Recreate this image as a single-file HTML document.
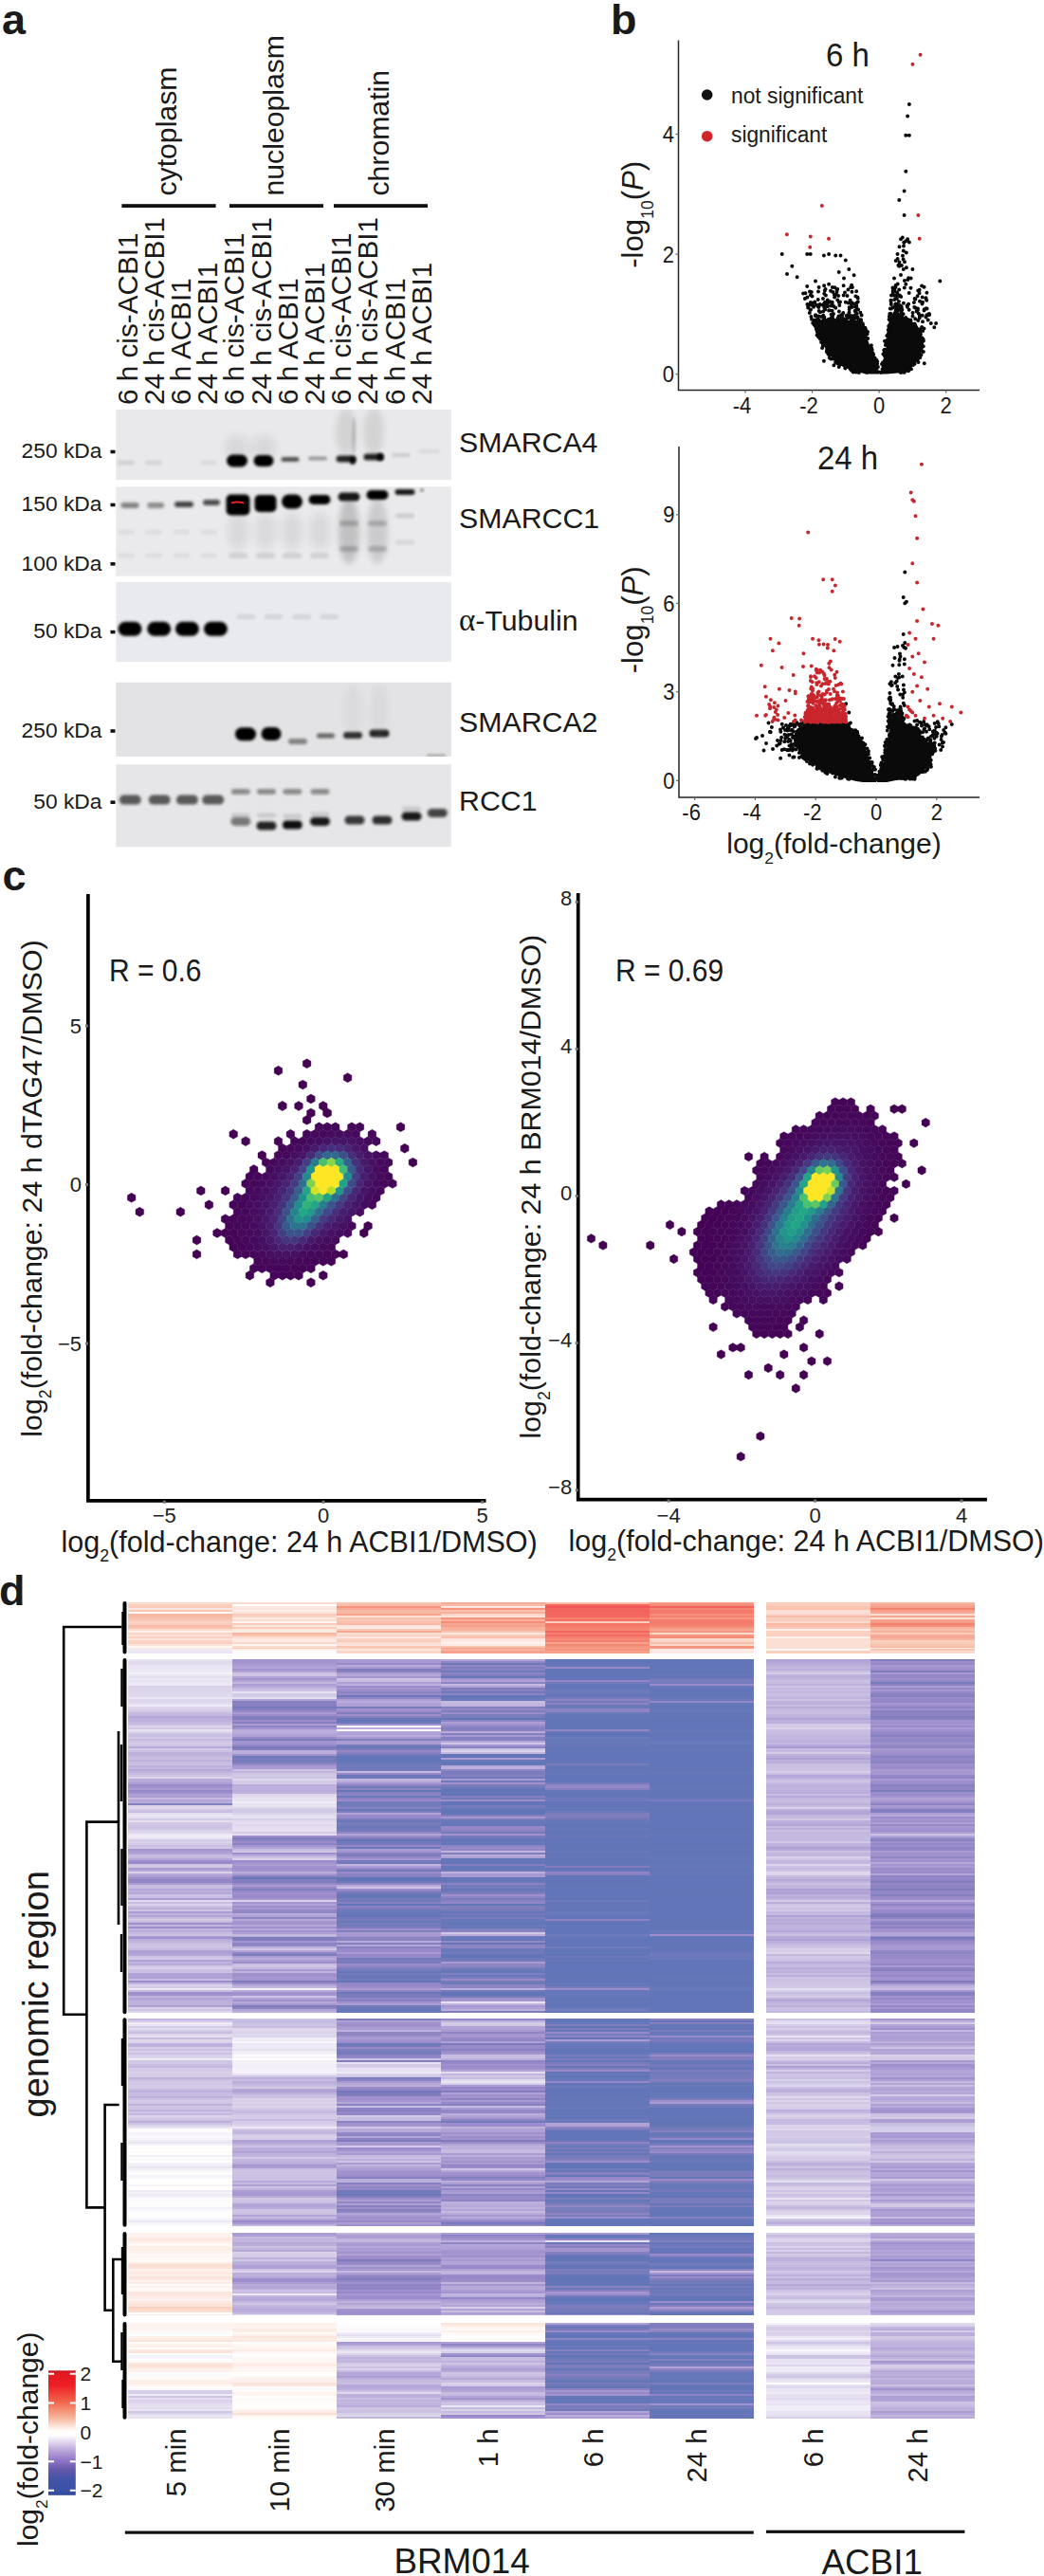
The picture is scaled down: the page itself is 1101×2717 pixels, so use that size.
<!DOCTYPE html><html><head><meta charset="utf-8"><style>html,body{margin:0;padding:0;background:#fff;}svg{display:block;}.hm div{position:absolute;}text{font-family:'Liberation Sans',sans-serif;}</style></head><body><svg width="1101" height="2717" viewBox="0 0 1101 2717"><rect width="1101" height="2717" fill="#fff"/>
<text x="2.0" y="36.0" font-size="45" text-anchor="start" font-weight="bold" fill="#1a1a1a">a</text>
<text x="644.0" y="36.0" font-size="45" text-anchor="start" font-weight="bold" fill="#1a1a1a">b</text>
<text x="2.5" y="939.0" font-size="45" text-anchor="start" font-weight="bold" fill="#1a1a1a">c</text>
<text x="-1.0" y="1692.6" font-size="45" text-anchor="start" font-weight="bold" fill="#1a1a1a">d</text>
<text x="186.0" y="206.5" font-size="30.2" text-anchor="start" fill="#1a1a1a" transform="rotate(-90 186.0 206.5)">cytoplasm</text>
<text x="299.0" y="206.5" font-size="30.2" text-anchor="start" fill="#1a1a1a" transform="rotate(-90 299.0 206.5)">nucleoplasm</text>
<text x="409.5" y="206.5" font-size="30.2" text-anchor="start" fill="#1a1a1a" transform="rotate(-90 409.5 206.5)">chromatin</text>
<rect x="128.4" y="215.2" width="99.2" height="3.8" fill="#111"/>
<rect x="242" y="215.2" width="99.0" height="3.8" fill="#111"/>
<rect x="352" y="215.2" width="99.0" height="3.8" fill="#111"/>
<text x="144.6" y="427.0" font-size="29.7" text-anchor="start" fill="#1a1a1a" transform="rotate(-90 144.6 427.0)">6 h cis-ACBI1</text>
<text x="172.8" y="427.0" font-size="29.7" text-anchor="start" fill="#1a1a1a" transform="rotate(-90 172.8 427.0)">24 h cis-ACBI1</text>
<text x="201.0" y="427.0" font-size="29.7" text-anchor="start" fill="#1a1a1a" transform="rotate(-90 201.0 427.0)">6 h ACBI1</text>
<text x="229.2" y="427.0" font-size="29.7" text-anchor="start" fill="#1a1a1a" transform="rotate(-90 229.2 427.0)">24 h ACBI1</text>
<text x="257.4" y="427.0" font-size="29.7" text-anchor="start" fill="#1a1a1a" transform="rotate(-90 257.4 427.0)">6 h cis-ACBI1</text>
<text x="285.6" y="427.0" font-size="29.7" text-anchor="start" fill="#1a1a1a" transform="rotate(-90 285.6 427.0)">24 h cis-ACBI1</text>
<text x="313.8" y="427.0" font-size="29.7" text-anchor="start" fill="#1a1a1a" transform="rotate(-90 313.8 427.0)">6 h ACBI1</text>
<text x="342.0" y="427.0" font-size="29.7" text-anchor="start" fill="#1a1a1a" transform="rotate(-90 342.0 427.0)">24 h ACBI1</text>
<text x="370.2" y="427.0" font-size="29.7" text-anchor="start" fill="#1a1a1a" transform="rotate(-90 370.2 427.0)">6 h cis-ACBI1</text>
<text x="398.4" y="427.0" font-size="29.7" text-anchor="start" fill="#1a1a1a" transform="rotate(-90 398.4 427.0)">24 h cis-ACBI1</text>
<text x="426.6" y="427.0" font-size="29.7" text-anchor="start" fill="#1a1a1a" transform="rotate(-90 426.6 427.0)">6 h ACBI1</text>
<text x="454.8" y="427.0" font-size="29.7" text-anchor="start" fill="#1a1a1a" transform="rotate(-90 454.8 427.0)">24 h ACBI1</text>
<defs><filter id="bl1" x="-50%" y="-50%" width="200%" height="200%"><feGaussianBlur stdDeviation="1.6"/></filter><filter id="bl2" x="-50%" y="-50%" width="200%" height="200%"><feGaussianBlur stdDeviation="3"/></filter><filter id="bl3" x="-50%" y="-50%" width="200%" height="200%"><feGaussianBlur stdDeviation="5"/></filter><clipPath id="cpb1"><rect x="122.3" y="431.9" width="353.5" height="74.1"/></clipPath><clipPath id="cpb2"><rect x="122.3" y="513.3" width="353.5" height="94.3"/></clipPath><clipPath id="cpb3"><rect x="122.3" y="614" width="353.5" height="84"/></clipPath><clipPath id="cpb4"><rect x="122.3" y="719.7" width="353.5" height="78.3"/></clipPath><clipPath id="cpb5"><rect x="122.3" y="806.3" width="353.5" height="87"/></clipPath></defs><rect x="122.3" y="431.9" width="353.5" height="74.1" fill="#e9e9eb"/><rect x="122.3" y="513.3" width="353.5" height="94.3" fill="#eaeaec"/><rect x="122.3" y="614" width="353.5" height="84.0" fill="#e9eaee"/><rect x="122.3" y="719.7" width="353.5" height="78.3" fill="#e3e3e5"/><rect x="122.3" y="806.3" width="353.5" height="87.0" fill="#e6e6e8"/><g clip-path="url(#cpb1)"><rect x="124.0" y="485.5" width="18.0" height="5.0" rx="2.5" fill="#000" opacity="0.1" filter="url(#bl1)"/><rect x="153.1" y="485.5" width="18.0" height="5.0" rx="2.5" fill="#000" opacity="0.08" filter="url(#bl1)"/><rect x="211.3" y="485.5" width="18.0" height="5.0" rx="2.5" fill="#000" opacity="0.06" filter="url(#bl1)"/><rect x="237.0" y="459.0" width="26.0" height="26.0" rx="13.0" fill="#000" opacity="0.07" filter="url(#bl3)"/><rect x="265.0" y="459.0" width="26.0" height="26.0" rx="13.0" fill="#000" opacity="0.07" filter="url(#bl3)"/><rect x="239.0" y="479.5" width="22.0" height="13.0" rx="6.5" fill="#000" opacity="1" filter="url(#bl1)"/><rect x="267.5" y="480.0" width="21.0" height="12.0" rx="6.0" fill="#000" opacity="1" filter="url(#bl1)"/><rect x="296.5" y="481.9" width="19.0" height="5.0" rx="2.5" fill="#222" opacity="0.75" filter="url(#bl1)"/><rect x="325.0" y="481.5" width="20.0" height="4.0" rx="2.0" fill="#555" opacity="0.55" filter="url(#bl1)"/><rect x="354.0" y="430.0" width="22.0" height="50.0" rx="25.0" fill="#888" opacity="0.22" filter="url(#bl2)"/><rect x="383.0" y="430.0" width="22.0" height="50.0" rx="25.0" fill="#888" opacity="0.22" filter="url(#bl2)"/><rect x="371.0" y="440.0" width="4.0" height="40.0" rx="20.0" fill="#555" opacity="0.25" filter="url(#bl1)"/><rect x="354.5" y="480.5" width="21.0" height="7.0" rx="3.5" fill="#111" opacity="0.9" filter="url(#bl1)"/><rect x="369.0" y="482.0" width="6.0" height="8.0" rx="4.0" fill="#000" opacity="0.9" filter="url(#bl1)"/><rect x="383.5" y="478.5" width="21.0" height="7.0" rx="3.5" fill="#111" opacity="0.9" filter="url(#bl1)"/><rect x="397.5" y="478.0" width="7.0" height="8.0" rx="4.0" fill="#000" opacity="0.9" filter="url(#bl1)"/><rect x="413.0" y="478.0" width="20.0" height="4.0" rx="2.0" fill="#888" opacity="0.3" filter="url(#bl1)"/><rect x="442.0" y="474.0" width="22.0" height="4.0" rx="2.0" fill="#999" opacity="0.2" filter="url(#bl1)"/></g><g clip-path="url(#cpb2)"><rect x="127.5" y="530.0" width="19.0" height="6.0" rx="3.0" fill="#333" opacity="0.55" filter="url(#bl1)"/><rect x="155.2" y="530.0" width="18.0" height="6.0" rx="3.0" fill="#333" opacity="0.5" filter="url(#bl1)"/><rect x="184.0" y="529.0" width="20.0" height="6.0" rx="3.0" fill="#111" opacity="0.75" filter="url(#bl1)"/><rect x="214.0" y="527.0" width="18.0" height="6.0" rx="3.0" fill="#111" opacity="0.7" filter="url(#bl1)"/><rect x="124.0" y="558.5" width="18.0" height="5.0" rx="2.5" fill="#000" opacity="0.05" filter="url(#bl1)"/><rect x="124.0" y="583.5" width="18.0" height="5.0" rx="2.5" fill="#000" opacity="0.05" filter="url(#bl1)"/><rect x="153.1" y="558.5" width="18.0" height="5.0" rx="2.5" fill="#000" opacity="0.05" filter="url(#bl1)"/><rect x="153.1" y="583.5" width="18.0" height="5.0" rx="2.5" fill="#000" opacity="0.05" filter="url(#bl1)"/><rect x="182.2" y="558.5" width="18.0" height="5.0" rx="2.5" fill="#000" opacity="0.05" filter="url(#bl1)"/><rect x="182.2" y="583.5" width="18.0" height="5.0" rx="2.5" fill="#000" opacity="0.05" filter="url(#bl1)"/><rect x="211.3" y="558.5" width="18.0" height="5.0" rx="2.5" fill="#000" opacity="0.05" filter="url(#bl1)"/><rect x="211.3" y="583.5" width="18.0" height="5.0" rx="2.5" fill="#000" opacity="0.05" filter="url(#bl1)"/><rect x="238.5" y="521.5" width="25.0" height="22.0" rx="5.0" fill="#000" opacity="1" filter="url(#bl1)"/><rect x="268.5" y="522.0" width="23.0" height="18.0" rx="5.0" fill="#000" opacity="1" filter="url(#bl1)"/><rect x="297.0" y="521.5" width="22.0" height="15.0" rx="7.5" fill="#000" opacity="1" filter="url(#bl1)"/><rect x="325.5" y="522.0" width="23.0" height="10.0" rx="5.0" fill="#000" opacity="1" filter="url(#bl1)"/><rect x="356.5" y="519.5" width="23.0" height="9.0" rx="4.5" fill="#000" opacity="0.9" filter="url(#bl1)"/><rect x="386.5" y="517.0" width="23.0" height="10.0" rx="5.0" fill="#000" opacity="1" filter="url(#bl1)"/><rect x="416.5" y="516.0" width="21.0" height="6.0" rx="3.0" fill="#000" opacity="0.9" filter="url(#bl1)"/><rect x="443.0" y="515.5" width="4.0" height="3.0" rx="1.5" fill="#000" opacity="0.5" filter="url(#bl1)"/><rect x="240.0" y="540.0" width="22.0" height="40.0" rx="20.0" fill="#000" opacity="0.07" filter="url(#bl3)"/><rect x="241.0" y="583.0" width="20.0" height="6.0" rx="3.0" fill="#000" opacity="0.1" filter="url(#bl1)"/><rect x="269.0" y="540.0" width="22.0" height="40.0" rx="20.0" fill="#000" opacity="0.07" filter="url(#bl3)"/><rect x="270.0" y="583.0" width="20.0" height="6.0" rx="3.0" fill="#000" opacity="0.1" filter="url(#bl1)"/><rect x="297.0" y="540.0" width="22.0" height="40.0" rx="20.0" fill="#000" opacity="0.07" filter="url(#bl3)"/><rect x="298.0" y="583.0" width="20.0" height="6.0" rx="3.0" fill="#000" opacity="0.1" filter="url(#bl1)"/><rect x="326.0" y="540.0" width="22.0" height="40.0" rx="20.0" fill="#000" opacity="0.07" filter="url(#bl3)"/><rect x="327.0" y="583.0" width="20.0" height="6.0" rx="3.0" fill="#000" opacity="0.1" filter="url(#bl1)"/><rect x="357.0" y="525.0" width="22.0" height="70.0" rx="35.0" fill="#333" opacity="0.22" filter="url(#bl2)"/><rect x="358.0" y="549.0" width="20.0" height="6.0" rx="3.0" fill="#000" opacity="0.18" filter="url(#bl1)"/><rect x="358.0" y="576.0" width="20.0" height="6.0" rx="3.0" fill="#000" opacity="0.18" filter="url(#bl1)"/><rect x="387.0" y="525.0" width="22.0" height="70.0" rx="35.0" fill="#333" opacity="0.16" filter="url(#bl2)"/><rect x="388.0" y="549.0" width="20.0" height="6.0" rx="3.0" fill="#000" opacity="0.18" filter="url(#bl1)"/><rect x="388.0" y="576.0" width="20.0" height="6.0" rx="3.0" fill="#000" opacity="0.18" filter="url(#bl1)"/><rect x="417.0" y="541.5" width="20.0" height="5.0" rx="2.5" fill="#000" opacity="0.12" filter="url(#bl1)"/><rect x="417.0" y="569.5" width="20.0" height="5.0" rx="2.5" fill="#000" opacity="0.08" filter="url(#bl1)"/><path d="M244 530.5q6 -2 13 0" stroke="#e8202a" stroke-width="2" fill="none"/></g><g clip-path="url(#cpb3)"><rect x="124.5" y="655.7" width="25.0" height="15.0" rx="7.5" fill="#000" opacity="1" filter="url(#bl1)"/><rect x="155.2" y="655.7" width="25.0" height="15.0" rx="7.5" fill="#000" opacity="1" filter="url(#bl1)"/><rect x="184.9" y="655.7" width="25.0" height="15.0" rx="7.5" fill="#000" opacity="1" filter="url(#bl1)"/><rect x="214.9" y="655.7" width="25.0" height="15.0" rx="7.5" fill="#000" opacity="1" filter="url(#bl1)"/><rect x="249.3" y="648.0" width="20.0" height="5.0" rx="2.5" fill="#000" opacity="0.09" filter="url(#bl1)"/><rect x="278.4" y="648.0" width="20.0" height="5.0" rx="2.5" fill="#000" opacity="0.09" filter="url(#bl1)"/><rect x="308.2" y="648.0" width="20.0" height="5.0" rx="2.5" fill="#000" opacity="0.09" filter="url(#bl1)"/><rect x="337.0" y="648.0" width="20.0" height="5.0" rx="2.5" fill="#000" opacity="0.09" filter="url(#bl1)"/></g><g clip-path="url(#cpb4)"><rect x="248.0" y="767.3" width="22.0" height="14.0" rx="7.0" fill="#000" opacity="1" filter="url(#bl1)"/><rect x="275.5" y="767.0" width="21.0" height="14.0" rx="7.0" fill="#000" opacity="1" filter="url(#bl1)"/><rect x="304.0" y="779.0" width="20.0" height="6.0" rx="3.0" fill="#444" opacity="0.6" filter="url(#bl1)"/><rect x="334.0" y="773.5" width="19.0" height="5.0" rx="2.5" fill="#333" opacity="0.7" filter="url(#bl1)"/><rect x="362.0" y="772.0" width="20.0" height="7.0" rx="3.5" fill="#000" opacity="0.8" filter="url(#bl1)"/><rect x="389.5" y="769.5" width="21.0" height="8.0" rx="4.0" fill="#000" opacity="0.85" filter="url(#bl1)"/><rect x="362.0" y="722.5" width="20.0" height="55.0" rx="27.5" fill="#999" opacity="0.1" filter="url(#bl2)"/><rect x="390.0" y="722.5" width="20.0" height="55.0" rx="27.5" fill="#999" opacity="0.1" filter="url(#bl2)"/><rect x="450.0" y="795.5" width="20.0" height="3.0" rx="1.5" fill="#666" opacity="0.5" filter="url(#bl1)"/></g><g clip-path="url(#cpb5)"><rect x="125.8" y="838.6" width="23.0" height="10.0" rx="5.0" fill="#333" opacity="0.78" filter="url(#bl1)"/><rect x="156.7" y="838.6" width="23.0" height="10.0" rx="5.0" fill="#333" opacity="0.78" filter="url(#bl1)"/><rect x="185.9" y="838.6" width="23.0" height="10.0" rx="5.0" fill="#333" opacity="0.78" filter="url(#bl1)"/><rect x="213.2" y="838.6" width="23.0" height="10.0" rx="5.0" fill="#333" opacity="0.78" filter="url(#bl1)"/><rect x="243.8" y="832.0" width="20.0" height="6.0" rx="3.0" fill="#444" opacity="0.55" filter="url(#bl1)"/><rect x="271.0" y="832.0" width="20.0" height="6.0" rx="3.0" fill="#444" opacity="0.55" filter="url(#bl1)"/><rect x="298.4" y="832.0" width="20.0" height="6.0" rx="3.0" fill="#444" opacity="0.55" filter="url(#bl1)"/><rect x="327.5" y="832.0" width="20.0" height="6.0" rx="3.0" fill="#444" opacity="0.55" filter="url(#bl1)"/><rect x="243.3" y="861.9" width="21.0" height="9.0" rx="4.5" fill="#111" opacity="0.5" filter="url(#bl1)"/><rect x="270.5" y="866.5" width="21.0" height="9.0" rx="4.5" fill="#111" opacity="0.9" filter="url(#bl1)"/><rect x="297.9" y="865.5" width="21.0" height="9.0" rx="4.5" fill="#111" opacity="1.0" filter="url(#bl1)"/><rect x="327.0" y="861.9" width="21.0" height="9.0" rx="4.5" fill="#111" opacity="0.95" filter="url(#bl1)"/><rect x="363.5" y="860.5" width="21.0" height="9.0" rx="4.5" fill="#111" opacity="0.8" filter="url(#bl1)"/><rect x="392.5" y="860.5" width="21.0" height="9.0" rx="4.5" fill="#111" opacity="0.85" filter="url(#bl1)"/><rect x="423.5" y="856.5" width="21.0" height="9.0" rx="4.5" fill="#111" opacity="0.95" filter="url(#bl1)"/><rect x="450.8" y="853.0" width="21.0" height="9.0" rx="4.5" fill="#111" opacity="0.75" filter="url(#bl1)"/><rect x="243.8" y="857.5" width="20.0" height="5.0" rx="2.5" fill="#000" opacity="0.12" filter="url(#bl1)"/><rect x="271.0" y="857.5" width="20.0" height="5.0" rx="2.5" fill="#000" opacity="0.12" filter="url(#bl1)"/><rect x="298.4" y="858.5" width="20.0" height="5.0" rx="2.5" fill="#000" opacity="0.12" filter="url(#bl1)"/><rect x="327.5" y="856.5" width="20.0" height="5.0" rx="2.5" fill="#000" opacity="0.12" filter="url(#bl1)"/><rect x="424.0" y="850.5" width="20.0" height="5.0" rx="2.5" fill="#000" opacity="0.12" filter="url(#bl1)"/></g>
<text x="107.5" y="483.2" font-size="22.8" text-anchor="end" fill="#1a1a1a">250 kDa</text>
<rect x="116.5" y="474.7" width="5" height="3.6" fill="#111"/>
<text x="107.5" y="539.2" font-size="22.8" text-anchor="end" fill="#1a1a1a">150 kDa</text>
<rect x="116.5" y="530.7" width="5" height="3.6" fill="#111"/>
<text x="107.5" y="601.5" font-size="22.8" text-anchor="end" fill="#1a1a1a">100 kDa</text>
<rect x="116.5" y="593.0" width="5" height="3.6" fill="#111"/>
<text x="107.5" y="673.3" font-size="22.8" text-anchor="end" fill="#1a1a1a">50 kDa</text>
<rect x="116.5" y="664.8" width="5" height="3.6" fill="#111"/>
<text x="107.5" y="777.7" font-size="22.8" text-anchor="end" fill="#1a1a1a">250 kDa</text>
<rect x="116.5" y="769.2" width="5" height="3.6" fill="#111"/>
<text x="107.5" y="852.9" font-size="22.8" text-anchor="end" fill="#1a1a1a">50 kDa</text>
<rect x="116.5" y="844.4" width="5" height="3.6" fill="#111"/>
<text x="484.0" y="477.3" font-size="30.3" text-anchor="start" fill="#1a1a1a">SMARCA4</text>
<text x="484.0" y="556.7" font-size="30.3" text-anchor="start" fill="#1a1a1a">SMARCC1</text>
<text x="484.0" y="772.0" font-size="30.3" text-anchor="start" fill="#1a1a1a">SMARCA2</text>
<text x="484.0" y="854.5" font-size="30.3" text-anchor="start" fill="#1a1a1a">RCC1</text>
<text x="484" y="665" font-size="30.3" fill="#1a1a1a"><tspan font-family="Liberation Serif" font-size="33">&#945;</tspan>-Tubulin</text>
<path d="M715.5 42.5V411.5H1033" fill="none" stroke="#262626" stroke-width="1.5"/>
<path d="M712.5 394.7H715.5" stroke="#666" stroke-width="1.20"/>
<text x="711.0" y="403.3" font-size="22" text-anchor="end" fill="#1a1a1a" transform="translate(0 -32.26) scale(1 1.08)">0</text>
<path d="M712.5 268.1H715.5" stroke="#666" stroke-width="1.20"/>
<text x="711.0" y="276.7" font-size="22" text-anchor="end" fill="#1a1a1a" transform="translate(0 -22.13) scale(1 1.08)">2</text>
<path d="M712.5 141.5H715.5" stroke="#666" stroke-width="1.20"/>
<text x="711.0" y="150.1" font-size="22" text-anchor="end" fill="#1a1a1a" transform="translate(0 -12.00) scale(1 1.08)">4</text>
<path d="M785.9 411.5V414.5" stroke="#666" stroke-width="1.20"/>
<text x="782.4" y="435.8" font-size="22" text-anchor="middle" fill="#1a1a1a" transform="translate(0 -34.86) scale(1 1.08)">-4</text>
<path d="M856.5 411.5V414.5" stroke="#666" stroke-width="1.20"/>
<text x="853.0" y="435.8" font-size="22" text-anchor="middle" fill="#1a1a1a" transform="translate(0 -34.86) scale(1 1.08)">-2</text>
<path d="M927.1 411.5V414.5" stroke="#666" stroke-width="1.20"/>
<text x="927.1" y="435.8" font-size="22" text-anchor="middle" fill="#1a1a1a" transform="translate(0 -34.86) scale(1 1.08)">0</text>
<path d="M997.7 411.5V414.5" stroke="#666" stroke-width="1.20"/>
<text x="997.7" y="435.8" font-size="22" text-anchor="middle" fill="#1a1a1a" transform="translate(0 -34.86) scale(1 1.08)">2</text>
<text x="894.0" y="70.0" font-size="33" text-anchor="middle" fill="#1a1a1a" transform="translate(0 -5.60) scale(1 1.08)">6 h</text>
<circle cx="745.7" cy="100" r="5.8" fill="#111"/>
<circle cx="745.7" cy="143.7" r="5.8" fill="#d1232a"/>
<text x="771.0" y="108.6" font-size="22.8" text-anchor="start" fill="#1a1a1a" transform="translate(0 -8.69) scale(1 1.08)">not significant</text>
<text x="771.0" y="150.0" font-size="22.8" text-anchor="start" fill="#1a1a1a" transform="translate(0 -12.00) scale(1 1.08)">significant</text>
<text x="678" y="226.3" font-size="31.2" text-anchor="middle" fill="#1a1a1a" transform="rotate(-90 678 226.3)">-log<tspan font-size="17.5" dy="10.6">10</tspan><tspan dy="-10.6">(</tspan><tspan font-style="italic">P</tspan>)</text>
<path d="M716 471V841H1033" fill="none" stroke="#262626" stroke-width="1.5"/>
<path d="M713 823.3H716" stroke="#666" stroke-width="1.20"/>
<text x="711.5" y="831.9" font-size="22" text-anchor="end" fill="#1a1a1a" transform="translate(0 -66.55) scale(1 1.08)">0</text>
<path d="M713 729.8H716" stroke="#666" stroke-width="1.20"/>
<text x="711.5" y="738.3" font-size="22" text-anchor="end" fill="#1a1a1a" transform="translate(0 -59.07) scale(1 1.08)">3</text>
<path d="M713 636.3H716" stroke="#666" stroke-width="1.20"/>
<text x="711.5" y="644.8" font-size="22" text-anchor="end" fill="#1a1a1a" transform="translate(0 -51.59) scale(1 1.08)">6</text>
<path d="M713 542.8H716" stroke="#666" stroke-width="1.20"/>
<text x="711.5" y="551.3" font-size="22" text-anchor="end" fill="#1a1a1a" transform="translate(0 -44.11) scale(1 1.08)">9</text>
<path d="M732.6 841V844" stroke="#666" stroke-width="1.20"/>
<text x="729.1" y="865.3" font-size="22" text-anchor="middle" fill="#1a1a1a" transform="translate(0 -69.22) scale(1 1.08)">-6</text>
<path d="M796.4 841V844" stroke="#666" stroke-width="1.20"/>
<text x="792.9" y="865.3" font-size="22" text-anchor="middle" fill="#1a1a1a" transform="translate(0 -69.22) scale(1 1.08)">-4</text>
<path d="M860.2 841V844" stroke="#666" stroke-width="1.20"/>
<text x="856.7" y="865.3" font-size="22" text-anchor="middle" fill="#1a1a1a" transform="translate(0 -69.22) scale(1 1.08)">-2</text>
<path d="M924.0 841V844" stroke="#666" stroke-width="1.20"/>
<text x="924.0" y="865.3" font-size="22" text-anchor="middle" fill="#1a1a1a" transform="translate(0 -69.22) scale(1 1.08)">0</text>
<path d="M987.8 841V844" stroke="#666" stroke-width="1.20"/>
<text x="987.8" y="865.3" font-size="22" text-anchor="middle" fill="#1a1a1a" transform="translate(0 -69.22) scale(1 1.08)">2</text>
<text x="894.0" y="495.2" font-size="33" text-anchor="middle" fill="#1a1a1a" transform="translate(0 -39.62) scale(1 1.08)">24 h</text>
<text x="678" y="653.8" font-size="31.2" text-anchor="middle" fill="#1a1a1a" transform="rotate(-90 678 653.8)">-log<tspan font-size="17.5" dy="10.6">10</tspan><tspan dy="-10.6">(</tspan><tspan font-style="italic">P</tspan>)</text>
<text x="879.5" y="900.4" font-size="30" text-anchor="middle" fill="#1a1a1a">log<tspan font-size="17.4" dy="10.2">2</tspan><tspan dy="-10.2">(fold-change)</tspan></text>
<path d="M913.0 394.5L900.6 391.0L890.5 388.0L880.5 381.0L872.4 371.0L866.4 361.0L859.5 341.0L858.5 338.0L908.1 338.0L909.0 341.0L916.0 361.0L919.5 371.0L923.0 381.0L925.0 388.0L926.0 391.0L927.0 394.5Z" fill="#0a0a0a"/><path d="M919.1 370.4h0M919.7 368.9h0M879.9 338.1h0M866.1 361.1h0M861.0 341.6h0M859.8 339.3h0M901.6 391.4h0M902.9 392.4h0M908.4 341.2h0M874.5 370.3h0M863.4 340.7h0M924.9 388.1h0M922.6 377.4h0M858.6 341.4h0M876.7 339.9h0M910.1 342.8h0M899.8 392.5h0M888.9 335.9h0M867.8 364.3h0M925.0 383.0h0M900.8 391.7h0M909.6 344.4h0M925.1 383.8h0M874.1 372.3h0M925.9 387.0h0M923.3 381.6h0M915.0 350.0h0M878.4 339.2h0M862.5 338.1h0M877.2 373.5h0M862.9 355.1h0M918.7 368.4h0M864.2 355.2h0M885.1 384.1h0M911.3 347.8h0M867.1 339.3h0M918.8 368.7h0M872.0 369.4h0M863.7 355.8h0M918.7 367.4h0M877.7 338.1h0M878.9 337.6h0M871.8 370.8h0M896.7 389.3h0M921.6 377.6h0M860.8 346.2h0M857.2 340.7h0M888.2 339.7h0M872.4 369.7h0M914.2 356.9h0M909.8 343.4h0M909.5 346.9h0M870.3 338.1h0M874.0 370.5h0M907.7 337.7h0M891.3 388.4h0M910.2 348.0h0M905.3 337.1h0M859.7 344.1h0M919.2 367.4h0M876.1 378.4h0M858.5 342.4h0M918.4 367.2h0M859.6 343.6h0M913.5 351.1h0M902.2 340.1h0M912.7 352.6h0M917.8 370.6h0M881.1 381.9h0M914.6 352.3h0M922.3 378.1h0M860.7 339.6h0M889.0 336.8h0M873.5 337.3h0M864.5 355.3h0M859.7 337.6h0M861.3 339.2h0M906.3 339.3h0M926.2 392.3h0M862.3 353.2h0M914.1 392.8h0M878.6 378.4h0M919.5 371.9h0M882.4 382.3h0M858.2 338.3h0M897.9 390.7h0M923.1 380.0h0M919.9 373.3h0M886.3 384.6h0M883.5 335.5h0M867.1 367.0h0M876.5 339.4h0M889.6 338.2h0M891.8 387.0h0M923.9 380.3h0M868.1 363.2h0M867.2 338.9h0M901.1 390.9h0M879.1 376.8h0M864.1 351.6h0M923.4 386.4h0M875.4 337.3h0M868.4 337.3h0M909.8 341.2h0M924.2 379.4h0M861.6 353.5h0M919.1 367.6h0M859.6 339.2h0M897.2 338.7h0M915.2 357.0h0M878.4 337.5h0M910.9 348.0h0M913.0 347.8h0M905.9 393.0h0M883.0 383.3h0M874.5 374.4h0M874.7 377.2h0M903.5 392.2h0M873.4 373.6h0M900.2 336.4h0M924.5 386.0h0M861.7 350.1h0M860.9 347.2h0M861.1 338.2h0M912.4 345.7h0M918.9 364.2h0M861.5 344.1h0M912.9 349.0h0M863.1 349.7h0M920.5 372.5h0M872.1 371.5h0M925.2 381.2h0M878.3 339.1h0M913.0 355.4h0M885.4 338.1h0M865.0 357.6h0M877.3 338.5h0M903.2 390.1h0M884.9 338.5h0M873.8 337.5h0M921.2 373.9h0" stroke="#0a0a0a" stroke-width="4.0" stroke-linecap="round" fill="none"/><path d="M935.0 394.5L952.0 393.0L962.0 387.0L967.0 381.0L972.0 371.0L973.0 361.0L971.0 351.0L961.0 341.0L957.0 336.0L938.3 336.0L937.8 341.0L936.4 351.0L935.2 361.0L933.8 371.0L931.8 381.0L930.5 387.0L928.7 393.0L927.5 394.5Z" fill="#0a0a0a"/><path d="M948.3 391.4h0M972.1 361.6h0M959.8 389.5h0M970.5 349.9h0M968.7 347.4h0M969.9 375.0h0M967.3 349.1h0M937.4 347.7h0M944.8 336.7h0M970.6 374.4h0M936.4 354.5h0M937.0 351.6h0M966.3 344.9h0M961.6 344.0h0M962.9 385.0h0M932.6 374.0h0M972.0 356.3h0M971.6 368.2h0M931.1 389.5h0M972.0 366.6h0M964.3 381.9h0M970.9 352.4h0M955.2 335.1h0M938.6 334.8h0M968.1 347.9h0M937.6 346.4h0M930.5 389.6h0M961.6 342.2h0M963.1 342.4h0M965.2 343.0h0M973.8 371.1h0M933.4 371.2h0M964.4 341.8h0M950.7 392.0h0M972.5 358.1h0M959.4 338.3h0M971.5 357.3h0M953.8 392.7h0M930.0 384.0h0M960.2 388.5h0M937.5 356.7h0M965.7 345.7h0M959.7 337.8h0M937.9 346.8h0M960.5 338.8h0M961.3 342.1h0M965.7 346.4h0M959.1 338.5h0M962.5 342.9h0M973.0 359.3h0M955.4 391.1h0M971.0 356.0h0M936.7 348.0h0M934.3 371.7h0M934.4 361.7h0M973.6 357.7h0M959.2 339.3h0M934.3 370.7h0M948.1 335.2h0M933.2 368.7h0M938.0 349.5h0M945.5 335.0h0M938.7 335.5h0M969.8 372.4h0M931.3 386.0h0M972.2 358.7h0M960.3 337.4h0M935.5 362.5h0M938.5 342.0h0M968.5 377.2h0M932.3 373.5h0M950.4 335.7h0M932.6 372.6h0M968.5 378.0h0M933.5 376.5h0M958.0 391.1h0M932.5 388.4h0M934.7 369.7h0M971.5 374.2h0M972.3 358.5h0M958.0 391.3h0M943.2 336.0h0M939.1 336.9h0M959.2 388.3h0M931.4 373.6h0M957.5 338.6h0M941.3 334.7h0M937.2 344.0h0M968.5 382.0h0M932.2 369.2h0M968.7 348.1h0M957.6 337.8h0M956.9 390.8h0M969.5 373.6h0M961.2 341.3h0M935.3 353.9h0M962.1 345.0h0M948.1 335.0h0M933.0 359.8h0M967.8 347.1h0M947.8 339.0h0M928.9 392.7h0M961.0 341.6h0M938.5 342.6h0M957.5 337.1h0M951.7 392.4h0M956.2 336.4h0M950.0 393.0h0M973.4 357.9h0M964.6 383.7h0M956.1 337.1h0M967.6 379.1h0M973.9 359.5h0M933.9 373.8h0M954.3 337.0h0M933.9 364.0h0M933.0 380.1h0M932.7 375.1h0M957.5 389.7h0M931.1 382.3h0M954.2 390.1h0M937.4 357.5h0M973.8 365.3h0M954.4 390.9h0M937.6 337.1h0M972.2 365.1h0M948.2 336.8h0M967.6 379.8h0M970.4 348.2h0M932.1 385.2h0M941.5 336.1h0M960.1 339.9h0M938.1 355.0h0M972.3 361.4h0M953.0 392.1h0M970.4 377.1h0M961.0 389.2h0M970.4 347.4h0M935.9 358.3h0" stroke="#0a0a0a" stroke-width="4.0" stroke-linecap="round" fill="none"/><path d="M905.1 326.5h0M892.5 332.9h0M859.2 318.6h0M861.0 321.7h0M876.3 335.4h0M903.3 324.7h0M879.6 323.2h0M870.8 338.0h0M866.2 333.9h0M869.2 336.9h0M884.4 335.2h0M864.9 329.3h0M856.7 322.1h0M899.5 333.3h0M889.3 330.1h0M887.3 334.0h0M868.3 332.8h0M878.1 335.4h0M898.4 319.2h0M865.1 321.6h0M879.4 337.4h0M859.8 333.1h0M877.0 337.1h0M854.7 319.2h0M895.5 329.5h0M904.8 318.3h0M854.8 321.5h0M869.9 319.0h0M903.2 322.2h0M858.0 323.7h0M894.7 319.6h0M860.2 332.3h0M879.0 330.9h0M897.3 333.1h0M899.5 339.5h0M895.7 324.2h0M869.1 323.4h0M881.3 324.7h0M862.4 335.9h0M908.6 332.4h0M895.0 334.5h0M872.8 323.2h0M877.7 320.9h0M884.9 328.4h0M875.6 337.9h0M869.5 323.7h0M904.6 334.8h0M863.3 333.5h0M904.3 326.1h0M884.5 333.4h0M881.3 338.3h0M876.9 322.6h0M852.2 323.7h0M870.2 326.6h0M876.3 322.3h0M855.0 326.8h0M855.4 334.1h0M856.0 336.8h0M888.1 332.6h0M853.8 329.9h0M908.1 338.3h0M885.3 322.1h0M893.8 333.3h0M854.5 326.4h0M883.9 338.6h0M862.3 322.3h0M901.9 323.6h0M869.9 320.5h0M863.7 328.0h0M878.0 333.1h0M869.3 324.4h0M863.8 337.7h0M897.8 335.6h0M863.4 324.0h0M903.6 331.3h0M894.5 332.4h0M897.9 321.0h0M894.0 332.3h0M902.4 331.8h0M908.0 337.2h0M852.2 324.5h0M864.7 321.0h0M903.0 330.0h0M885.4 336.9h0M901.1 320.6h0M876.4 322.6h0M869.1 320.3h0M902.0 339.7h0M869.4 334.7h0M872.7 320.0h0M900.7 336.7h0M874.1 327.6h0M886.0 318.5h0M858.4 319.3h0M862.8 323.5h0M903.9 318.9h0M861.4 321.7h0M859.2 319.4h0M851.4 321.1h0M854.5 320.2h0M874.5 327.3h0M889.1 336.2h0M903.3 335.2h0M907.4 329.7h0M869.6 319.4h0M883.4 338.9h0M872.3 319.5h0M875.3 318.3h0M901.6 334.5h0M876.6 331.8h0M895.6 334.7h0M898.5 324.0h0M878.2 337.6h0M874.4 337.2h0M855.0 319.0h0M893.1 339.0h0M898.7 334.9h0M890.2 336.8h0M868.1 328.5h0M893.6 335.5h0M868.3 338.1h0M899.8 337.7h0M903.2 324.1h0M868.6 321.8h0M887.2 332.3h0M877.6 327.8h0M873.8 336.9h0M901.6 327.9h0M868.0 321.5h0M895.7 326.3h0" stroke="#0a0a0a" stroke-width="4.0" stroke-linecap="round" fill="none"/><path d="M880.1 313.6h0M851.2 302.0h0M848.9 314.9h0M876.0 306.8h0M882.6 306.6h0M878.3 308.0h0M903.2 307.2h0M854.0 307.6h0M851.4 313.6h0M894.4 305.6h0M897.2 302.9h0M904.4 313.6h0M898.4 307.7h0M869.2 309.7h0M877.8 303.1h0M884.1 312.1h0M879.9 311.0h0M870.9 311.4h0M896.6 316.8h0M889.6 301.3h0M847.1 309.4h0M898.1 300.8h0M869.8 306.6h0M889.6 311.6h0M904.7 314.6h0M883.2 305.0h0M862.7 316.1h0M883.3 316.6h0M872.8 316.6h0M855.8 307.9h0M854.9 311.3h0M891.0 308.6h0M869.1 301.2h0M870.5 304.9h0M868.0 315.1h0M880.4 303.3h0M882.5 308.0h0M893.5 312.1h0M863.0 307.4h0M881.6 310.5h0" stroke="#0a0a0a" stroke-width="4.0" stroke-linecap="round" fill="none"/><path d="M944.9 333.7h0M950.8 324.2h0M946.1 341.8h0M953.2 336.0h0M938.5 333.1h0M944.5 333.9h0M947.0 334.0h0M952.2 331.4h0M951.0 333.8h0M955.0 341.0h0M939.2 330.7h0M948.5 339.5h0M944.5 322.3h0M946.0 329.3h0M952.2 339.1h0M944.4 337.1h0M945.3 324.2h0M944.9 330.2h0M942.7 332.2h0M945.6 340.7h0M948.8 324.5h0M939.9 325.5h0M950.4 328.9h0M945.0 331.3h0M938.9 338.2h0M938.3 331.1h0M951.9 338.5h0M944.6 327.3h0M943.5 330.3h0M955.4 339.8h0M947.7 332.0h0M945.0 333.7h0M950.9 331.8h0M941.8 324.2h0M937.8 333.7h0M950.3 323.1h0M938.8 325.6h0M948.9 338.9h0M941.8 339.1h0M951.0 344.3h0M949.6 339.2h0M952.6 331.2h0M948.3 326.7h0M951.4 326.8h0M944.9 327.9h0M945.8 343.0h0M947.8 331.9h0M939.5 334.1h0M938.5 333.9h0M948.1 324.7h0" stroke="#0a0a0a" stroke-width="4.0" stroke-linecap="round" fill="none"/><path d="M941.7 307.2h0M941.7 304.4h0M943.5 304.8h0M945.9 314.9h0M939.5 316.8h0M945.6 321.3h0M940.0 311.4h0M941.8 308.9h0M946.3 320.8h0M944.6 301.1h0M942.0 311.5h0M942.3 306.6h0M943.3 316.1h0M943.2 307.2h0M944.5 302.8h0M939.8 320.9h0M944.3 321.1h0M939.8 320.5h0M941.4 303.6h0M941.8 307.1h0M946.0 308.3h0M946.3 308.9h0M944.9 311.6h0M939.6 318.1h0M948.8 322.0h0" stroke="#0a0a0a" stroke-width="4.0" stroke-linecap="round" fill="none"/><path d="M956.8 365.5h0M961.0 356.3h0M962.6 330.1h0M972.7 332.7h0M958.7 326.7h0M972.5 356.8h0M973.0 339.3h0M979.7 332.3h0M965.2 336.2h0M968.8 330.8h0M974.7 326.5h0M978.7 337.4h0M966.2 368.0h0M979.7 330.9h0M956.3 353.8h0M971.0 365.2h0M970.7 363.2h0M957.7 352.8h0M972.1 345.1h0M964.6 341.5h0M973.2 349.0h0M977.6 325.5h0M967.1 362.6h0M977.4 332.3h0M969.7 335.2h0M965.5 346.3h0M968.3 337.9h0M976.9 325.3h0M969.8 332.4h0M974.5 346.6h0M972.0 363.4h0M974.5 327.4h0M967.9 326.9h0M956.3 366.9h0M968.0 325.4h0M962.5 333.4h0" stroke="#0a0a0a" stroke-width="4.0" stroke-linecap="round" fill="none"/><path d="M969.6 305.7h0M964.6 314.9h0M958.7 309.1h0M976.5 314.2h0M948.6 322.9h0M964.3 323.9h0M972.7 313.6h0M974.6 302.7h0M948.2 305.6h0M963.9 319.0h0M952.9 319.8h0M956.9 323.7h0M948.8 311.5h0M947.9 317.9h0M977.4 308.7h0M956.6 322.4h0M960.5 303.7h0M967.6 312.2h0M974.8 326.6h0M972.5 320.4h0M965.4 315.4h0M976.4 314.7h0M953.8 303.4h0M972.1 301.6h0M947.7 326.5h0M969.2 306.7h0M970.0 317.8h0M968.2 306.5h0M966.6 328.6h0M977.2 316.8h0" stroke="#0a0a0a" stroke-width="4.0" stroke-linecap="round" fill="none"/><path d="M952.0 269.8h0M957.4 295.0h0M944.7 274.9h0M952.8 264.5h0M953.0 259.4h0M946.6 272.9h0M944.8 320.5h0M952.8 283.9h0M950.9 279.9h0M955.9 282.2h0M953.3 255.7h0M950.2 313.1h0M953.9 296.1h0M954.0 276.2h0M948.7 279.6h0M947.9 312.1h0M958.1 293.3h0M952.6 273.6h0M948.5 260.3h0M958.1 320.8h0M950.0 290.1h0M946.7 299.5h0M947.4 279.7h0M948.5 276.4h0M955.8 266.6h0" stroke="#0a0a0a" stroke-width="4.0" stroke-linecap="round" fill="none"/><path d="M824.7 268.1h0M830.0 289.0h0M835.3 280.8h0M840.6 292.2h0M851.2 268.1h0M854.7 268.1h0M860.0 296.6h0M868.9 269.4h0M874.1 268.1h0M881.2 269.4h0M886.5 269.4h0M870.6 318.7h0M877.7 318.7h0M884.7 318.7h0M891.8 318.7h0M958.9 109.9h0M957.1 122.5h0M955.3 142.8h0M958.9 142.8h0M955.3 180.7h0M953.6 201.6h0M948.3 211.1h0M953.6 227.0h0M950.0 252.3h0M951.8 250.4h0M953.6 255.4h0M957.1 252.3h0M958.9 255.4h0M955.3 254.2h0M991.3 296.6h0M974.8 383.3h0M987.1 340.9h0M985.3 345.3h0M980.1 331.4h0M973.0 318.7h0M962.4 283.9h0M960.6 293.4h0M948.3 280.8h0M946.5 268.1h0M895.3 283.9h0M891.8 274.4h0M898.9 302.9h0M868.9 380.8h0M879.4 385.2h0M884.7 387.1h0M890.0 293.4h0M884.7 287.1h0M874.1 299.8h0M863.6 302.9h0M856.5 312.4h0M849.4 309.2h0M900.6 290.3h0M902.4 312.4h0M943.0 293.4h0M944.8 312.4h0M955.3 299.8h0M965.9 325.1h0M976.5 334.6h0M981.8 340.9h0M969.5 309.2h0" stroke="#0a0a0a" stroke-width="4.0" stroke-linecap="round" fill="none"/><path d="M829.9 247.2h0M854.7 249.5h0M854.2 260.8h0M866.8 217.0h0M874.0 251.7h0M962.5 67.7h0M970.6 57.7h0M968.4 226.9h0M969.7 251.7h0" stroke="#c8262c" stroke-width="4.0" stroke-linecap="round" fill="none"/><path d="M910.0 825.0L903.0 824.0L893.0 821.6L872.0 814.7L856.0 805.5L846.0 795.0L840.0 785.0L838.0 775.0L843.0 768.0L849.0 763.0L894.0 763.0L898.0 768.0L905.0 775.0L911.0 785.0L915.0 795.0L918.0 805.5L921.0 814.7L923.0 821.6L924.0 824.0L924.0 825.0Z" fill="#0a0a0a"/><path d="M853.0 799.9h0M880.9 819.4h0M842.3 769.8h0M902.3 771.4h0M914.5 799.8h0M840.2 783.1h0M844.1 791.0h0M870.4 814.8h0M885.7 818.7h0M893.1 766.2h0M897.6 819.3h0M910.9 785.2h0M879.6 763.1h0M847.7 767.0h0M846.5 795.0h0M881.5 764.1h0M914.5 789.6h0M849.9 797.7h0M871.0 763.2h0M839.6 784.2h0M871.8 815.0h0M919.2 815.7h0M837.9 776.9h0M849.7 798.4h0M904.4 773.6h0M894.1 821.6h0M878.1 815.5h0M887.2 763.1h0M901.5 821.0h0M865.3 762.5h0M913.6 794.2h0M872.3 816.0h0M840.8 779.3h0M844.5 767.6h0M838.9 776.7h0M903.4 773.9h0M882.2 764.0h0M886.8 820.3h0M849.0 800.8h0M840.1 777.8h0M858.6 762.9h0M860.0 762.2h0M850.4 762.4h0M904.0 771.7h0M847.4 762.3h0M840.8 771.5h0M885.3 820.7h0M924.2 820.7h0M879.4 762.8h0M887.7 817.7h0M852.1 799.6h0M884.1 762.3h0M884.9 766.4h0M924.9 817.8h0M846.5 795.6h0M921.1 811.5h0M917.8 804.1h0M926.0 820.6h0M867.4 812.7h0M880.0 763.4h0M864.0 808.9h0M900.7 770.4h0M915.8 795.4h0M844.2 768.5h0M851.0 803.1h0M894.8 767.2h0M919.7 804.1h0M841.0 786.7h0M868.6 812.6h0M840.8 784.2h0M898.0 770.0h0M922.6 817.0h0M846.4 790.7h0M851.7 763.1h0M851.3 765.8h0M869.7 812.5h0M887.8 820.4h0M902.2 770.2h0M843.9 792.9h0M839.4 785.4h0M869.4 812.2h0M854.9 803.0h0M865.4 810.6h0M891.2 763.1h0M840.3 785.5h0M842.9 788.8h0M904.3 776.2h0M844.6 769.3h0M892.5 764.9h0M909.6 783.3h0M915.9 792.3h0M907.9 781.8h0M923.0 811.7h0M859.1 762.1h0M862.0 808.5h0M850.5 794.7h0M863.7 808.4h0M854.0 805.5h0M857.3 804.2h0M907.8 778.9h0M842.9 794.1h0M870.9 812.2h0M857.1 806.8h0M846.2 797.1h0M839.5 786.0h0M881.9 816.3h0M918.1 807.4h0M912.1 793.7h0M868.1 764.2h0M910.8 787.0h0M865.4 764.1h0M861.5 810.4h0M868.1 764.5h0M881.0 814.7h0M838.8 780.9h0M910.2 783.6h0M915.9 811.0h0M894.8 766.3h0M921.9 808.9h0M895.4 763.8h0M920.5 820.4h0M853.8 763.0h0M847.2 799.5h0M850.1 763.0h0M847.4 762.8h0M862.9 809.9h0M920.2 808.1h0M919.8 812.6h0M867.3 812.4h0M838.5 778.7h0M858.5 762.5h0M895.4 821.7h0M879.6 763.9h0M847.3 795.8h0M911.3 788.0h0M905.5 776.5h0M844.5 785.5h0M865.4 762.5h0M847.8 762.4h0M912.4 785.2h0M843.5 788.2h0M917.2 799.4h0M900.2 771.1h0M852.2 763.0h0M844.3 790.4h0M919.4 804.9h0M886.1 820.7h0M924.5 818.2h0M910.8 784.4h0M857.2 806.5h0M869.7 764.0h0M849.3 765.2h0M839.1 778.5h0M898.9 770.3h0M870.9 764.0h0M909.0 778.6h0M901.2 772.0h0M847.1 766.4h0M856.3 765.6h0M872.5 764.0h0" stroke="#0a0a0a" stroke-width="4.0" stroke-linecap="round" fill="none"/><path d="M935.0 825.0L950.0 822.0L964.0 819.3L977.7 810.0L982.0 801.0L984.0 789.4L975.0 778.0L962.0 768.7L955.5 764.0L939.4 764.0L938.6 768.7L936.3 778.0L935.0 789.4L932.5 801.0L929.5 810.0L927.0 819.3L925.5 822.0L924.5 825.0Z" fill="#0a0a0a"/><path d="M934.7 799.8h0M971.5 814.1h0M935.8 770.6h0M949.1 765.3h0M936.4 782.3h0M983.2 795.3h0M957.7 820.0h0M978.6 806.5h0M933.5 796.3h0M924.1 822.0h0M929.3 810.8h0M936.5 784.3h0M975.9 813.7h0M986.1 789.2h0M948.7 762.0h0M941.6 765.1h0M957.0 765.3h0M936.2 786.0h0M974.8 808.9h0M981.9 794.4h0M935.7 783.4h0M965.1 770.7h0M967.9 815.7h0M957.0 765.8h0M927.6 816.2h0M932.9 786.7h0M934.0 800.3h0M982.1 793.2h0M955.0 821.8h0M975.2 779.9h0M985.3 786.6h0M938.2 774.2h0M930.2 798.3h0M980.4 804.5h0M983.6 784.4h0M967.1 817.0h0M967.9 768.9h0M959.7 821.6h0M929.4 814.4h0M980.6 804.5h0M978.1 807.7h0M931.4 806.2h0M973.6 812.0h0M977.7 812.3h0M933.4 790.9h0M964.1 768.9h0M981.2 802.3h0M929.5 804.4h0M930.1 805.6h0M935.3 779.9h0M933.7 783.0h0M974.9 808.9h0M963.7 767.4h0M939.7 762.5h0M949.4 820.7h0M942.4 763.2h0M953.5 821.2h0M962.9 768.5h0M927.8 821.4h0M946.9 764.6h0M972.2 811.2h0M940.3 766.1h0M975.8 780.5h0M955.8 765.5h0M932.1 798.8h0M934.3 782.8h0M966.2 773.9h0M934.6 791.1h0M980.8 802.3h0M927.2 817.5h0M946.2 821.1h0M935.1 783.6h0M968.9 773.7h0M936.2 781.0h0M963.2 770.3h0M981.9 808.7h0M953.6 763.8h0M967.5 770.9h0M963.0 771.3h0M964.6 821.8h0M936.0 783.2h0M938.0 765.0h0M940.4 765.0h0M978.4 810.5h0M932.6 801.3h0M925.5 819.7h0M929.4 805.6h0M945.6 764.1h0M931.1 810.2h0M966.6 772.0h0M936.2 766.6h0M926.1 818.4h0M983.6 788.2h0M935.9 784.9h0M960.7 767.1h0M964.7 820.6h0M953.5 821.0h0M936.8 798.0h0M930.6 807.6h0M937.9 775.5h0M980.4 802.7h0M933.3 793.7h0M933.9 796.0h0M931.1 800.8h0M966.8 816.1h0M940.0 773.2h0M932.7 797.7h0M927.5 813.7h0M930.1 807.1h0M958.6 766.3h0M956.6 820.6h0M965.1 818.4h0M981.7 785.0h0M959.5 819.4h0M944.9 764.5h0M927.8 819.8h0M969.0 815.7h0M953.2 767.0h0M976.3 781.5h0M969.0 775.8h0M933.6 786.8h0M966.2 815.8h0M968.3 772.8h0M929.4 813.6h0M960.5 765.6h0M945.0 765.8h0M941.3 769.2h0M937.0 785.1h0M973.0 814.3h0M934.9 786.0h0M959.3 764.6h0M983.7 793.6h0M937.2 767.3h0M984.7 791.9h0M981.8 801.7h0M948.4 762.6h0M980.8 804.3h0M951.7 762.8h0M972.8 777.4h0M982.2 786.7h0M984.1 791.3h0M932.6 797.7h0M974.4 813.8h0M973.1 772.3h0M940.4 763.5h0M970.5 772.9h0M963.3 771.2h0M977.1 780.8h0M940.1 767.7h0M942.4 763.7h0M963.5 769.7h0M928.8 807.0h0M981.2 783.1h0M933.5 787.3h0M984.3 792.9h0M957.2 820.6h0M968.1 774.9h0M961.8 819.1h0M926.9 821.2h0M962.3 821.5h0M931.7 801.5h0M949.8 820.7h0M979.1 784.5h0M981.6 806.2h0M950.9 821.0h0M957.3 820.2h0M953.8 820.8h0" stroke="#0a0a0a" stroke-width="4.0" stroke-linecap="round" fill="none"/><path d="M844.3 791.1h0M832.0 775.1h0M842.9 798.9h0M824.7 763.8h0M836.3 798.8h0M830.1 791.1h0M837.0 789.9h0M832.5 786.5h0M843.5 791.2h0M824.1 777.7h0M834.9 774.5h0M828.2 778.7h0M827.3 782.2h0M832.5 790.9h0M812.6 772.3h0M839.8 774.3h0M835.4 769.8h0M823.1 799.8h0M845.1 792.0h0M835.7 791.5h0M845.4 797.8h0M831.1 781.9h0M823.4 781.1h0M829.8 777.3h0M836.3 777.7h0M830.5 770.5h0M826.0 767.6h0M843.1 783.6h0M837.5 798.5h0M837.0 771.6h0M838.3 785.5h0M827.0 790.3h0M832.5 766.1h0M835.5 763.7h0M832.4 796.6h0M827.5 774.8h0M831.2 768.7h0M837.1 785.1h0M813.9 766.9h0M828.4 775.2h0M829.0 764.9h0M837.6 764.6h0M819.2 786.6h0M837.6 764.7h0" stroke="#0a0a0a" stroke-width="4.0" stroke-linecap="round" fill="none"/><path d="M797.0 779.0h0M804.0 776.0h0M812.0 772.0h0M820.0 781.0h0M828.0 770.0h0M815.0 790.0h0M808.0 784.0h0" stroke="#0a0a0a" stroke-width="4.0" stroke-linecap="round" fill="none"/><path d="M948.9 751.7h0M943.0 763.0h0M945.8 756.9h0M945.7 766.0h0M940.7 722.8h0M949.8 764.3h0M950.2 767.5h0M942.6 758.1h0M953.5 757.8h0M944.1 763.0h0M948.7 695.4h0M945.7 762.1h0M937.4 766.7h0M937.4 761.2h0M951.4 755.9h0M950.0 755.8h0M940.1 723.1h0M948.2 760.8h0M940.7 763.2h0M938.1 764.1h0M953.9 730.3h0M944.2 720.2h0M938.9 755.9h0M952.9 722.4h0M936.6 755.8h0M937.6 736.9h0M944.0 766.6h0M948.5 696.8h0M946.9 714.9h0M942.9 766.7h0M943.3 758.8h0M947.7 766.5h0M938.5 760.5h0M950.1 763.1h0M938.4 731.1h0M937.5 753.0h0M936.8 760.5h0M946.8 756.9h0M946.2 757.1h0M949.3 732.4h0M946.5 681.9h0M940.7 761.8h0M938.4 721.2h0M945.4 752.6h0M940.7 760.4h0M943.2 754.9h0M950.3 767.6h0M937.0 748.3h0M948.8 753.0h0M938.0 748.1h0M941.5 759.6h0M952.1 732.4h0M949.5 761.4h0M938.7 748.6h0M948.5 764.8h0M936.4 766.8h0M945.1 758.5h0M940.7 743.0h0M942.5 760.2h0M938.4 767.3h0M940.1 759.8h0M947.3 765.4h0M946.2 754.2h0M939.9 719.3h0M944.3 713.4h0M949.0 689.5h0M948.3 750.4h0M951.4 764.5h0M939.1 738.4h0M937.7 756.7h0M938.1 760.1h0M942.7 744.9h0M949.7 758.3h0M946.3 760.3h0M948.4 753.0h0M952.0 681.1h0M946.2 723.9h0M939.9 759.1h0M938.8 767.8h0M945.3 762.5h0M955.0 683.8h0M950.5 759.5h0M949.5 764.4h0M942.4 755.7h0M945.9 760.9h0M952.8 741.8h0M945.7 758.9h0M938.5 735.4h0M952.4 767.5h0M944.1 759.3h0M948.4 764.3h0M939.2 742.1h0M944.9 756.7h0M952.2 735.7h0M942.6 748.1h0M953.8 744.1h0M938.3 756.6h0M941.6 765.8h0M952.5 759.3h0M945.7 757.0h0M943.5 694.1h0M951.8 713.6h0M953.9 695.3h0M948.3 701.2h0M947.1 727.4h0M945.7 718.4h0M942.2 759.5h0M941.4 765.4h0M943.7 753.7h0M939.4 767.8h0M938.3 751.1h0M949.1 750.3h0M939.1 737.7h0M952.5 763.0h0M946.1 756.8h0M954.3 677.9h0M939.0 735.7h0M942.2 767.4h0M948.4 757.3h0M941.5 750.1h0M945.9 761.6h0M953.8 700.5h0M950.3 749.9h0M948.2 714.6h0M944.2 759.4h0M941.0 753.9h0M951.1 762.8h0M943.2 748.2h0M953.3 682.7h0M951.5 752.6h0M941.5 764.8h0M943.3 759.3h0M949.8 766.6h0M940.3 762.8h0M948.9 763.2h0M949.8 747.4h0M938.8 738.9h0M946.2 749.3h0M937.5 761.5h0M949.6 745.5h0M941.0 742.3h0M951.8 767.2h0M942.4 754.5h0M938.0 757.8h0M938.6 765.1h0M944.1 763.3h0M942.9 754.1h0M948.5 766.4h0M953.0 727.6h0M942.6 762.7h0M950.9 765.2h0M949.2 747.2h0M949.4 759.8h0M938.0 765.2h0M944.7 767.5h0M951.4 759.3h0M944.9 766.5h0M948.1 763.0h0M945.6 766.8h0" stroke="#0a0a0a" stroke-width="4.0" stroke-linecap="round" fill="none"/><path d="M985.7 783.4h0M995.1 770.0h0M977.0 771.8h0M959.1 789.5h0M959.7 788.4h0M963.5 792.8h0M965.7 767.5h0M978.3 780.1h0M989.7 763.3h0M992.6 780.1h0M987.5 772.8h0M961.7 787.1h0M983.9 771.5h0M969.7 771.0h0M985.8 770.5h0M988.8 761.2h0M970.4 779.5h0M975.8 764.6h0M980.3 769.2h0M970.1 761.8h0M979.9 789.5h0M971.7 763.3h0M996.5 772.6h0M961.9 773.3h0M967.1 764.6h0M972.0 763.1h0M962.2 789.2h0M964.4 770.3h0M979.7 766.3h0M994.0 787.4h0M974.5 769.3h0M986.6 774.8h0M986.4 791.7h0M979.3 790.4h0M972.0 765.4h0M974.2 761.1h0M985.7 762.9h0M987.7 776.8h0M993.9 783.5h0M981.9 776.7h0M979.8 786.1h0M985.4 778.7h0M975.1 768.4h0M963.6 792.2h0M992.9 776.4h0M965.9 768.3h0M978.9 778.6h0M967.1 760.1h0M968.1 776.6h0M988.6 773.7h0M983.6 775.2h0M990.3 766.3h0M959.5 784.6h0M966.2 784.2h0M978.0 765.6h0M967.6 768.7h0M984.7 790.8h0M967.9 773.9h0M990.6 785.4h0M960.5 783.4h0M964.0 792.8h0M965.9 783.4h0M992.2 790.9h0M964.5 760.4h0M997.4 773.7h0M977.0 764.6h0M981.3 786.6h0M961.0 772.9h0M995.0 782.9h0M993.6 774.9h0M977.8 764.6h0M987.1 767.1h0M964.2 792.2h0M981.4 780.7h0M984.7 772.5h0" stroke="#0a0a0a" stroke-width="4.0" stroke-linecap="round" fill="none"/><path d="M830.1 776.2h0M844.3 781.2h0M841.9 783.1h0M844.9 763.3h0M843.9 785.3h0M805.5 791.4h0M841.3 784.5h0M844.5 773.2h0M844.6 768.7h0M833.8 770.3h0M841.6 771.0h0M839.5 783.6h0M841.2 787.0h0M822.7 784.0h0M838.6 765.5h0M823.3 771.7h0M843.3 783.0h0M843.9 776.5h0M836.4 776.5h0M832.2 779.7h0M842.2 764.0h0M834.5 788.8h0M835.0 764.7h0M842.4 770.5h0M836.2 778.0h0M844.6 771.0h0M839.0 781.3h0M837.8 766.5h0M824.7 790.9h0M845.0 782.3h0M844.3 778.4h0M835.3 764.6h0M841.3 773.2h0M841.1 773.5h0M832.7 765.6h0M830.8 791.3h0M821.7 784.8h0M837.3 765.1h0M839.3 790.6h0M835.3 788.4h0M842.8 788.7h0M838.8 777.1h0M838.1 785.7h0M810.5 762.6h0M843.4 765.4h0M840.5 762.2h0M840.8 779.5h0M823.0 769.4h0M839.5 780.5h0M843.2 772.4h0M834.6 785.2h0M833.7 781.6h0M839.6 779.4h0M830.6 768.3h0M839.2 780.4h0M833.7 763.8h0M844.2 789.2h0M830.4 775.8h0M843.6 763.9h0M839.5 777.6h0" stroke="#0a0a0a" stroke-width="4.0" stroke-linecap="round" fill="none"/><path d="M954.3 603.6h0M952.7 630.0h0M955.9 634.7h0M954.3 636.3h0M952.7 669.0h0M943.1 683.0h0M941.5 701.7h0M949.5 692.4h0M947.9 711.1h0M798.0 778.1h0M812.4 771.9h0M861.8 810.8h0M869.8 810.8h0M892.1 742.3h0M895.3 751.6h0M896.9 762.5h0M1003.8 764.1h0M997.4 767.2h0" stroke="#0a0a0a" stroke-width="4.0" stroke-linecap="round" fill="none"/><path d="M859.0 751.7h0M885.8 739.2h0M887.0 759.7h0M856.2 753.3h0M850.9 756.9h0M854.7 752.2h0M881.5 756.8h0M876.1 757.7h0M858.2 753.0h0M886.2 756.1h0M856.3 755.7h0M860.7 715.1h0M885.6 759.8h0M864.7 740.7h0M885.8 743.9h0M880.2 745.2h0M872.8 683.5h0M882.2 745.5h0M867.5 739.4h0M871.7 742.9h0M872.2 745.6h0M888.3 743.6h0M852.4 759.3h0M862.9 754.6h0M850.7 756.2h0M886.0 755.7h0M884.9 747.9h0M858.1 733.6h0M853.7 747.1h0M869.5 741.0h0M875.4 759.8h0M888.7 747.5h0M851.5 749.6h0M877.9 751.8h0M864.1 709.5h0M888.1 755.8h0M869.5 712.2h0M882.7 761.3h0M870.5 721.0h0M854.9 760.8h0M878.2 759.6h0M870.2 757.1h0M864.5 741.4h0M866.5 760.6h0M856.5 739.7h0M876.7 751.3h0M864.0 753.2h0M865.9 740.7h0M862.4 730.7h0M866.1 760.9h0M877.5 756.9h0M860.4 744.1h0M862.6 732.6h0M851.1 751.7h0M868.3 754.0h0M873.8 721.5h0M881.0 737.1h0M877.1 737.8h0M888.6 750.9h0M867.2 752.9h0M861.8 735.4h0M874.4 761.7h0M862.1 747.0h0M889.0 758.9h0M879.8 747.9h0M892.0 759.6h0M859.0 755.5h0M858.2 756.4h0M875.7 732.1h0M868.4 743.3h0M859.2 761.0h0M861.8 709.5h0M863.4 729.5h0M864.8 756.6h0M871.8 742.6h0M874.2 742.7h0M890.3 747.9h0M870.6 716.2h0M860.3 752.5h0M849.4 753.3h0M868.6 748.6h0M881.0 744.0h0M876.5 754.4h0M852.0 760.5h0M874.5 704.2h0M861.3 746.4h0M880.7 673.9h0M879.0 726.7h0M881.1 750.4h0M878.3 759.9h0M854.8 718.0h0M883.6 750.2h0M856.7 719.3h0M849.6 751.7h0M852.4 734.6h0M860.5 757.2h0M889.7 749.4h0M866.3 749.6h0M864.4 744.5h0M863.0 752.6h0M852.3 748.1h0M870.1 755.8h0M892.0 759.5h0M882.3 741.3h0M891.1 754.6h0M854.1 753.9h0M861.4 752.1h0M871.8 760.4h0M849.7 753.5h0M851.8 755.7h0M868.2 753.1h0M865.6 758.6h0M851.9 758.7h0M875.3 749.6h0M882.2 744.9h0M858.3 760.4h0M882.4 749.3h0M889.0 744.8h0M882.7 733.5h0M853.0 759.8h0M860.7 707.1h0M881.5 744.8h0M880.0 729.2h0M853.3 749.5h0M861.5 753.4h0M861.8 761.0h0M887.7 759.6h0M890.1 756.3h0M858.6 754.9h0M864.1 742.5h0M855.0 748.5h0M849.7 759.3h0M891.0 759.5h0M876.2 760.1h0M856.6 755.5h0M871.9 747.9h0M864.2 739.4h0M889.4 743.0h0M878.5 751.4h0M869.6 744.9h0M870.5 716.8h0M853.0 734.2h0M852.9 759.5h0M866.0 723.4h0M852.8 757.2h0M875.8 697.6h0M877.9 759.1h0M856.4 760.7h0M866.6 740.9h0M882.0 759.5h0M849.8 755.3h0M856.0 758.3h0M855.0 714.1h0M868.5 761.5h0M886.0 744.1h0M860.7 756.3h0M882.7 759.1h0M870.0 746.5h0M871.9 728.8h0M884.1 755.9h0M881.6 723.0h0M863.9 679.8h0M873.2 758.5h0M877.3 761.2h0M857.3 741.8h0M868.7 710.2h0M848.8 760.1h0M868.0 748.2h0M882.9 749.5h0M856.1 747.5h0M880.4 745.3h0M854.1 758.2h0M867.2 757.9h0M881.6 760.5h0M864.4 749.7h0M872.5 758.0h0M871.9 716.0h0M883.4 737.8h0M874.1 758.4h0M856.5 752.5h0M857.8 761.3h0M861.2 740.0h0M884.5 760.4h0M876.7 706.4h0M887.6 760.2h0M877.8 737.2h0M870.7 750.5h0M870.3 755.3h0M889.8 746.9h0M870.9 738.2h0M872.3 754.2h0M883.2 757.0h0M854.9 750.5h0M861.9 751.9h0M883.4 758.2h0M856.1 760.7h0M858.4 737.3h0M857.7 759.5h0M889.8 757.2h0M892.4 761.6h0M856.9 728.6h0M865.9 747.3h0M862.8 758.4h0M863.8 719.2h0M861.7 735.0h0M875.8 756.8h0M879.8 759.3h0M854.1 751.7h0M848.7 756.2h0M857.1 746.5h0M873.9 754.9h0M880.2 761.2h0M882.5 708.8h0M869.5 747.2h0M849.9 759.7h0M873.0 761.7h0M884.5 739.4h0M869.2 754.0h0M892.0 755.7h0M886.4 753.1h0M859.8 757.1h0M886.2 736.4h0M856.1 738.6h0M880.5 752.0h0M857.3 752.6h0M852.8 750.3h0M861.4 706.5h0M875.0 754.2h0M890.5 755.8h0M858.6 753.0h0M882.0 754.2h0M865.2 757.0h0M855.8 734.4h0M884.6 756.6h0M863.1 760.3h0M852.1 752.7h0M870.1 749.3h0M875.8 754.2h0M882.4 760.1h0M884.8 760.4h0M864.9 758.7h0M888.1 746.9h0M880.9 745.2h0M862.8 756.1h0M855.8 724.6h0M877.1 759.8h0M859.6 749.1h0M873.1 719.3h0M880.2 711.8h0M856.8 760.3h0M867.8 732.0h0M865.5 733.6h0M872.5 744.7h0M867.3 737.9h0M863.3 739.4h0M876.8 747.3h0M869.9 742.3h0M883.2 754.5h0M856.7 733.8h0M886.5 720.8h0M855.6 732.0h0M856.0 754.4h0M880.8 715.0h0M880.6 747.4h0M883.8 733.4h0M878.7 748.6h0M864.3 750.2h0M875.2 758.9h0M860.9 755.2h0M875.3 718.7h0M877.2 751.3h0M867.5 738.7h0M871.7 744.7h0M869.0 758.7h0M887.5 742.5h0M874.9 756.1h0M866.7 735.0h0M859.6 757.6h0M885.6 761.5h0M855.7 702.6h0M865.0 758.6h0M860.6 756.6h0M864.5 744.9h0M877.0 754.1h0M883.4 760.9h0M881.6 757.3h0M857.1 726.4h0M860.8 705.8h0M862.2 760.2h0M881.9 755.3h0M891.9 757.7h0M852.0 744.5h0M883.8 753.4h0M882.5 752.6h0M874.0 727.1h0M887.3 721.6h0M876.0 757.2h0M878.0 749.8h0M874.5 755.4h0M853.5 736.5h0M869.3 754.5h0M861.2 746.2h0M857.2 758.1h0M858.8 758.4h0M849.6 756.7h0M871.5 759.3h0M884.8 750.2h0M879.4 761.5h0M864.5 750.3h0M869.3 761.6h0M890.8 748.4h0M865.2 758.0h0M883.8 735.9h0M867.1 708.5h0M854.1 745.5h0M873.9 756.0h0M865.0 706.7h0M858.5 760.4h0M876.4 759.8h0M884.6 758.6h0M878.7 755.7h0M890.4 756.6h0M853.4 760.0h0M855.2 726.4h0M890.9 755.6h0M876.5 758.6h0M868.9 757.1h0M881.2 759.4h0M874.9 738.3h0M871.5 754.2h0M869.5 732.6h0M852.0 754.4h0M861.4 722.1h0M869.6 716.0h0M890.0 760.9h0M872.5 759.4h0M876.5 757.2h0M849.8 757.7h0M853.7 740.5h0M854.2 756.3h0M888.4 747.4h0M867.5 721.3h0M885.2 760.2h0M890.7 745.1h0M890.9 759.1h0M889.9 737.0h0M887.2 737.1h0M856.8 732.3h0M868.6 679.5h0M877.6 753.2h0M862.3 762.0h0M859.0 713.2h0M861.2 756.2h0M852.3 760.8h0M852.1 755.3h0M869.3 738.4h0M848.9 761.5h0M860.9 759.7h0M890.1 759.7h0M874.0 757.1h0M871.9 730.4h0M886.6 761.5h0M858.0 736.9h0M866.1 760.4h0M888.9 729.4h0M852.3 743.9h0M870.5 756.7h0M875.9 745.9h0M865.5 757.2h0M877.7 748.9h0M853.0 736.6h0M884.0 751.5h0M865.6 754.1h0M871.7 761.3h0M862.2 747.6h0M868.6 758.2h0M852.9 737.4h0M852.8 748.5h0M866.5 752.3h0M883.0 730.5h0M888.9 737.0h0M851.5 739.9h0M870.3 758.2h0M874.3 699.7h0M865.3 738.2h0M861.2 720.2h0M884.1 753.4h0M868.8 743.9h0M873.0 748.5h0M860.1 760.0h0M884.5 722.0h0M854.8 761.8h0M855.5 734.1h0M865.4 740.1h0M891.8 752.9h0M872.5 754.2h0M852.5 756.9h0M859.5 761.4h0M889.9 759.2h0M853.6 755.3h0M860.9 750.7h0M865.0 739.9h0M872.1 747.6h0M862.7 751.8h0M869.2 738.6h0M866.9 750.3h0M858.5 739.6h0M855.0 713.2h0M858.4 749.1h0M861.5 746.1h0M875.6 759.7h0M888.2 754.2h0M859.1 736.6h0M852.4 734.2h0M882.0 750.6h0M853.6 756.3h0M865.0 747.2h0M873.2 752.4h0M856.9 748.5h0M862.3 745.8h0" stroke="#c8262c" stroke-width="4.0" stroke-linecap="round" fill="none"/><path d="M816.9 741.3h0M824.6 704.0h0M816.4 756.7h0M838.3 754.4h0M831.3 752.0h0M838.8 731.3h0M849.5 760.9h0M807.9 734.7h0M811.1 742.9h0M816.1 759.1h0M820.4 744.6h0M807.9 754.0h0M827.2 757.0h0M814.6 760.9h0M836.7 712.1h0M816.2 745.9h0M820.6 759.4h0M814.9 686.3h0M812.0 747.2h0M812.5 673.7h0M843.1 652.5h0M838.8 729.5h0M847.0 702.9h0M832.5 728.0h0M812.9 738.3h0M820.1 753.9h0M807.2 754.8h0M838.7 759.4h0M806.7 724.3h0M817.5 758.7h0M828.5 738.9h0M837.0 760.9h0M821.3 678.4h0M817.8 750.9h0M845.0 759.5h0" stroke="#c8262c" stroke-width="4.0" stroke-linecap="round" fill="none"/><path d="M802.8 701.7h0M798.0 754.7h0M834.7 651.9h0M842.7 659.7h0M852.2 561.5h0M868.2 611.3h0M877.7 611.3h0M877.7 623.8h0M880.9 617.6h0M971.9 489.8h0M960.7 519.4h0M962.3 527.2h0M963.9 528.7h0M965.5 544.3h0M967.1 567.7h0M962.3 594.2h0M967.1 614.5h0M973.4 642.5h0M967.1 655.0h0M983.0 658.1h0M989.4 659.7h0M1003.8 745.4h0M1013.3 751.6h0M1002.2 761.0h0M994.2 757.8h0M821.9 726.7h0M812.4 745.4h0M818.7 748.5h0M857.0 673.7h0M863.4 675.2h0M873.0 679.9h0M885.7 676.8h0M847.4 689.3h0M879.3 686.2h0M959.1 667.4h0M965.5 673.7h0M957.5 679.9h0M962.3 692.4h0M968.7 689.3h0M975.0 698.6h0M959.1 704.9h0M963.9 711.1h0M971.9 714.2h0M978.2 726.7h0M967.1 723.6h0M984.6 673.7h0M962.3 729.8h0M970.3 739.1h0M957.5 745.4h0M959.1 748.5h0M960.7 750.1h0M962.3 751.6h0M965.5 754.7h0M975.0 757.8h0M984.6 754.7h0M991.0 742.3h0M979.8 745.4h0M955.9 754.7h0M957.5 756.3h0" stroke="#c8262c" stroke-width="4.0" stroke-linecap="round" fill="none"/>
<path d="M92.9 943V1582.8H512.5" fill="none" stroke="#000" stroke-width="3.7"/>
<path d="M89.9 1417.0H92.9" stroke="#777" stroke-width="2.96"/>
<text x="86.0" y="1424.9" font-size="22" text-anchor="end" fill="#222">&#8722;5</text>
<path d="M89.9 1249.5H92.9" stroke="#777" stroke-width="2.96"/>
<text x="86.0" y="1257.4" font-size="22" text-anchor="end" fill="#222">0</text>
<path d="M89.9 1082.0H92.9" stroke="#777" stroke-width="2.96"/>
<text x="86.0" y="1089.9" font-size="22" text-anchor="end" fill="#222">5</text>
<path d="M173.3 1582.8V1585.8" stroke="#777" stroke-width="2.96"/>
<text x="173.3" y="1606.3" font-size="22" text-anchor="middle" fill="#222">&#8722;5</text>
<path d="M341.0 1582.8V1585.8" stroke="#777" stroke-width="2.96"/>
<text x="341.0" y="1606.3" font-size="22" text-anchor="middle" fill="#222">0</text>
<path d="M508.7 1582.8V1585.8" stroke="#777" stroke-width="2.96"/>
<text x="508.7" y="1606.3" font-size="22" text-anchor="middle" fill="#222">5</text>
<path d="M609.7 941.9V1581.6H1040.9" fill="none" stroke="#000" stroke-width="3.7"/>
<path d="M606.7 1571.7H609.7" stroke="#777" stroke-width="2.96"/>
<text x="603.2" y="1575.9" font-size="22" text-anchor="end" fill="#222">&#8722;8</text>
<path d="M606.7 1416.6H609.7" stroke="#777" stroke-width="2.96"/>
<text x="603.2" y="1420.7" font-size="22" text-anchor="end" fill="#222">&#8722;4</text>
<path d="M606.7 1261.5H609.7" stroke="#777" stroke-width="2.96"/>
<text x="603.2" y="1265.6" font-size="22" text-anchor="end" fill="#222">0</text>
<path d="M606.7 1106.4H609.7" stroke="#777" stroke-width="2.96"/>
<text x="603.2" y="1110.5" font-size="22" text-anchor="end" fill="#222">4</text>
<path d="M606.7 951.3H609.7" stroke="#777" stroke-width="2.96"/>
<text x="603.2" y="955.4" font-size="22" text-anchor="end" fill="#222">8</text>
<path d="M705.1 1581.6V1584.6" stroke="#777" stroke-width="2.96"/>
<text x="705.1" y="1606.3" font-size="22" text-anchor="middle" fill="#222">&#8722;4</text>
<path d="M859.6 1581.6V1584.6" stroke="#777" stroke-width="2.96"/>
<text x="859.6" y="1606.3" font-size="22" text-anchor="middle" fill="#222">0</text>
<path d="M1014.1 1581.6V1584.6" stroke="#777" stroke-width="2.96"/>
<text x="1014.1" y="1606.3" font-size="22" text-anchor="middle" fill="#222">4</text>
<text x="115.0" y="1034.9" font-size="30" text-anchor="start" fill="#1a1a1a" transform="translate(0 -93.14) scale(1 1.09)">R = 0.6</text>
<text x="649.0" y="1034.7" font-size="30" text-anchor="start" fill="#1a1a1a" transform="translate(0 -93.12) scale(1 1.09)">R = 0.69</text>
<text x="64.5" y="1636.8" font-size="30.55" text-anchor="start" fill="#1a1a1a">log<tspan font-size="17.7" dy="10.4">2</tspan><tspan dy="-10.4">(fold-change: 24 h ACBI1/DMSO)</tspan></text>
<text x="599.5" y="1635.9" font-size="30.5" text-anchor="start" fill="#1a1a1a">log<tspan font-size="17.7" dy="10.4">2</tspan><tspan dy="-10.4">(fold-change: 24 h ACBI1/DMSO)</tspan></text>
<text x="43.8" y="1515.7" font-size="30.4" fill="#1a1a1a" transform="rotate(-90 43.8 1515.7)">log<tspan font-size="17.6" dy="10.3">2</tspan><tspan dy="-10.3">(fold-change: 24 h dTAG47/DMSO)</tspan></text>
<text x="569.7" y="1517.6" font-size="30.4" fill="#1a1a1a" transform="rotate(-90 569.7 1517.6)">log<tspan font-size="17.6" dy="10.3">2</tspan><tspan dy="-10.3">(fold-change: 24 h BRM014/DMSO)</tspan></text>
<path d="M336.5 1188.8m0 -4.97l4.30 2.48v4.97l-4.30 2.48l-4.30 -2.48v-4.97zM297.8 1211.2m0 -4.97l4.30 2.48v4.97l-4.30 2.48l-4.30 -2.48v-4.97zM280.6 1226.1m0 -4.97l4.30 2.48v4.97l-4.30 2.48l-4.30 -2.48v-4.97zM409.6 1241.0m0 -4.97l4.30 2.48v4.97l-4.30 2.48l-4.30 -2.48v-4.97zM250.5 1278.2m0 -4.97l4.30 2.48v4.97l-4.30 2.48l-4.30 -2.48v-4.97zM246.2 1285.7m0 -4.97l4.30 2.48v4.97l-4.30 2.48l-4.30 -2.48v-4.97zM246.2 1300.5m0 -4.97l4.30 2.48v4.97l-4.30 2.48l-4.30 -2.48v-4.97zM250.5 1308.0m0 -4.97l4.30 2.48v4.97l-4.30 2.48l-4.30 -2.48v-4.97zM254.8 1315.4m0 -4.97l4.30 2.48v4.97l-4.30 2.48l-4.30 -2.48v-4.97zM259.1 1322.9m0 -4.97l4.30 2.48v4.97l-4.30 2.48l-4.30 -2.48v-4.97zM323.6 1330.3m0 -4.97l4.30 2.48v4.97l-4.30 2.48l-4.30 -2.48v-4.97zM284.9 1337.8m0 -4.97l4.30 2.48v4.97l-4.30 2.48l-4.30 -2.48v-4.97zM293.5 1337.8m0 -4.97l4.30 2.48v4.97l-4.30 2.48l-4.30 -2.48v-4.97zM302.1 1337.8m0 -4.97l4.30 2.48v4.97l-4.30 2.48l-4.30 -2.48v-4.97z" fill="#450659" stroke="#450659" stroke-width="0.4"/><path d="M345.1 1188.8m0 -4.97l4.30 2.48v4.97l-4.30 2.48l-4.30 -2.48v-4.97zM379.5 1188.8m0 -4.97l4.30 2.48v4.97l-4.30 2.48l-4.30 -2.48v-4.97zM293.5 1218.6m0 -4.97l4.30 2.48v4.97l-4.30 2.48l-4.30 -2.48v-4.97zM272.0 1241.0m0 -4.97l4.30 2.48v4.97l-4.30 2.48l-4.30 -2.48v-4.97zM401.0 1255.9m0 -4.97l4.30 2.48v4.97l-4.30 2.48l-4.30 -2.48v-4.97zM259.1 1263.3m0 -4.97l4.30 2.48v4.97l-4.30 2.48l-4.30 -2.48v-4.97zM254.8 1270.8m0 -4.97l4.30 2.48v4.97l-4.30 2.48l-4.30 -2.48v-4.97zM250.5 1293.1m0 -4.97l4.30 2.48v4.97l-4.30 2.48l-4.30 -2.48v-4.97zM349.4 1315.4m0 -4.97l4.30 2.48v4.97l-4.30 2.48l-4.30 -2.48v-4.97zM336.5 1322.9m0 -4.97l4.30 2.48v4.97l-4.30 2.48l-4.30 -2.48v-4.97z" fill="#45075a" stroke="#45075a" stroke-width="0.4"/><path d="M353.7 1188.8m0 -4.97l4.30 2.48v4.97l-4.30 2.48l-4.30 -2.48v-4.97zM392.4 1196.3m0 -4.97l4.30 2.48v4.97l-4.30 2.48l-4.30 -2.48v-4.97zM267.7 1248.4m0 -4.97l4.30 2.48v4.97l-4.30 2.48l-4.30 -2.48v-4.97zM263.4 1255.9m0 -4.97l4.30 2.48v4.97l-4.30 2.48l-4.30 -2.48v-4.97zM396.7 1263.3m0 -4.97l4.30 2.48v4.97l-4.30 2.48l-4.30 -2.48v-4.97zM392.4 1270.8m0 -4.97l4.30 2.48v4.97l-4.30 2.48l-4.30 -2.48v-4.97zM254.8 1285.7m0 -4.97l4.30 2.48v4.97l-4.30 2.48l-4.30 -2.48v-4.97zM254.8 1300.5m0 -4.97l4.30 2.48v4.97l-4.30 2.48l-4.30 -2.48v-4.97zM267.7 1322.9m0 -4.97l4.30 2.48v4.97l-4.30 2.48l-4.30 -2.48v-4.97zM315.0 1330.3m0 -4.97l4.30 2.48v4.97l-4.30 2.48l-4.30 -2.48v-4.97z" fill="#45085a" stroke="#45085a" stroke-width="0.4"/><path d="M370.9 1188.8m0 -4.97l4.30 2.48v4.97l-4.30 2.48l-4.30 -2.48v-4.97zM332.2 1196.3m0 -4.97l4.30 2.48v4.97l-4.30 2.48l-4.30 -2.48v-4.97zM306.4 1211.2m0 -4.97l4.30 2.48v4.97l-4.30 2.48l-4.30 -2.48v-4.97zM405.3 1218.6m0 -4.97l4.30 2.48v4.97l-4.30 2.48l-4.30 -2.48v-4.97zM289.2 1226.1m0 -4.97l4.30 2.48v4.97l-4.30 2.48l-4.30 -2.48v-4.97zM405.3 1233.5m0 -4.97l4.30 2.48v4.97l-4.30 2.48l-4.30 -2.48v-4.97zM366.6 1300.5m0 -4.97l4.30 2.48v4.97l-4.30 2.48l-4.30 -2.48v-4.97zM259.1 1308.0m0 -4.97l4.30 2.48v4.97l-4.30 2.48l-4.30 -2.48v-4.97zM263.4 1315.4m0 -4.97l4.30 2.48v4.97l-4.30 2.48l-4.30 -2.48v-4.97zM280.6 1330.3m0 -4.97l4.30 2.48v4.97l-4.30 2.48l-4.30 -2.48v-4.97z" fill="#45085b" stroke="#45085b" stroke-width="0.4"/><path d="M306.4 1196.3m0 -4.97l4.30 2.48v4.97l-4.30 2.48l-4.30 -2.48v-4.97zM293.5 1203.7m0 -4.97l4.30 2.48v4.97l-4.30 2.48l-4.30 -2.48v-4.97zM413.9 1248.4m0 -4.97l4.30 2.48v4.97l-4.30 2.48l-4.30 -2.48v-4.97zM237.6 1285.7m0 -4.97l4.30 2.48v4.97l-4.30 2.48l-4.30 -2.48v-4.97zM237.6 1300.5m0 -4.97l4.30 2.48v4.97l-4.30 2.48l-4.30 -2.48v-4.97zM353.7 1322.9m0 -4.97l4.30 2.48v4.97l-4.30 2.48l-4.30 -2.48v-4.97zM340.8 1330.3m0 -4.97l4.30 2.48v4.97l-4.30 2.48l-4.30 -2.48v-4.97zM327.9 1337.8m0 -4.97l4.30 2.48v4.97l-4.30 2.48l-4.30 -2.48v-4.97zM289.2 1345.2m0 -4.97l4.30 2.48v4.97l-4.30 2.48l-4.30 -2.48v-4.97zM297.8 1345.2m0 -4.97l4.30 2.48v4.97l-4.30 2.48l-4.30 -2.48v-4.97zM306.4 1345.2m0 -4.97l4.30 2.48v4.97l-4.30 2.48l-4.30 -2.48v-4.97z" fill="#440457" stroke="#440457" stroke-width="0.4"/><path d="M323.6 1196.3m0 -4.97l4.30 2.48v4.97l-4.30 2.48l-4.30 -2.48v-4.97zM310.7 1203.7m0 -4.97l4.30 2.48v4.97l-4.30 2.48l-4.30 -2.48v-4.97zM409.6 1226.1m0 -4.97l4.30 2.48v4.97l-4.30 2.48l-4.30 -2.48v-4.97zM405.3 1248.4m0 -4.97l4.30 2.48v4.97l-4.30 2.48l-4.30 -2.48v-4.97zM272.0 1330.3m0 -4.97l4.30 2.48v4.97l-4.30 2.48l-4.30 -2.48v-4.97z" fill="#450759" stroke="#450759" stroke-width="0.4"/><path d="M340.8 1196.3m0 -4.97l4.30 2.48v4.97l-4.30 2.48l-4.30 -2.48v-4.97zM302.1 1218.6m0 -4.97l4.30 2.48v4.97l-4.30 2.48l-4.30 -2.48v-4.97zM401.0 1226.1m0 -4.97l4.30 2.48v4.97l-4.30 2.48l-4.30 -2.48v-4.97zM280.6 1241.0m0 -4.97l4.30 2.48v4.97l-4.30 2.48l-4.30 -2.48v-4.97zM267.7 1263.3m0 -4.97l4.30 2.48v4.97l-4.30 2.48l-4.30 -2.48v-4.97zM263.4 1300.5m0 -4.97l4.30 2.48v4.97l-4.30 2.48l-4.30 -2.48v-4.97zM297.8 1330.3m0 -4.97l4.30 2.48v4.97l-4.30 2.48l-4.30 -2.48v-4.97z" fill="#450a5d" stroke="#450a5d" stroke-width="0.4"/><path d="M349.4 1196.3m0 -4.97l4.30 2.48v4.97l-4.30 2.48l-4.30 -2.48v-4.97zM327.9 1203.7m0 -4.97l4.30 2.48v4.97l-4.30 2.48l-4.30 -2.48v-4.97zM388.1 1203.7m0 -4.97l4.30 2.48v4.97l-4.30 2.48l-4.30 -2.48v-4.97zM396.7 1218.6m0 -4.97l4.30 2.48v4.97l-4.30 2.48l-4.30 -2.48v-4.97zM297.8 1226.1m0 -4.97l4.30 2.48v4.97l-4.30 2.48l-4.30 -2.48v-4.97zM319.3 1322.9m0 -4.97l4.30 2.48v4.97l-4.30 2.48l-4.30 -2.48v-4.97z" fill="#450c5e" stroke="#450c5e" stroke-width="0.4"/><path d="M358.0 1196.3m0 -4.97l4.30 2.48v4.97l-4.30 2.48l-4.30 -2.48v-4.97zM392.4 1255.9m0 -4.97l4.30 2.48v4.97l-4.30 2.48l-4.30 -2.48v-4.97zM388.1 1263.3m0 -4.97l4.30 2.48v4.97l-4.30 2.48l-4.30 -2.48v-4.97zM383.8 1270.8m0 -4.97l4.30 2.48v4.97l-4.30 2.48l-4.30 -2.48v-4.97zM267.7 1293.1m0 -4.97l4.30 2.48v4.97l-4.30 2.48l-4.30 -2.48v-4.97zM332.2 1315.4m0 -4.97l4.30 2.48v4.97l-4.30 2.48l-4.30 -2.48v-4.97z" fill="#450d5f" stroke="#450d5f" stroke-width="0.4"/><path d="M366.6 1196.3m0 -4.97l4.30 2.48v4.97l-4.30 2.48l-4.30 -2.48v-4.97zM267.7 1278.2m0 -4.97l4.30 2.48v4.97l-4.30 2.48l-4.30 -2.48v-4.97zM379.5 1278.2m0 -4.97l4.30 2.48v4.97l-4.30 2.48l-4.30 -2.48v-4.97zM358.0 1300.5m0 -4.97l4.30 2.48v4.97l-4.30 2.48l-4.30 -2.48v-4.97z" fill="#450c5f" stroke="#450c5f" stroke-width="0.4"/><path d="M375.2 1196.3m0 -4.97l4.30 2.48v4.97l-4.30 2.48l-4.30 -2.48v-4.97zM315.0 1211.2m0 -4.97l4.30 2.48v4.97l-4.30 2.48l-4.30 -2.48v-4.97zM396.7 1248.4m0 -4.97l4.30 2.48v4.97l-4.30 2.48l-4.30 -2.48v-4.97z" fill="#450b5e" stroke="#450b5e" stroke-width="0.4"/><path d="M319.3 1203.7m0 -4.97l4.30 2.48v4.97l-4.30 2.48l-4.30 -2.48v-4.97zM396.7 1203.7m0 -4.97l4.30 2.48v4.97l-4.30 2.48l-4.30 -2.48v-4.97zM259.1 1278.2m0 -4.97l4.30 2.48v4.97l-4.30 2.48l-4.30 -2.48v-4.97z" fill="#45095b" stroke="#45095b" stroke-width="0.4"/><path d="M336.5 1203.7m0 -4.97l4.30 2.48v4.97l-4.30 2.48l-4.30 -2.48v-4.97zM392.4 1241.0m0 -4.97l4.30 2.48v4.97l-4.30 2.48l-4.30 -2.48v-4.97zM280.6 1255.9m0 -4.97l4.30 2.48v4.97l-4.30 2.48l-4.30 -2.48v-4.97z" fill="#461062" stroke="#461062" stroke-width="0.4"/><path d="M345.1 1203.7m0 -4.97l4.30 2.48v4.97l-4.30 2.48l-4.30 -2.48v-4.97zM302.1 1233.5m0 -4.97l4.30 2.48v4.97l-4.30 2.48l-4.30 -2.48v-4.97zM280.6 1270.8m0 -4.97l4.30 2.48v4.97l-4.30 2.48l-4.30 -2.48v-4.97zM370.9 1278.2m0 -4.97l4.30 2.48v4.97l-4.30 2.48l-4.30 -2.48v-4.97z" fill="#461466" stroke="#461466" stroke-width="0.4"/><path d="M353.7 1203.7m0 -4.97l4.30 2.48v4.97l-4.30 2.48l-4.30 -2.48v-4.97zM388.1 1233.5m0 -4.97l4.30 2.48v4.97l-4.30 2.48l-4.30 -2.48v-4.97zM297.8 1241.0m0 -4.97l4.30 2.48v4.97l-4.30 2.48l-4.30 -2.48v-4.97zM284.9 1263.3m0 -4.97l4.30 2.48v4.97l-4.30 2.48l-4.30 -2.48v-4.97zM379.5 1263.3m0 -4.97l4.30 2.48v4.97l-4.30 2.48l-4.30 -2.48v-4.97zM375.2 1270.8m0 -4.97l4.30 2.48v4.97l-4.30 2.48l-4.30 -2.48v-4.97zM280.6 1285.7m0 -4.97l4.30 2.48v4.97l-4.30 2.48l-4.30 -2.48v-4.97zM353.7 1293.1m0 -4.97l4.30 2.48v4.97l-4.30 2.48l-4.30 -2.48v-4.97z" fill="#461668" stroke="#461668" stroke-width="0.4"/><path d="M362.3 1203.7m0 -4.97l4.30 2.48v4.97l-4.30 2.48l-4.30 -2.48v-4.97zM383.8 1255.9m0 -4.97l4.30 2.48v4.97l-4.30 2.48l-4.30 -2.48v-4.97z" fill="#461567" stroke="#461567" stroke-width="0.4"/><path d="M370.9 1203.7m0 -4.97l4.30 2.48v4.97l-4.30 2.48l-4.30 -2.48v-4.97zM388.1 1218.6m0 -4.97l4.30 2.48v4.97l-4.30 2.48l-4.30 -2.48v-4.97zM306.4 1226.1m0 -4.97l4.30 2.48v4.97l-4.30 2.48l-4.30 -2.48v-4.97zM276.3 1278.2m0 -4.97l4.30 2.48v4.97l-4.30 2.48l-4.30 -2.48v-4.97zM366.6 1285.7m0 -4.97l4.30 2.48v4.97l-4.30 2.48l-4.30 -2.48v-4.97zM276.3 1293.1m0 -4.97l4.30 2.48v4.97l-4.30 2.48l-4.30 -2.48v-4.97zM349.4 1300.5m0 -4.97l4.30 2.48v4.97l-4.30 2.48l-4.30 -2.48v-4.97zM336.5 1308.0m0 -4.97l4.30 2.48v4.97l-4.30 2.48l-4.30 -2.48v-4.97zM323.6 1315.4m0 -4.97l4.30 2.48v4.97l-4.30 2.48l-4.30 -2.48v-4.97zM302.1 1322.9m0 -4.97l4.30 2.48v4.97l-4.30 2.48l-4.30 -2.48v-4.97z" fill="#461264" stroke="#461264" stroke-width="0.4"/><path d="M379.5 1203.7m0 -4.97l4.30 2.48v4.97l-4.30 2.48l-4.30 -2.48v-4.97zM310.7 1218.6m0 -4.97l4.30 2.48v4.97l-4.30 2.48l-4.30 -2.48v-4.97zM289.2 1241.0m0 -4.97l4.30 2.48v4.97l-4.30 2.48l-4.30 -2.48v-4.97zM276.3 1263.3m0 -4.97l4.30 2.48v4.97l-4.30 2.48l-4.30 -2.48v-4.97zM272.0 1285.7m0 -4.97l4.30 2.48v4.97l-4.30 2.48l-4.30 -2.48v-4.97zM362.3 1293.1m0 -4.97l4.30 2.48v4.97l-4.30 2.48l-4.30 -2.48v-4.97zM276.3 1308.0m0 -4.97l4.30 2.48v4.97l-4.30 2.48l-4.30 -2.48v-4.97zM280.6 1315.4m0 -4.97l4.30 2.48v4.97l-4.30 2.48l-4.30 -2.48v-4.97zM310.7 1322.9m0 -4.97l4.30 2.48v4.97l-4.30 2.48l-4.30 -2.48v-4.97z" fill="#460f61" stroke="#460f61" stroke-width="0.4"/><path d="M323.6 1211.2m0 -4.97l4.30 2.48v4.97l-4.30 2.48l-4.30 -2.48v-4.97zM293.5 1322.9m0 -4.97l4.30 2.48v4.97l-4.30 2.48l-4.30 -2.48v-4.97z" fill="#461163" stroke="#461163" stroke-width="0.4"/><path d="M332.2 1211.2m0 -4.97l4.30 2.48v4.97l-4.30 2.48l-4.30 -2.48v-4.97z" fill="#471a6c" stroke="#471a6c" stroke-width="0.4"/><path d="M340.8 1211.2m0 -4.97l4.30 2.48v4.97l-4.30 2.48l-4.30 -2.48v-4.97zM375.2 1255.9m0 -4.97l4.30 2.48v4.97l-4.30 2.48l-4.30 -2.48v-4.97z" fill="#472777" stroke="#472777" stroke-width="0.4"/><path d="M349.4 1211.2m0 -4.97l4.30 2.48v4.97l-4.30 2.48l-4.30 -2.48v-4.97zM370.9 1218.6m0 -4.97l4.30 2.48v4.97l-4.30 2.48l-4.30 -2.48v-4.97zM353.7 1278.2m0 -4.97l4.30 2.48v4.97l-4.30 2.48l-4.30 -2.48v-4.97z" fill="#462f7b" stroke="#462f7b" stroke-width="0.4"/><path d="M358.0 1211.2m0 -4.97l4.30 2.48v4.97l-4.30 2.48l-4.30 -2.48v-4.97z" fill="#462c7a" stroke="#462c7a" stroke-width="0.4"/><path d="M366.6 1211.2m0 -4.97l4.30 2.48v4.97l-4.30 2.48l-4.30 -2.48v-4.97z" fill="#482273" stroke="#482273" stroke-width="0.4"/><path d="M375.2 1211.2m0 -4.97l4.30 2.48v4.97l-4.30 2.48l-4.30 -2.48v-4.97z" fill="#47186a" stroke="#47186a" stroke-width="0.4"/><path d="M383.8 1211.2m0 -4.97l4.30 2.48v4.97l-4.30 2.48l-4.30 -2.48v-4.97z" fill="#461164" stroke="#461164" stroke-width="0.4"/><path d="M319.3 1218.6m0 -4.97l4.30 2.48v4.97l-4.30 2.48l-4.30 -2.48v-4.97zM293.5 1248.4m0 -4.97l4.30 2.48v4.97l-4.30 2.48l-4.30 -2.48v-4.97zM289.2 1255.9m0 -4.97l4.30 2.48v4.97l-4.30 2.48l-4.30 -2.48v-4.97zM289.2 1315.4m0 -4.97l4.30 2.48v4.97l-4.30 2.48l-4.30 -2.48v-4.97z" fill="#471769" stroke="#471769" stroke-width="0.4"/><path d="M327.9 1218.6m0 -4.97l4.30 2.48v4.97l-4.30 2.48l-4.30 -2.48v-4.97z" fill="#462b79" stroke="#462b79" stroke-width="0.4"/><path d="M336.5 1218.6m0 -4.97l4.30 2.48v4.97l-4.30 2.48l-4.30 -2.48v-4.97z" fill="#3d4d89" stroke="#3d4d89" stroke-width="0.4"/><path d="M345.1 1218.6m0 -4.97l4.30 2.48v4.97l-4.30 2.48l-4.30 -2.48v-4.97z" fill="#31698d" stroke="#31698d" stroke-width="0.4"/><path d="M353.7 1218.6m0 -4.97l4.30 2.48v4.97l-4.30 2.48l-4.30 -2.48v-4.97z" fill="#306a8d" stroke="#306a8d" stroke-width="0.4"/><path d="M362.3 1218.6m0 -4.97l4.30 2.48v4.97l-4.30 2.48l-4.30 -2.48v-4.97z" fill="#3c4f89" stroke="#3c4f89" stroke-width="0.4"/><path d="M379.5 1218.6m0 -4.97l4.30 2.48v4.97l-4.30 2.48l-4.30 -2.48v-4.97zM284.9 1293.1m0 -4.97l4.30 2.48v4.97l-4.30 2.48l-4.30 -2.48v-4.97z" fill="#471c6d" stroke="#471c6d" stroke-width="0.4"/><path d="M315.0 1226.1m0 -4.97l4.30 2.48v4.97l-4.30 2.48l-4.30 -2.48v-4.97z" fill="#471d6f" stroke="#471d6f" stroke-width="0.4"/><path d="M323.6 1226.1m0 -4.97l4.30 2.48v4.97l-4.30 2.48l-4.30 -2.48v-4.97zM375.2 1241.0m0 -4.97l4.30 2.48v4.97l-4.30 2.48l-4.30 -2.48v-4.97zM323.6 1300.5m0 -4.97l4.30 2.48v4.97l-4.30 2.48l-4.30 -2.48v-4.97z" fill="#433d83" stroke="#433d83" stroke-width="0.4"/><path d="M332.2 1226.1m0 -4.97l4.30 2.48v4.97l-4.30 2.48l-4.30 -2.48v-4.97z" fill="#2a798e" stroke="#2a798e" stroke-width="0.4"/><path d="M340.8 1226.1m0 -4.97l4.30 2.48v4.97l-4.30 2.48l-4.30 -2.48v-4.97z" fill="#48c06d" stroke="#48c06d" stroke-width="0.4"/><path d="M349.4 1226.1m0 -4.97l4.30 2.48v4.97l-4.30 2.48l-4.30 -2.48v-4.97z" fill="#8ad447" stroke="#8ad447" stroke-width="0.4"/><path d="M358.0 1226.1m0 -4.97l4.30 2.48v4.97l-4.30 2.48l-4.30 -2.48v-4.97z" fill="#29ad80" stroke="#29ad80" stroke-width="0.4"/><path d="M366.6 1226.1m0 -4.97l4.30 2.48v4.97l-4.30 2.48l-4.30 -2.48v-4.97z" fill="#32658d" stroke="#32658d" stroke-width="0.4"/><path d="M375.2 1226.1m0 -4.97l4.30 2.48v4.97l-4.30 2.48l-4.30 -2.48v-4.97zM297.8 1270.8m0 -4.97l4.30 2.48v4.97l-4.30 2.48l-4.30 -2.48v-4.97zM336.5 1293.1m0 -4.97l4.30 2.48v4.97l-4.30 2.48l-4.30 -2.48v-4.97z" fill="#45327d" stroke="#45327d" stroke-width="0.4"/><path d="M383.8 1226.1m0 -4.97l4.30 2.48v4.97l-4.30 2.48l-4.30 -2.48v-4.97zM284.9 1278.2m0 -4.97l4.30 2.48v4.97l-4.30 2.48l-4.30 -2.48v-4.97zM358.0 1285.7m0 -4.97l4.30 2.48v4.97l-4.30 2.48l-4.30 -2.48v-4.97zM327.9 1308.0m0 -4.97l4.30 2.48v4.97l-4.30 2.48l-4.30 -2.48v-4.97z" fill="#471b6c" stroke="#471b6c" stroke-width="0.4"/><path d="M392.4 1226.1m0 -4.97l4.30 2.48v4.97l-4.30 2.48l-4.30 -2.48v-4.97z" fill="#461063" stroke="#461063" stroke-width="0.4"/><path d="M267.7 1233.5m0 -4.97l4.30 2.48v4.97l-4.30 2.48l-4.30 -2.48v-4.97zM263.4 1241.0m0 -4.97l4.30 2.48v4.97l-4.30 2.48l-4.30 -2.48v-4.97zM246.2 1270.8m0 -4.97l4.30 2.48v4.97l-4.30 2.48l-4.30 -2.48v-4.97zM241.9 1293.1m0 -4.97l4.30 2.48v4.97l-4.30 2.48l-4.30 -2.48v-4.97zM241.9 1308.0m0 -4.97l4.30 2.48v4.97l-4.30 2.48l-4.30 -2.48v-4.97zM246.2 1315.4m0 -4.97l4.30 2.48v4.97l-4.30 2.48l-4.30 -2.48v-4.97zM250.5 1322.9m0 -4.97l4.30 2.48v4.97l-4.30 2.48l-4.30 -2.48v-4.97zM332.2 1330.3m0 -4.97l4.30 2.48v4.97l-4.30 2.48l-4.30 -2.48v-4.97zM267.7 1337.8m0 -4.97l4.30 2.48v4.97l-4.30 2.48l-4.30 -2.48v-4.97zM310.7 1337.8m0 -4.97l4.30 2.48v4.97l-4.30 2.48l-4.30 -2.48v-4.97z" fill="#440558" stroke="#440558" stroke-width="0.4"/><path d="M284.9 1233.5m0 -4.97l4.30 2.48v4.97l-4.30 2.48l-4.30 -2.48v-4.97zM259.1 1293.1m0 -4.97l4.30 2.48v4.97l-4.30 2.48l-4.30 -2.48v-4.97zM327.9 1322.9m0 -4.97l4.30 2.48v4.97l-4.30 2.48l-4.30 -2.48v-4.97zM306.4 1330.3m0 -4.97l4.30 2.48v4.97l-4.30 2.48l-4.30 -2.48v-4.97z" fill="#45095c" stroke="#45095c" stroke-width="0.4"/><path d="M293.5 1233.5m0 -4.97l4.30 2.48v4.97l-4.30 2.48l-4.30 -2.48v-4.97zM272.0 1270.8m0 -4.97l4.30 2.48v4.97l-4.30 2.48l-4.30 -2.48v-4.97zM272.0 1300.5m0 -4.97l4.30 2.48v4.97l-4.30 2.48l-4.30 -2.48v-4.97zM284.9 1322.9m0 -4.97l4.30 2.48v4.97l-4.30 2.48l-4.30 -2.48v-4.97z" fill="#450e60" stroke="#450e60" stroke-width="0.4"/><path d="M310.7 1233.5m0 -4.97l4.30 2.48v4.97l-4.30 2.48l-4.30 -2.48v-4.97z" fill="#482172" stroke="#482172" stroke-width="0.4"/><path d="M319.3 1233.5m0 -4.97l4.30 2.48v4.97l-4.30 2.48l-4.30 -2.48v-4.97zM362.3 1263.3m0 -4.97l4.30 2.48v4.97l-4.30 2.48l-4.30 -2.48v-4.97zM297.8 1285.7m0 -4.97l4.30 2.48v4.97l-4.30 2.48l-4.30 -2.48v-4.97z" fill="#414487" stroke="#414487" stroke-width="0.4"/><path d="M327.9 1233.5m0 -4.97l4.30 2.48v4.97l-4.30 2.48l-4.30 -2.48v-4.97zM358.0 1255.9m0 -4.97l4.30 2.48v4.97l-4.30 2.48l-4.30 -2.48v-4.97z" fill="#21948b" stroke="#21948b" stroke-width="0.4"/><path d="M336.5 1233.5m0 -4.97l4.30 2.48v4.97l-4.30 2.48l-4.30 -2.48v-4.97zM345.1 1233.5m0 -4.97l4.30 2.48v4.97l-4.30 2.48l-4.30 -2.48v-4.97zM353.7 1233.5m0 -4.97l4.30 2.48v4.97l-4.30 2.48l-4.30 -2.48v-4.97zM332.2 1241.0m0 -4.97l4.30 2.48v4.97l-4.30 2.48l-4.30 -2.48v-4.97zM340.8 1241.0m0 -4.97l4.30 2.48v4.97l-4.30 2.48l-4.30 -2.48v-4.97zM349.4 1241.0m0 -4.97l4.30 2.48v4.97l-4.30 2.48l-4.30 -2.48v-4.97zM358.0 1241.0m0 -4.97l4.30 2.48v4.97l-4.30 2.48l-4.30 -2.48v-4.97zM336.5 1248.4m0 -4.97l4.30 2.48v4.97l-4.30 2.48l-4.30 -2.48v-4.97zM345.1 1248.4m0 -4.97l4.30 2.48v4.97l-4.30 2.48l-4.30 -2.48v-4.97zM353.7 1248.4m0 -4.97l4.30 2.48v4.97l-4.30 2.48l-4.30 -2.48v-4.97zM340.8 1255.9m0 -4.97l4.30 2.48v4.97l-4.30 2.48l-4.30 -2.48v-4.97z" fill="#fde725" stroke="#fde725" stroke-width="0.4"/><path d="M362.3 1233.5m0 -4.97l4.30 2.48v4.97l-4.30 2.48l-4.30 -2.48v-4.97z" fill="#41bd72" stroke="#41bd72" stroke-width="0.4"/><path d="M370.9 1233.5m0 -4.97l4.30 2.48v4.97l-4.30 2.48l-4.30 -2.48v-4.97zM310.7 1263.3m0 -4.97l4.30 2.48v4.97l-4.30 2.48l-4.30 -2.48v-4.97z" fill="#375b8c" stroke="#375b8c" stroke-width="0.4"/><path d="M379.5 1233.5m0 -4.97l4.30 2.48v4.97l-4.30 2.48l-4.30 -2.48v-4.97zM319.3 1308.0m0 -4.97l4.30 2.48v4.97l-4.30 2.48l-4.30 -2.48v-4.97z" fill="#472978" stroke="#472978" stroke-width="0.4"/><path d="M396.7 1233.5m0 -4.97l4.30 2.48v4.97l-4.30 2.48l-4.30 -2.48v-4.97zM345.1 1308.0m0 -4.97l4.30 2.48v4.97l-4.30 2.48l-4.30 -2.48v-4.97z" fill="#450d60" stroke="#450d60" stroke-width="0.4"/><path d="M306.4 1241.0m0 -4.97l4.30 2.48v4.97l-4.30 2.48l-4.30 -2.48v-4.97z" fill="#482274" stroke="#482274" stroke-width="0.4"/><path d="M315.0 1241.0m0 -4.97l4.30 2.48v4.97l-4.30 2.48l-4.30 -2.48v-4.97z" fill="#424185" stroke="#424185" stroke-width="0.4"/><path d="M323.6 1241.0m0 -4.97l4.30 2.48v4.97l-4.30 2.48l-4.30 -2.48v-4.97zM366.6 1241.0m0 -4.97l4.30 2.48v4.97l-4.30 2.48l-4.30 -2.48v-4.97z" fill="#238a8d" stroke="#238a8d" stroke-width="0.4"/><path d="M383.8 1241.0m0 -4.97l4.30 2.48v4.97l-4.30 2.48l-4.30 -2.48v-4.97z" fill="#471d6e" stroke="#471d6e" stroke-width="0.4"/><path d="M401.0 1241.0m0 -4.97l4.30 2.48v4.97l-4.30 2.48l-4.30 -2.48v-4.97zM263.4 1270.8m0 -4.97l4.30 2.48v4.97l-4.30 2.48l-4.30 -2.48v-4.97zM370.9 1293.1m0 -4.97l4.30 2.48v4.97l-4.30 2.48l-4.30 -2.48v-4.97zM353.7 1308.0m0 -4.97l4.30 2.48v4.97l-4.30 2.48l-4.30 -2.48v-4.97zM340.8 1315.4m0 -4.97l4.30 2.48v4.97l-4.30 2.48l-4.30 -2.48v-4.97zM276.3 1322.9m0 -4.97l4.30 2.48v4.97l-4.30 2.48l-4.30 -2.48v-4.97zM289.2 1330.3m0 -4.97l4.30 2.48v4.97l-4.30 2.48l-4.30 -2.48v-4.97z" fill="#450a5c" stroke="#450a5c" stroke-width="0.4"/><path d="M259.1 1248.4m0 -4.97l4.30 2.48v4.97l-4.30 2.48l-4.30 -2.48v-4.97zM250.5 1263.3m0 -4.97l4.30 2.48v4.97l-4.30 2.48l-4.30 -2.48v-4.97zM345.1 1322.9m0 -4.97l4.30 2.48v4.97l-4.30 2.48l-4.30 -2.48v-4.97zM276.3 1337.8m0 -4.97l4.30 2.48v4.97l-4.30 2.48l-4.30 -2.48v-4.97z" fill="#450558" stroke="#450558" stroke-width="0.4"/><path d="M276.3 1248.4m0 -4.97l4.30 2.48v4.97l-4.30 2.48l-4.30 -2.48v-4.97zM272.0 1255.9m0 -4.97l4.30 2.48v4.97l-4.30 2.48l-4.30 -2.48v-4.97zM263.4 1285.7m0 -4.97l4.30 2.48v4.97l-4.30 2.48l-4.30 -2.48v-4.97zM267.7 1308.0m0 -4.97l4.30 2.48v4.97l-4.30 2.48l-4.30 -2.48v-4.97zM272.0 1315.4m0 -4.97l4.30 2.48v4.97l-4.30 2.48l-4.30 -2.48v-4.97z" fill="#450b5d" stroke="#450b5d" stroke-width="0.4"/><path d="M284.9 1248.4m0 -4.97l4.30 2.48v4.97l-4.30 2.48l-4.30 -2.48v-4.97z" fill="#460f62" stroke="#460f62" stroke-width="0.4"/><path d="M302.1 1248.4m0 -4.97l4.30 2.48v4.97l-4.30 2.48l-4.30 -2.48v-4.97zM297.8 1255.9m0 -4.97l4.30 2.48v4.97l-4.30 2.48l-4.30 -2.48v-4.97zM366.6 1270.8m0 -4.97l4.30 2.48v4.97l-4.30 2.48l-4.30 -2.48v-4.97z" fill="#482374" stroke="#482374" stroke-width="0.4"/><path d="M310.7 1248.4m0 -4.97l4.30 2.48v4.97l-4.30 2.48l-4.30 -2.48v-4.97z" fill="#433a81" stroke="#433a81" stroke-width="0.4"/><path d="M319.3 1248.4m0 -4.97l4.30 2.48v4.97l-4.30 2.48l-4.30 -2.48v-4.97z" fill="#2e708e" stroke="#2e708e" stroke-width="0.4"/><path d="M327.9 1248.4m0 -4.97l4.30 2.48v4.97l-4.30 2.48l-4.30 -2.48v-4.97z" fill="#82d34c" stroke="#82d34c" stroke-width="0.4"/><path d="M362.3 1248.4m0 -4.97l4.30 2.48v4.97l-4.30 2.48l-4.30 -2.48v-4.97z" fill="#22a386" stroke="#22a386" stroke-width="0.4"/><path d="M370.9 1248.4m0 -4.97l4.30 2.48v4.97l-4.30 2.48l-4.30 -2.48v-4.97z" fill="#3d4c89" stroke="#3d4c89" stroke-width="0.4"/><path d="M379.5 1248.4m0 -4.97l4.30 2.48v4.97l-4.30 2.48l-4.30 -2.48v-4.97zM289.2 1285.7m0 -4.97l4.30 2.48v4.97l-4.30 2.48l-4.30 -2.48v-4.97zM289.2 1300.5m0 -4.97l4.30 2.48v4.97l-4.30 2.48l-4.30 -2.48v-4.97z" fill="#482475" stroke="#482475" stroke-width="0.4"/><path d="M388.1 1248.4m0 -4.97l4.30 2.48v4.97l-4.30 2.48l-4.30 -2.48v-4.97z" fill="#461365" stroke="#461365" stroke-width="0.4"/><path d="M306.4 1255.9m0 -4.97l4.30 2.48v4.97l-4.30 2.48l-4.30 -2.48v-4.97z" fill="#443780" stroke="#443780" stroke-width="0.4"/><path d="M315.0 1255.9m0 -4.97l4.30 2.48v4.97l-4.30 2.48l-4.30 -2.48v-4.97z" fill="#355f8d" stroke="#355f8d" stroke-width="0.4"/><path d="M323.6 1255.9m0 -4.97l4.30 2.48v4.97l-4.30 2.48l-4.30 -2.48v-4.97z" fill="#22a485" stroke="#22a485" stroke-width="0.4"/><path d="M332.2 1255.9m0 -4.97l4.30 2.48v4.97l-4.30 2.48l-4.30 -2.48v-4.97z" fill="#d3e226" stroke="#d3e226" stroke-width="0.4"/><path d="M349.4 1255.9m0 -4.97l4.30 2.48v4.97l-4.30 2.48l-4.30 -2.48v-4.97z" fill="#b8de29" stroke="#b8de29" stroke-width="0.4"/><path d="M366.6 1255.9m0 -4.97l4.30 2.48v4.97l-4.30 2.48l-4.30 -2.48v-4.97z" fill="#3d4e89" stroke="#3d4e89" stroke-width="0.4"/><path d="M293.5 1263.3m0 -4.97l4.30 2.48v4.97l-4.30 2.48l-4.30 -2.48v-4.97z" fill="#482173" stroke="#482173" stroke-width="0.4"/><path d="M302.1 1263.3m0 -4.97l4.30 2.48v4.97l-4.30 2.48l-4.30 -2.48v-4.97z" fill="#44357f" stroke="#44357f" stroke-width="0.4"/><path d="M319.3 1263.3m0 -4.97l4.30 2.48v4.97l-4.30 2.48l-4.30 -2.48v-4.97z" fill="#21918c" stroke="#21918c" stroke-width="0.4"/><path d="M327.9 1263.3m0 -4.97l4.30 2.48v4.97l-4.30 2.48l-4.30 -2.48v-4.97z" fill="#45bf70" stroke="#45bf70" stroke-width="0.4"/><path d="M336.5 1263.3m0 -4.97l4.30 2.48v4.97l-4.30 2.48l-4.30 -2.48v-4.97z" fill="#57c565" stroke="#57c565" stroke-width="0.4"/><path d="M345.1 1263.3m0 -4.97l4.30 2.48v4.97l-4.30 2.48l-4.30 -2.48v-4.97z" fill="#22a585" stroke="#22a585" stroke-width="0.4"/><path d="M353.7 1263.3m0 -4.97l4.30 2.48v4.97l-4.30 2.48l-4.30 -2.48v-4.97zM319.3 1293.1m0 -4.97l4.30 2.48v4.97l-4.30 2.48l-4.30 -2.48v-4.97z" fill="#2d718e" stroke="#2d718e" stroke-width="0.4"/><path d="M370.9 1263.3m0 -4.97l4.30 2.48v4.97l-4.30 2.48l-4.30 -2.48v-4.97z" fill="#472676" stroke="#472676" stroke-width="0.4"/><path d="M289.2 1270.8m0 -4.97l4.30 2.48v4.97l-4.30 2.48l-4.30 -2.48v-4.97z" fill="#471f70" stroke="#471f70" stroke-width="0.4"/><path d="M306.4 1270.8m0 -4.97l4.30 2.48v4.97l-4.30 2.48l-4.30 -2.48v-4.97z" fill="#38588b" stroke="#38588b" stroke-width="0.4"/><path d="M315.0 1270.8m0 -4.97l4.30 2.48v4.97l-4.30 2.48l-4.30 -2.48v-4.97z" fill="#228d8c" stroke="#228d8c" stroke-width="0.4"/><path d="M323.6 1270.8m0 -4.97l4.30 2.48v4.97l-4.30 2.48l-4.30 -2.48v-4.97z" fill="#31b27b" stroke="#31b27b" stroke-width="0.4"/><path d="M332.2 1270.8m0 -4.97l4.30 2.48v4.97l-4.30 2.48l-4.30 -2.48v-4.97z" fill="#22a884" stroke="#22a884" stroke-width="0.4"/><path d="M340.8 1270.8m0 -4.97l4.30 2.48v4.97l-4.30 2.48l-4.30 -2.48v-4.97z" fill="#287e8d" stroke="#287e8d" stroke-width="0.4"/><path d="M349.4 1270.8m0 -4.97l4.30 2.48v4.97l-4.30 2.48l-4.30 -2.48v-4.97z" fill="#39558b" stroke="#39558b" stroke-width="0.4"/><path d="M358.0 1270.8m0 -4.97l4.30 2.48v4.97l-4.30 2.48l-4.30 -2.48v-4.97z" fill="#443880" stroke="#443880" stroke-width="0.4"/><path d="M293.5 1278.2m0 -4.97l4.30 2.48v4.97l-4.30 2.48l-4.30 -2.48v-4.97z" fill="#462c79" stroke="#462c79" stroke-width="0.4"/><path d="M302.1 1278.2m0 -4.97l4.30 2.48v4.97l-4.30 2.48l-4.30 -2.48v-4.97z" fill="#3c508a" stroke="#3c508a" stroke-width="0.4"/><path d="M310.7 1278.2m0 -4.97l4.30 2.48v4.97l-4.30 2.48l-4.30 -2.48v-4.97z" fill="#26848d" stroke="#26848d" stroke-width="0.4"/><path d="M319.3 1278.2m0 -4.97l4.30 2.48v4.97l-4.30 2.48l-4.30 -2.48v-4.97z" fill="#23a983" stroke="#23a983" stroke-width="0.4"/><path d="M327.9 1278.2m0 -4.97l4.30 2.48v4.97l-4.30 2.48l-4.30 -2.48v-4.97z" fill="#219c88" stroke="#219c88" stroke-width="0.4"/><path d="M336.5 1278.2m0 -4.97l4.30 2.48v4.97l-4.30 2.48l-4.30 -2.48v-4.97z" fill="#2e6f8e" stroke="#2e6f8e" stroke-width="0.4"/><path d="M345.1 1278.2m0 -4.97l4.30 2.48v4.97l-4.30 2.48l-4.30 -2.48v-4.97z" fill="#3f4888" stroke="#3f4888" stroke-width="0.4"/><path d="M362.3 1278.2m0 -4.97l4.30 2.48v4.97l-4.30 2.48l-4.30 -2.48v-4.97z" fill="#471f71" stroke="#471f71" stroke-width="0.4"/><path d="M306.4 1285.7m0 -4.97l4.30 2.48v4.97l-4.30 2.48l-4.30 -2.48v-4.97z" fill="#2d728e" stroke="#2d728e" stroke-width="0.4"/><path d="M315.0 1285.7m0 -4.97l4.30 2.48v4.97l-4.30 2.48l-4.30 -2.48v-4.97z" fill="#21958b" stroke="#21958b" stroke-width="0.4"/><path d="M323.6 1285.7m0 -4.97l4.30 2.48v4.97l-4.30 2.48l-4.30 -2.48v-4.97z" fill="#238b8c" stroke="#238b8c" stroke-width="0.4"/><path d="M332.2 1285.7m0 -4.97l4.30 2.48v4.97l-4.30 2.48l-4.30 -2.48v-4.97z" fill="#34628d" stroke="#34628d" stroke-width="0.4"/><path d="M340.8 1285.7m0 -4.97l4.30 2.48v4.97l-4.30 2.48l-4.30 -2.48v-4.97z" fill="#423d83" stroke="#423d83" stroke-width="0.4"/><path d="M349.4 1285.7m0 -4.97l4.30 2.48v4.97l-4.30 2.48l-4.30 -2.48v-4.97zM293.5 1308.0m0 -4.97l4.30 2.48v4.97l-4.30 2.48l-4.30 -2.48v-4.97z" fill="#472877" stroke="#472877" stroke-width="0.4"/><path d="M293.5 1293.1m0 -4.97l4.30 2.48v4.97l-4.30 2.48l-4.30 -2.48v-4.97z" fill="#45347e" stroke="#45347e" stroke-width="0.4"/><path d="M302.1 1293.1m0 -4.97l4.30 2.48v4.97l-4.30 2.48l-4.30 -2.48v-4.97z" fill="#38598c" stroke="#38598c" stroke-width="0.4"/><path d="M310.7 1293.1m0 -4.97l4.30 2.48v4.97l-4.30 2.48l-4.30 -2.48v-4.97z" fill="#2b768e" stroke="#2b768e" stroke-width="0.4"/><path d="M327.9 1293.1m0 -4.97l4.30 2.48v4.97l-4.30 2.48l-4.30 -2.48v-4.97z" fill="#3b518a" stroke="#3b518a" stroke-width="0.4"/><path d="M345.1 1293.1m0 -4.97l4.30 2.48v4.97l-4.30 2.48l-4.30 -2.48v-4.97zM306.4 1315.4m0 -4.97l4.30 2.48v4.97l-4.30 2.48l-4.30 -2.48v-4.97z" fill="#482072" stroke="#482072" stroke-width="0.4"/><path d="M229.0 1300.5m0 -4.97l4.30 2.48v4.97l-4.30 2.48l-4.30 -2.48v-4.97zM349.4 1330.3m0 -4.97l4.30 2.48v4.97l-4.30 2.48l-4.30 -2.48v-4.97zM315.0 1345.2m0 -4.97l4.30 2.48v4.97l-4.30 2.48l-4.30 -2.48v-4.97z" fill="#440356" stroke="#440356" stroke-width="0.4"/><path d="M280.6 1300.5m0 -4.97l4.30 2.48v4.97l-4.30 2.48l-4.30 -2.48v-4.97z" fill="#461566" stroke="#461566" stroke-width="0.4"/><path d="M297.8 1300.5m0 -4.97l4.30 2.48v4.97l-4.30 2.48l-4.30 -2.48v-4.97z" fill="#423f84" stroke="#423f84" stroke-width="0.4"/><path d="M306.4 1300.5m0 -4.97l4.30 2.48v4.97l-4.30 2.48l-4.30 -2.48v-4.97z" fill="#3a558b" stroke="#3a558b" stroke-width="0.4"/><path d="M315.0 1300.5m0 -4.97l4.30 2.48v4.97l-4.30 2.48l-4.30 -2.48v-4.97z" fill="#3a538a" stroke="#3a538a" stroke-width="0.4"/><path d="M332.2 1300.5m0 -4.97l4.30 2.48v4.97l-4.30 2.48l-4.30 -2.48v-4.97z" fill="#482676" stroke="#482676" stroke-width="0.4"/><path d="M340.8 1300.5m0 -4.97l4.30 2.48v4.97l-4.30 2.48l-4.30 -2.48v-4.97zM315.0 1315.4m0 -4.97l4.30 2.48v4.97l-4.30 2.48l-4.30 -2.48v-4.97z" fill="#47196b" stroke="#47196b" stroke-width="0.4"/><path d="M284.9 1308.0m0 -4.97l4.30 2.48v4.97l-4.30 2.48l-4.30 -2.48v-4.97z" fill="#471869" stroke="#471869" stroke-width="0.4"/><path d="M302.1 1308.0m0 -4.97l4.30 2.48v4.97l-4.30 2.48l-4.30 -2.48v-4.97z" fill="#44367f" stroke="#44367f" stroke-width="0.4"/><path d="M310.7 1308.0m0 -4.97l4.30 2.48v4.97l-4.30 2.48l-4.30 -2.48v-4.97z" fill="#44377f" stroke="#44377f" stroke-width="0.4"/><path d="M297.8 1315.4m0 -4.97l4.30 2.48v4.97l-4.30 2.48l-4.30 -2.48v-4.97z" fill="#472071" stroke="#472071" stroke-width="0.4"/><path d="M319.3 1337.8m0 -4.97l4.30 2.48v4.97l-4.30 2.48l-4.30 -2.48v-4.97z" fill="#440557" stroke="#440557" stroke-width="0.4"/><path d="M340.8 1345.2m0 -4.97l4.30 2.48v4.97l-4.30 2.48l-4.30 -2.48v-4.97z" fill="#440255" stroke="#440255" stroke-width="0.4"/><path d="M297.8 1166.5m0 -4.97l4.30 2.48v4.97l-4.30 2.48l-4.30 -2.48v-4.97zM315.0 1166.5m0 -4.97l4.30 2.48v4.97l-4.30 2.48l-4.30 -2.48v-4.97zM327.9 1159.0m0 -4.97l4.30 2.48v4.97l-4.30 2.48l-4.30 -2.48v-4.97zM327.9 1173.9m0 -4.97l4.30 2.48v4.97l-4.30 2.48l-4.30 -2.48v-4.97zM345.1 1173.9m0 -4.97l4.30 2.48v4.97l-4.30 2.48l-4.30 -2.48v-4.97zM323.6 1181.4m0 -4.97l4.30 2.48v4.97l-4.30 2.48l-4.30 -2.48v-4.97zM246.2 1196.3m0 -4.97l4.30 2.48v4.97l-4.30 2.48l-4.30 -2.48v-4.97zM259.1 1203.7m0 -4.97l4.30 2.48v4.97l-4.30 2.48l-4.30 -2.48v-4.97zM276.3 1218.6m0 -4.97l4.30 2.48v4.97l-4.30 2.48l-4.30 -2.48v-4.97zM422.5 1188.8m0 -4.97l4.30 2.48v4.97l-4.30 2.48l-4.30 -2.48v-4.97zM426.8 1211.2m0 -4.97l4.30 2.48v4.97l-4.30 2.48l-4.30 -2.48v-4.97zM435.4 1226.1m0 -4.97l4.30 2.48v4.97l-4.30 2.48l-4.30 -2.48v-4.97zM211.8 1255.9m0 -4.97l4.30 2.48v4.97l-4.30 2.48l-4.30 -2.48v-4.97zM237.6 1255.9m0 -4.97l4.30 2.48v4.97l-4.30 2.48l-4.30 -2.48v-4.97zM220.4 1270.8m0 -4.97l4.30 2.48v4.97l-4.30 2.48l-4.30 -2.48v-4.97zM207.5 1308.0m0 -4.97l4.30 2.48v4.97l-4.30 2.48l-4.30 -2.48v-4.97zM207.5 1322.9m0 -4.97l4.30 2.48v4.97l-4.30 2.48l-4.30 -2.48v-4.97zM388.1 1293.1m0 -4.97l4.30 2.48v4.97l-4.30 2.48l-4.30 -2.48v-4.97zM383.8 1300.5m0 -4.97l4.30 2.48v4.97l-4.30 2.48l-4.30 -2.48v-4.97zM362.3 1322.9m0 -4.97l4.30 2.48v4.97l-4.30 2.48l-4.30 -2.48v-4.97zM327.9 1352.7m0 -4.97l4.30 2.48v4.97l-4.30 2.48l-4.30 -2.48v-4.97zM263.4 1345.2m0 -4.97l4.30 2.48v4.97l-4.30 2.48l-4.30 -2.48v-4.97zM284.9 1352.7m0 -4.97l4.30 2.48v4.97l-4.30 2.48l-4.30 -2.48v-4.97zM323.6 1121.8m0 -4.97l4.30 2.48v4.97l-4.30 2.48l-4.30 -2.48v-4.97zM293.5 1129.2m0 -4.97l4.30 2.48v4.97l-4.30 2.48l-4.30 -2.48v-4.97zM366.6 1136.7m0 -4.97l4.30 2.48v4.97l-4.30 2.48l-4.30 -2.48v-4.97zM319.3 1144.1m0 -4.97l4.30 2.48v4.97l-4.30 2.48l-4.30 -2.48v-4.97zM297.8 1166.5m0 -4.97l4.30 2.48v4.97l-4.30 2.48l-4.30 -2.48v-4.97zM138.7 1263.3m0 -4.97l4.30 2.48v4.97l-4.30 2.48l-4.30 -2.48v-4.97zM147.3 1278.2m0 -4.97l4.30 2.48v4.97l-4.30 2.48l-4.30 -2.48v-4.97zM190.3 1278.2m0 -4.97l4.30 2.48v4.97l-4.30 2.48l-4.30 -2.48v-4.97zM340.8 1166.5m0 -4.97l4.30 2.48v4.97l-4.30 2.48l-4.30 -2.48v-4.97zM345.1 1173.9m0 -4.97l4.30 2.48v4.97l-4.30 2.48l-4.30 -2.48v-4.97z" fill="#440154" stroke="#440154" stroke-width="0.4"/><path d="M880.8 1162.5m0 -4.79l4.15 2.40v4.79l-4.15 2.40l-4.15 -2.40v-4.79zM889.1 1162.5m0 -4.79l4.15 2.40v4.79l-4.15 2.40l-4.15 -2.40v-4.79zM947.2 1205.7m0 -4.79l4.15 2.40v4.79l-4.15 2.40l-4.15 -2.40v-4.79zM947.2 1220.0m0 -4.79l4.15 2.40v4.79l-4.15 2.40l-4.15 -2.40v-4.79zM943.0 1256.0m0 -4.79l4.15 2.40v4.79l-4.15 2.40l-4.15 -2.40v-4.79zM768.8 1270.4m0 -4.79l4.15 2.40v4.79l-4.15 2.40l-4.15 -2.40v-4.79zM764.6 1277.5m0 -4.79l4.15 2.40v4.79l-4.15 2.40l-4.15 -2.40v-4.79zM760.4 1284.7m0 -4.79l4.15 2.40v4.79l-4.15 2.40l-4.15 -2.40v-4.79zM756.3 1291.9m0 -4.79l4.15 2.40v4.79l-4.15 2.40l-4.15 -2.40v-4.79zM752.1 1313.5m0 -4.79l4.15 2.40v4.79l-4.15 2.40l-4.15 -2.40v-4.79zM748.0 1320.7m0 -4.79l4.15 2.40v4.79l-4.15 2.40l-4.15 -2.40v-4.79zM748.0 1335.1m0 -4.79l4.15 2.40v4.79l-4.15 2.40l-4.15 -2.40v-4.79zM743.8 1342.2m0 -4.79l4.15 2.40v4.79l-4.15 2.40l-4.15 -2.40v-4.79zM743.8 1356.6m0 -4.79l4.15 2.40v4.79l-4.15 2.40l-4.15 -2.40v-4.79zM748.0 1363.8m0 -4.79l4.15 2.40v4.79l-4.15 2.40l-4.15 -2.40v-4.79zM847.6 1392.6m0 -4.79l4.15 2.40v4.79l-4.15 2.40l-4.15 -2.40v-4.79zM814.4 1406.9m0 -4.79l4.15 2.40v4.79l-4.15 2.40l-4.15 -2.40v-4.79zM822.7 1406.9m0 -4.79l4.15 2.40v4.79l-4.15 2.40l-4.15 -2.40v-4.79z" fill="#440457" stroke="#440457" stroke-width="0.4"/><path d="M897.4 1162.5m0 -4.79l4.15 2.40v4.79l-4.15 2.40l-4.15 -2.40v-4.79zM826.8 1198.5m0 -4.79l4.15 2.40v4.79l-4.15 2.40l-4.15 -2.40v-4.79zM943.0 1198.5m0 -4.79l4.15 2.40v4.79l-4.15 2.40l-4.15 -2.40v-4.79zM943.0 1241.6m0 -4.79l4.15 2.40v4.79l-4.15 2.40l-4.15 -2.40v-4.79zM938.9 1263.2m0 -4.79l4.15 2.40v4.79l-4.15 2.40l-4.15 -2.40v-4.79zM756.3 1306.3m0 -4.79l4.15 2.40v4.79l-4.15 2.40l-4.15 -2.40v-4.79zM748.0 1349.4m0 -4.79l4.15 2.40v4.79l-4.15 2.40l-4.15 -2.40v-4.79zM884.9 1356.6m0 -4.79l4.15 2.40v4.79l-4.15 2.40l-4.15 -2.40v-4.79zM806.1 1406.9m0 -4.79l4.15 2.40v4.79l-4.15 2.40l-4.15 -2.40v-4.79z" fill="#440557" stroke="#440557" stroke-width="0.4"/><path d="M876.6 1169.7m0 -4.79l4.15 2.40v4.79l-4.15 2.40l-4.15 -2.40v-4.79zM918.1 1169.7m0 -4.79l4.15 2.40v4.79l-4.15 2.40l-4.15 -2.40v-4.79zM839.3 1191.3m0 -4.79l4.15 2.40v4.79l-4.15 2.40l-4.15 -2.40v-4.79zM822.7 1205.7m0 -4.79l4.15 2.40v4.79l-4.15 2.40l-4.15 -2.40v-4.79zM943.0 1212.9m0 -4.79l4.15 2.40v4.79l-4.15 2.40l-4.15 -2.40v-4.79zM806.1 1220.0m0 -4.79l4.15 2.40v4.79l-4.15 2.40l-4.15 -2.40v-4.79zM801.9 1227.2m0 -4.79l4.15 2.40v4.79l-4.15 2.40l-4.15 -2.40v-4.79zM943.0 1227.2m0 -4.79l4.15 2.40v4.79l-4.15 2.40l-4.15 -2.40v-4.79zM934.8 1270.4m0 -4.79l4.15 2.40v4.79l-4.15 2.40l-4.15 -2.40v-4.79zM930.6 1277.5m0 -4.79l4.15 2.40v4.79l-4.15 2.40l-4.15 -2.40v-4.79zM764.6 1291.9m0 -4.79l4.15 2.40v4.79l-4.15 2.40l-4.15 -2.40v-4.79zM760.4 1299.1m0 -4.79l4.15 2.40v4.79l-4.15 2.40l-4.15 -2.40v-4.79zM756.3 1320.7m0 -4.79l4.15 2.40v4.79l-4.15 2.40l-4.15 -2.40v-4.79zM752.1 1327.9m0 -4.79l4.15 2.40v4.79l-4.15 2.40l-4.15 -2.40v-4.79zM752.1 1342.2m0 -4.79l4.15 2.40v4.79l-4.15 2.40l-4.15 -2.40v-4.79zM752.1 1356.6m0 -4.79l4.15 2.40v4.79l-4.15 2.40l-4.15 -2.40v-4.79zM752.1 1371.0m0 -4.79l4.15 2.40v4.79l-4.15 2.40l-4.15 -2.40v-4.79zM868.3 1371.0m0 -4.79l4.15 2.40v4.79l-4.15 2.40l-4.15 -2.40v-4.79zM818.5 1399.7m0 -4.79l4.15 2.40v4.79l-4.15 2.40l-4.15 -2.40v-4.79zM826.8 1399.7m0 -4.79l4.15 2.40v4.79l-4.15 2.40l-4.15 -2.40v-4.79zM797.8 1406.9m0 -4.79l4.15 2.40v4.79l-4.15 2.40l-4.15 -2.40v-4.79z" fill="#440558" stroke="#440558" stroke-width="0.4"/><path d="M884.9 1169.7m0 -4.79l4.15 2.40v4.79l-4.15 2.40l-4.15 -2.40v-4.79zM901.5 1169.7m0 -4.79l4.15 2.40v4.79l-4.15 2.40l-4.15 -2.40v-4.79zM864.2 1176.9m0 -4.79l4.15 2.40v4.79l-4.15 2.40l-4.15 -2.40v-4.79zM922.3 1176.9m0 -4.79l4.15 2.40v4.79l-4.15 2.40l-4.15 -2.40v-4.79zM938.9 1234.4m0 -4.79l4.15 2.40v4.79l-4.15 2.40l-4.15 -2.40v-4.79zM772.9 1277.5m0 -4.79l4.15 2.40v4.79l-4.15 2.40l-4.15 -2.40v-4.79zM926.4 1284.7m0 -4.79l4.15 2.40v4.79l-4.15 2.40l-4.15 -2.40v-4.79zM922.3 1291.9m0 -4.79l4.15 2.40v4.79l-4.15 2.40l-4.15 -2.40v-4.79zM756.3 1363.8m0 -4.79l4.15 2.40v4.79l-4.15 2.40l-4.15 -2.40v-4.79zM831.0 1392.6m0 -4.79l4.15 2.40v4.79l-4.15 2.40l-4.15 -2.40v-4.79zM810.2 1399.7m0 -4.79l4.15 2.40v4.79l-4.15 2.40l-4.15 -2.40v-4.79z" fill="#450658" stroke="#450658" stroke-width="0.4"/><path d="M893.2 1169.7m0 -4.79l4.15 2.40v4.79l-4.15 2.40l-4.15 -2.40v-4.79zM872.5 1176.9m0 -4.79l4.15 2.40v4.79l-4.15 2.40l-4.15 -2.40v-4.79zM914.0 1176.9m0 -4.79l4.15 2.40v4.79l-4.15 2.40l-4.15 -2.40v-4.79zM930.6 1191.3m0 -4.79l4.15 2.40v4.79l-4.15 2.40l-4.15 -2.40v-4.79zM835.1 1198.5m0 -4.79l4.15 2.40v4.79l-4.15 2.40l-4.15 -2.40v-4.79zM934.8 1198.5m0 -4.79l4.15 2.40v4.79l-4.15 2.40l-4.15 -2.40v-4.79zM938.9 1220.0m0 -4.79l4.15 2.40v4.79l-4.15 2.40l-4.15 -2.40v-4.79zM785.3 1256.0m0 -4.79l4.15 2.40v4.79l-4.15 2.40l-4.15 -2.40v-4.79zM934.8 1256.0m0 -4.79l4.15 2.40v4.79l-4.15 2.40l-4.15 -2.40v-4.79zM930.6 1263.2m0 -4.79l4.15 2.40v4.79l-4.15 2.40l-4.15 -2.40v-4.79zM777.0 1270.4m0 -4.79l4.15 2.40v4.79l-4.15 2.40l-4.15 -2.40v-4.79zM918.1 1299.1m0 -4.79l4.15 2.40v4.79l-4.15 2.40l-4.15 -2.40v-4.79zM764.6 1306.3m0 -4.79l4.15 2.40v4.79l-4.15 2.40l-4.15 -2.40v-4.79zM914.0 1306.3m0 -4.79l4.15 2.40v4.79l-4.15 2.40l-4.15 -2.40v-4.79zM760.4 1313.5m0 -4.79l4.15 2.40v4.79l-4.15 2.40l-4.15 -2.40v-4.79zM909.8 1313.5m0 -4.79l4.15 2.40v4.79l-4.15 2.40l-4.15 -2.40v-4.79zM756.3 1335.1m0 -4.79l4.15 2.40v4.79l-4.15 2.40l-4.15 -2.40v-4.79zM756.3 1349.4m0 -4.79l4.15 2.40v4.79l-4.15 2.40l-4.15 -2.40v-4.79zM764.6 1378.2m0 -4.79l4.15 2.40v4.79l-4.15 2.40l-4.15 -2.40v-4.79zM822.7 1392.6m0 -4.79l4.15 2.40v4.79l-4.15 2.40l-4.15 -2.40v-4.79zM793.6 1399.7m0 -4.79l4.15 2.40v4.79l-4.15 2.40l-4.15 -2.40v-4.79zM801.9 1399.7m0 -4.79l4.15 2.40v4.79l-4.15 2.40l-4.15 -2.40v-4.79z" fill="#450659" stroke="#450659" stroke-width="0.4"/><path d="M880.8 1176.9m0 -4.79l4.15 2.40v4.79l-4.15 2.40l-4.15 -2.40v-4.79zM897.4 1176.9m0 -4.79l4.15 2.40v4.79l-4.15 2.40l-4.15 -2.40v-4.79zM905.7 1176.9m0 -4.79l4.15 2.40v4.79l-4.15 2.40l-4.15 -2.40v-4.79zM860.0 1184.1m0 -4.79l4.15 2.40v4.79l-4.15 2.40l-4.15 -2.40v-4.79zM918.1 1184.1m0 -4.79l4.15 2.40v4.79l-4.15 2.40l-4.15 -2.40v-4.79zM831.0 1205.7m0 -4.79l4.15 2.40v4.79l-4.15 2.40l-4.15 -2.40v-4.79zM930.6 1205.7m0 -4.79l4.15 2.40v4.79l-4.15 2.40l-4.15 -2.40v-4.79zM810.2 1227.2m0 -4.79l4.15 2.40v4.79l-4.15 2.40l-4.15 -2.40v-4.79zM934.8 1227.2m0 -4.79l4.15 2.40v4.79l-4.15 2.40l-4.15 -2.40v-4.79zM926.4 1270.4m0 -4.79l4.15 2.40v4.79l-4.15 2.40l-4.15 -2.40v-4.79zM768.8 1299.1m0 -4.79l4.15 2.40v4.79l-4.15 2.40l-4.15 -2.40v-4.79zM760.4 1342.2m0 -4.79l4.15 2.40v4.79l-4.15 2.40l-4.15 -2.40v-4.79zM884.9 1342.2m0 -4.79l4.15 2.40v4.79l-4.15 2.40l-4.15 -2.40v-4.79zM764.6 1363.8m0 -4.79l4.15 2.40v4.79l-4.15 2.40l-4.15 -2.40v-4.79zM864.2 1363.8m0 -4.79l4.15 2.40v4.79l-4.15 2.40l-4.15 -2.40v-4.79zM777.0 1385.4m0 -4.79l4.15 2.40v4.79l-4.15 2.40l-4.15 -2.40v-4.79zM789.5 1392.6m0 -4.79l4.15 2.40v4.79l-4.15 2.40l-4.15 -2.40v-4.79zM797.8 1392.6m0 -4.79l4.15 2.40v4.79l-4.15 2.40l-4.15 -2.40v-4.79zM806.1 1392.6m0 -4.79l4.15 2.40v4.79l-4.15 2.40l-4.15 -2.40v-4.79zM814.4 1392.6m0 -4.79l4.15 2.40v4.79l-4.15 2.40l-4.15 -2.40v-4.79z" fill="#45075a" stroke="#45075a" stroke-width="0.4"/><path d="M889.1 1176.9m0 -4.79l4.15 2.40v4.79l-4.15 2.40l-4.15 -2.40v-4.79zM922.3 1191.3m0 -4.79l4.15 2.40v4.79l-4.15 2.40l-4.15 -2.40v-4.79zM926.4 1198.5m0 -4.79l4.15 2.40v4.79l-4.15 2.40l-4.15 -2.40v-4.79zM806.1 1234.4m0 -4.79l4.15 2.40v4.79l-4.15 2.40l-4.15 -2.40v-4.79zM930.6 1248.8m0 -4.79l4.15 2.40v4.79l-4.15 2.40l-4.15 -2.40v-4.79zM922.3 1277.5m0 -4.79l4.15 2.40v4.79l-4.15 2.40l-4.15 -2.40v-4.79zM772.9 1291.9m0 -4.79l4.15 2.40v4.79l-4.15 2.40l-4.15 -2.40v-4.79zM764.6 1320.7m0 -4.79l4.15 2.40v4.79l-4.15 2.40l-4.15 -2.40v-4.79zM768.8 1371.0m0 -4.79l4.15 2.40v4.79l-4.15 2.40l-4.15 -2.40v-4.79zM851.8 1371.0m0 -4.79l4.15 2.40v4.79l-4.15 2.40l-4.15 -2.40v-4.79zM772.9 1378.2m0 -4.79l4.15 2.40v4.79l-4.15 2.40l-4.15 -2.40v-4.79zM826.8 1385.4m0 -4.79l4.15 2.40v4.79l-4.15 2.40l-4.15 -2.40v-4.79z" fill="#45085a" stroke="#45085a" stroke-width="0.4"/><path d="M868.3 1184.1m0 -4.79l4.15 2.40v4.79l-4.15 2.40l-4.15 -2.40v-4.79zM909.8 1184.1m0 -4.79l4.15 2.40v4.79l-4.15 2.40l-4.15 -2.40v-4.79zM843.4 1198.5m0 -4.79l4.15 2.40v4.79l-4.15 2.40l-4.15 -2.40v-4.79zM826.8 1212.9m0 -4.79l4.15 2.40v4.79l-4.15 2.40l-4.15 -2.40v-4.79zM930.6 1220.0m0 -4.79l4.15 2.40v4.79l-4.15 2.40l-4.15 -2.40v-4.79zM930.6 1234.4m0 -4.79l4.15 2.40v4.79l-4.15 2.40l-4.15 -2.40v-4.79zM801.9 1241.6m0 -4.79l4.15 2.40v4.79l-4.15 2.40l-4.15 -2.40v-4.79zM781.2 1277.5m0 -4.79l4.15 2.40v4.79l-4.15 2.40l-4.15 -2.40v-4.79zM777.0 1284.7m0 -4.79l4.15 2.40v4.79l-4.15 2.40l-4.15 -2.40v-4.79zM918.1 1284.7m0 -4.79l4.15 2.40v4.79l-4.15 2.40l-4.15 -2.40v-4.79zM914.0 1291.9m0 -4.79l4.15 2.40v4.79l-4.15 2.40l-4.15 -2.40v-4.79zM768.8 1313.5m0 -4.79l4.15 2.40v4.79l-4.15 2.40l-4.15 -2.40v-4.79zM893.2 1327.9m0 -4.79l4.15 2.40v4.79l-4.15 2.40l-4.15 -2.40v-4.79zM764.6 1335.1m0 -4.79l4.15 2.40v4.79l-4.15 2.40l-4.15 -2.40v-4.79zM764.6 1349.4m0 -4.79l4.15 2.40v4.79l-4.15 2.40l-4.15 -2.40v-4.79zM868.3 1356.6m0 -4.79l4.15 2.40v4.79l-4.15 2.40l-4.15 -2.40v-4.79zM839.3 1378.2m0 -4.79l4.15 2.40v4.79l-4.15 2.40l-4.15 -2.40v-4.79zM785.3 1385.4m0 -4.79l4.15 2.40v4.79l-4.15 2.40l-4.15 -2.40v-4.79z" fill="#45085b" stroke="#45085b" stroke-width="0.4"/><path d="M876.6 1184.1m0 -4.79l4.15 2.40v4.79l-4.15 2.40l-4.15 -2.40v-4.79zM901.5 1184.1m0 -4.79l4.15 2.40v4.79l-4.15 2.40l-4.15 -2.40v-4.79zM914.0 1191.3m0 -4.79l4.15 2.40v4.79l-4.15 2.40l-4.15 -2.40v-4.79zM926.4 1212.9m0 -4.79l4.15 2.40v4.79l-4.15 2.40l-4.15 -2.40v-4.79zM822.7 1220.0m0 -4.79l4.15 2.40v4.79l-4.15 2.40l-4.15 -2.40v-4.79zM772.9 1306.3m0 -4.79l4.15 2.40v4.79l-4.15 2.40l-4.15 -2.40v-4.79zM768.8 1327.9m0 -4.79l4.15 2.40v4.79l-4.15 2.40l-4.15 -2.40v-4.79zM872.5 1349.4m0 -4.79l4.15 2.40v4.79l-4.15 2.40l-4.15 -2.40v-4.79zM772.9 1363.8m0 -4.79l4.15 2.40v4.79l-4.15 2.40l-4.15 -2.40v-4.79zM855.9 1363.8m0 -4.79l4.15 2.40v4.79l-4.15 2.40l-4.15 -2.40v-4.79zM781.2 1378.2m0 -4.79l4.15 2.40v4.79l-4.15 2.40l-4.15 -2.40v-4.79zM793.6 1385.4m0 -4.79l4.15 2.40v4.79l-4.15 2.40l-4.15 -2.40v-4.79zM801.9 1385.4m0 -4.79l4.15 2.40v4.79l-4.15 2.40l-4.15 -2.40v-4.79zM810.2 1385.4m0 -4.79l4.15 2.40v4.79l-4.15 2.40l-4.15 -2.40v-4.79z" fill="#45095c" stroke="#45095c" stroke-width="0.4"/><path d="M884.9 1184.1m0 -4.79l4.15 2.40v4.79l-4.15 2.40l-4.15 -2.40v-4.79zM893.2 1184.1m0 -4.79l4.15 2.40v4.79l-4.15 2.40l-4.15 -2.40v-4.79zM918.1 1198.5m0 -4.79l4.15 2.40v4.79l-4.15 2.40l-4.15 -2.40v-4.79zM839.3 1205.7m0 -4.79l4.15 2.40v4.79l-4.15 2.40l-4.15 -2.40v-4.79zM922.3 1205.7m0 -4.79l4.15 2.40v4.79l-4.15 2.40l-4.15 -2.40v-4.79zM926.4 1227.2m0 -4.79l4.15 2.40v4.79l-4.15 2.40l-4.15 -2.40v-4.79zM926.4 1241.6m0 -4.79l4.15 2.40v4.79l-4.15 2.40l-4.15 -2.40v-4.79zM922.3 1263.2m0 -4.79l4.15 2.40v4.79l-4.15 2.40l-4.15 -2.40v-4.79zM768.8 1342.2m0 -4.79l4.15 2.40v4.79l-4.15 2.40l-4.15 -2.40v-4.79zM876.6 1342.2m0 -4.79l4.15 2.40v4.79l-4.15 2.40l-4.15 -2.40v-4.79zM777.0 1371.0m0 -4.79l4.15 2.40v4.79l-4.15 2.40l-4.15 -2.40v-4.79zM843.4 1371.0m0 -4.79l4.15 2.40v4.79l-4.15 2.40l-4.15 -2.40v-4.79zM831.0 1378.2m0 -4.79l4.15 2.40v4.79l-4.15 2.40l-4.15 -2.40v-4.79z" fill="#450a5c" stroke="#450a5c" stroke-width="0.4"/><path d="M847.6 1191.3m0 -4.79l4.15 2.40v4.79l-4.15 2.40l-4.15 -2.40v-4.79zM934.8 1212.9m0 -4.79l4.15 2.40v4.79l-4.15 2.40l-4.15 -2.40v-4.79zM934.8 1241.6m0 -4.79l4.15 2.40v4.79l-4.15 2.40l-4.15 -2.40v-4.79zM760.4 1327.9m0 -4.79l4.15 2.40v4.79l-4.15 2.40l-4.15 -2.40v-4.79zM760.4 1356.6m0 -4.79l4.15 2.40v4.79l-4.15 2.40l-4.15 -2.40v-4.79zM835.1 1385.4m0 -4.79l4.15 2.40v4.79l-4.15 2.40l-4.15 -2.40v-4.79z" fill="#450759" stroke="#450759" stroke-width="0.4"/><path d="M855.9 1191.3m0 -4.79l4.15 2.40v4.79l-4.15 2.40l-4.15 -2.40v-4.79zM797.8 1248.8m0 -4.79l4.15 2.40v4.79l-4.15 2.40l-4.15 -2.40v-4.79zM793.6 1256.0m0 -4.79l4.15 2.40v4.79l-4.15 2.40l-4.15 -2.40v-4.79zM926.4 1256.0m0 -4.79l4.15 2.40v4.79l-4.15 2.40l-4.15 -2.40v-4.79zM789.5 1263.2m0 -4.79l4.15 2.40v4.79l-4.15 2.40l-4.15 -2.40v-4.79zM785.3 1270.4m0 -4.79l4.15 2.40v4.79l-4.15 2.40l-4.15 -2.40v-4.79zM909.8 1299.1m0 -4.79l4.15 2.40v4.79l-4.15 2.40l-4.15 -2.40v-4.79zM905.7 1306.3m0 -4.79l4.15 2.40v4.79l-4.15 2.40l-4.15 -2.40v-4.79zM901.5 1313.5m0 -4.79l4.15 2.40v4.79l-4.15 2.40l-4.15 -2.40v-4.79zM897.4 1320.7m0 -4.79l4.15 2.40v4.79l-4.15 2.40l-4.15 -2.40v-4.79zM768.8 1356.6m0 -4.79l4.15 2.40v4.79l-4.15 2.40l-4.15 -2.40v-4.79zM818.5 1385.4m0 -4.79l4.15 2.40v4.79l-4.15 2.40l-4.15 -2.40v-4.79z" fill="#45095b" stroke="#45095b" stroke-width="0.4"/><path d="M864.2 1191.3m0 -4.79l4.15 2.40v4.79l-4.15 2.40l-4.15 -2.40v-4.79zM851.8 1198.5m0 -4.79l4.15 2.40v4.79l-4.15 2.40l-4.15 -2.40v-4.79zM818.5 1227.2m0 -4.79l4.15 2.40v4.79l-4.15 2.40l-4.15 -2.40v-4.79zM777.0 1299.1m0 -4.79l4.15 2.40v4.79l-4.15 2.40l-4.15 -2.40v-4.79z" fill="#450a5d" stroke="#450a5d" stroke-width="0.4"/><path d="M872.5 1191.3m0 -4.79l4.15 2.40v4.79l-4.15 2.40l-4.15 -2.40v-4.79zM922.3 1234.4m0 -4.79l4.15 2.40v4.79l-4.15 2.40l-4.15 -2.40v-4.79zM785.3 1284.7m0 -4.79l4.15 2.40v4.79l-4.15 2.40l-4.15 -2.40v-4.79zM884.9 1327.9m0 -4.79l4.15 2.40v4.79l-4.15 2.40l-4.15 -2.40v-4.79zM777.0 1356.6m0 -4.79l4.15 2.40v4.79l-4.15 2.40l-4.15 -2.40v-4.79zM847.6 1363.8m0 -4.79l4.15 2.40v4.79l-4.15 2.40l-4.15 -2.40v-4.79zM785.3 1371.0m0 -4.79l4.15 2.40v4.79l-4.15 2.40l-4.15 -2.40v-4.79zM835.1 1371.0m0 -4.79l4.15 2.40v4.79l-4.15 2.40l-4.15 -2.40v-4.79zM797.8 1378.2m0 -4.79l4.15 2.40v4.79l-4.15 2.40l-4.15 -2.40v-4.79zM806.1 1378.2m0 -4.79l4.15 2.40v4.79l-4.15 2.40l-4.15 -2.40v-4.79zM814.4 1378.2m0 -4.79l4.15 2.40v4.79l-4.15 2.40l-4.15 -2.40v-4.79z" fill="#450c5e" stroke="#450c5e" stroke-width="0.4"/><path d="M880.8 1191.3m0 -4.79l4.15 2.40v4.79l-4.15 2.40l-4.15 -2.40v-4.79zM889.1 1191.3m0 -4.79l4.15 2.40v4.79l-4.15 2.40l-4.15 -2.40v-4.79zM860.0 1198.5m0 -4.79l4.15 2.40v4.79l-4.15 2.40l-4.15 -2.40v-4.79zM847.6 1205.7m0 -4.79l4.15 2.40v4.79l-4.15 2.40l-4.15 -2.40v-4.79zM914.0 1205.7m0 -4.79l4.15 2.40v4.79l-4.15 2.40l-4.15 -2.40v-4.79zM806.1 1248.8m0 -4.79l4.15 2.40v4.79l-4.15 2.40l-4.15 -2.40v-4.79zM801.9 1256.0m0 -4.79l4.15 2.40v4.79l-4.15 2.40l-4.15 -2.40v-4.79zM918.1 1256.0m0 -4.79l4.15 2.40v4.79l-4.15 2.40l-4.15 -2.40v-4.79zM793.6 1270.4m0 -4.79l4.15 2.40v4.79l-4.15 2.40l-4.15 -2.40v-4.79zM789.5 1277.5m0 -4.79l4.15 2.40v4.79l-4.15 2.40l-4.15 -2.40v-4.79zM905.7 1291.9m0 -4.79l4.15 2.40v4.79l-4.15 2.40l-4.15 -2.40v-4.79zM901.5 1299.1m0 -4.79l4.15 2.40v4.79l-4.15 2.40l-4.15 -2.40v-4.79zM897.4 1306.3m0 -4.79l4.15 2.40v4.79l-4.15 2.40l-4.15 -2.40v-4.79zM893.2 1313.5m0 -4.79l4.15 2.40v4.79l-4.15 2.40l-4.15 -2.40v-4.79z" fill="#450d5f" stroke="#450d5f" stroke-width="0.4"/><path d="M897.4 1191.3m0 -4.79l4.15 2.40v4.79l-4.15 2.40l-4.15 -2.40v-4.79zM909.8 1198.5m0 -4.79l4.15 2.40v4.79l-4.15 2.40l-4.15 -2.40v-4.79zM918.1 1212.9m0 -4.79l4.15 2.40v4.79l-4.15 2.40l-4.15 -2.40v-4.79zM810.2 1241.6m0 -4.79l4.15 2.40v4.79l-4.15 2.40l-4.15 -2.40v-4.79zM909.8 1284.7m0 -4.79l4.15 2.40v4.79l-4.15 2.40l-4.15 -2.40v-4.79zM777.0 1313.5m0 -4.79l4.15 2.40v4.79l-4.15 2.40l-4.15 -2.40v-4.79zM889.1 1320.7m0 -4.79l4.15 2.40v4.79l-4.15 2.40l-4.15 -2.40v-4.79zM864.2 1349.4m0 -4.79l4.15 2.40v4.79l-4.15 2.40l-4.15 -2.40v-4.79zM781.2 1363.8m0 -4.79l4.15 2.40v4.79l-4.15 2.40l-4.15 -2.40v-4.79z" fill="#450c5f" stroke="#450c5f" stroke-width="0.4"/><path d="M905.7 1191.3m0 -4.79l4.15 2.40v4.79l-4.15 2.40l-4.15 -2.40v-4.79zM918.1 1270.4m0 -4.79l4.15 2.40v4.79l-4.15 2.40l-4.15 -2.40v-4.79zM772.9 1320.7m0 -4.79l4.15 2.40v4.79l-4.15 2.40l-4.15 -2.40v-4.79zM880.8 1335.1m0 -4.79l4.15 2.40v4.79l-4.15 2.40l-4.15 -2.40v-4.79zM772.9 1349.4m0 -4.79l4.15 2.40v4.79l-4.15 2.40l-4.15 -2.40v-4.79zM860.0 1356.6m0 -4.79l4.15 2.40v4.79l-4.15 2.40l-4.15 -2.40v-4.79zM789.5 1378.2m0 -4.79l4.15 2.40v4.79l-4.15 2.40l-4.15 -2.40v-4.79zM822.7 1378.2m0 -4.79l4.15 2.40v4.79l-4.15 2.40l-4.15 -2.40v-4.79z" fill="#450b5d" stroke="#450b5d" stroke-width="0.4"/><path d="M868.3 1198.5m0 -4.79l4.15 2.40v4.79l-4.15 2.40l-4.15 -2.40v-4.79zM826.8 1227.2m0 -4.79l4.15 2.40v4.79l-4.15 2.40l-4.15 -2.40v-4.79zM872.5 1335.1m0 -4.79l4.15 2.40v4.79l-4.15 2.40l-4.15 -2.40v-4.79zM781.2 1349.4m0 -4.79l4.15 2.40v4.79l-4.15 2.40l-4.15 -2.40v-4.79zM818.5 1371.0m0 -4.79l4.15 2.40v4.79l-4.15 2.40l-4.15 -2.40v-4.79z" fill="#460f61" stroke="#460f61" stroke-width="0.4"/><path d="M876.6 1198.5m0 -4.79l4.15 2.40v4.79l-4.15 2.40l-4.15 -2.40v-4.79zM884.9 1198.5m0 -4.79l4.15 2.40v4.79l-4.15 2.40l-4.15 -2.40v-4.79zM822.7 1234.4m0 -4.79l4.15 2.40v4.79l-4.15 2.40l-4.15 -2.40v-4.79zM914.0 1234.4m0 -4.79l4.15 2.40v4.79l-4.15 2.40l-4.15 -2.40v-4.79zM914.0 1248.8m0 -4.79l4.15 2.40v4.79l-4.15 2.40l-4.15 -2.40v-4.79zM905.7 1277.5m0 -4.79l4.15 2.40v4.79l-4.15 2.40l-4.15 -2.40v-4.79zM789.5 1291.9m0 -4.79l4.15 2.40v4.79l-4.15 2.40l-4.15 -2.40v-4.79zM876.6 1327.9m0 -4.79l4.15 2.40v4.79l-4.15 2.40l-4.15 -2.40v-4.79zM781.2 1335.1m0 -4.79l4.15 2.40v4.79l-4.15 2.40l-4.15 -2.40v-4.79zM843.4 1356.6m0 -4.79l4.15 2.40v4.79l-4.15 2.40l-4.15 -2.40v-4.79zM831.0 1363.8m0 -4.79l4.15 2.40v4.79l-4.15 2.40l-4.15 -2.40v-4.79z" fill="#461163" stroke="#461163" stroke-width="0.4"/><path d="M893.2 1198.5m0 -4.79l4.15 2.40v4.79l-4.15 2.40l-4.15 -2.40v-4.79zM855.9 1205.7m0 -4.79l4.15 2.40v4.79l-4.15 2.40l-4.15 -2.40v-4.79zM905.7 1205.7m0 -4.79l4.15 2.40v4.79l-4.15 2.40l-4.15 -2.40v-4.79zM843.4 1212.9m0 -4.79l4.15 2.40v4.79l-4.15 2.40l-4.15 -2.40v-4.79zM909.8 1212.9m0 -4.79l4.15 2.40v4.79l-4.15 2.40l-4.15 -2.40v-4.79zM914.0 1220.0m0 -4.79l4.15 2.40v4.79l-4.15 2.40l-4.15 -2.40v-4.79zM909.8 1270.4m0 -4.79l4.15 2.40v4.79l-4.15 2.40l-4.15 -2.40v-4.79zM785.3 1299.1m0 -4.79l4.15 2.40v4.79l-4.15 2.40l-4.15 -2.40v-4.79zM781.2 1320.7m0 -4.79l4.15 2.40v4.79l-4.15 2.40l-4.15 -2.40v-4.79zM855.9 1349.4m0 -4.79l4.15 2.40v4.79l-4.15 2.40l-4.15 -2.40v-4.79zM785.3 1356.6m0 -4.79l4.15 2.40v4.79l-4.15 2.40l-4.15 -2.40v-4.79zM789.5 1363.8m0 -4.79l4.15 2.40v4.79l-4.15 2.40l-4.15 -2.40v-4.79zM801.9 1371.0m0 -4.79l4.15 2.40v4.79l-4.15 2.40l-4.15 -2.40v-4.79zM810.2 1371.0m0 -4.79l4.15 2.40v4.79l-4.15 2.40l-4.15 -2.40v-4.79z" fill="#461062" stroke="#461062" stroke-width="0.4"/><path d="M901.5 1198.5m0 -4.79l4.15 2.40v4.79l-4.15 2.40l-4.15 -2.40v-4.79zM914.0 1263.2m0 -4.79l4.15 2.40v4.79l-4.15 2.40l-4.15 -2.40v-4.79z" fill="#460e61" stroke="#460e61" stroke-width="0.4"/><path d="M864.2 1205.7m0 -4.79l4.15 2.40v4.79l-4.15 2.40l-4.15 -2.40v-4.79zM810.2 1256.0m0 -4.79l4.15 2.40v4.79l-4.15 2.40l-4.15 -2.40v-4.79zM797.8 1277.5m0 -4.79l4.15 2.40v4.79l-4.15 2.40l-4.15 -2.40v-4.79zM785.3 1342.2m0 -4.79l4.15 2.40v4.79l-4.15 2.40l-4.15 -2.40v-4.79zM822.7 1363.8m0 -4.79l4.15 2.40v4.79l-4.15 2.40l-4.15 -2.40v-4.79z" fill="#461466" stroke="#461466" stroke-width="0.4"/><path d="M872.5 1205.7m0 -4.79l4.15 2.40v4.79l-4.15 2.40l-4.15 -2.40v-4.79zM835.1 1227.2m0 -4.79l4.15 2.40v4.79l-4.15 2.40l-4.15 -2.40v-4.79zM905.7 1263.2m0 -4.79l4.15 2.40v4.79l-4.15 2.40l-4.15 -2.40v-4.79zM789.5 1306.3m0 -4.79l4.15 2.40v4.79l-4.15 2.40l-4.15 -2.40v-4.79z" fill="#461668" stroke="#461668" stroke-width="0.4"/><path d="M880.8 1205.7m0 -4.79l4.15 2.40v4.79l-4.15 2.40l-4.15 -2.40v-4.79z" fill="#461768" stroke="#461768" stroke-width="0.4"/><path d="M889.1 1205.7m0 -4.79l4.15 2.40v4.79l-4.15 2.40l-4.15 -2.40v-4.79zM851.8 1212.9m0 -4.79l4.15 2.40v4.79l-4.15 2.40l-4.15 -2.40v-4.79zM901.5 1212.9m0 -4.79l4.15 2.40v4.79l-4.15 2.40l-4.15 -2.40v-4.79zM905.7 1220.0m0 -4.79l4.15 2.40v4.79l-4.15 2.40l-4.15 -2.40v-4.79zM909.8 1241.6m0 -4.79l4.15 2.40v4.79l-4.15 2.40l-4.15 -2.40v-4.79zM806.1 1263.2m0 -4.79l4.15 2.40v4.79l-4.15 2.40l-4.15 -2.40v-4.79zM785.3 1327.9m0 -4.79l4.15 2.40v4.79l-4.15 2.40l-4.15 -2.40v-4.79zM864.2 1335.1m0 -4.79l4.15 2.40v4.79l-4.15 2.40l-4.15 -2.40v-4.79zM847.6 1349.4m0 -4.79l4.15 2.40v4.79l-4.15 2.40l-4.15 -2.40v-4.79zM793.6 1356.6m0 -4.79l4.15 2.40v4.79l-4.15 2.40l-4.15 -2.40v-4.79zM835.1 1356.6m0 -4.79l4.15 2.40v4.79l-4.15 2.40l-4.15 -2.40v-4.79zM806.1 1363.8m0 -4.79l4.15 2.40v4.79l-4.15 2.40l-4.15 -2.40v-4.79zM814.4 1363.8m0 -4.79l4.15 2.40v4.79l-4.15 2.40l-4.15 -2.40v-4.79z" fill="#461567" stroke="#461567" stroke-width="0.4"/><path d="M897.4 1205.7m0 -4.79l4.15 2.40v4.79l-4.15 2.40l-4.15 -2.40v-4.79zM839.3 1220.0m0 -4.79l4.15 2.40v4.79l-4.15 2.40l-4.15 -2.40v-4.79zM909.8 1256.0m0 -4.79l4.15 2.40v4.79l-4.15 2.40l-4.15 -2.40v-4.79zM793.6 1284.7m0 -4.79l4.15 2.40v4.79l-4.15 2.40l-4.15 -2.40v-4.79zM897.4 1291.9m0 -4.79l4.15 2.40v4.79l-4.15 2.40l-4.15 -2.40v-4.79zM893.2 1299.1m0 -4.79l4.15 2.40v4.79l-4.15 2.40l-4.15 -2.40v-4.79zM889.1 1306.3m0 -4.79l4.15 2.40v4.79l-4.15 2.40l-4.15 -2.40v-4.79zM785.3 1313.5m0 -4.79l4.15 2.40v4.79l-4.15 2.40l-4.15 -2.40v-4.79zM884.9 1313.5m0 -4.79l4.15 2.40v4.79l-4.15 2.40l-4.15 -2.40v-4.79zM860.0 1342.2m0 -4.79l4.15 2.40v4.79l-4.15 2.40l-4.15 -2.40v-4.79zM797.8 1363.8m0 -4.79l4.15 2.40v4.79l-4.15 2.40l-4.15 -2.40v-4.79z" fill="#461365" stroke="#461365" stroke-width="0.4"/><path d="M938.9 1205.7m0 -4.79l4.15 2.40v4.79l-4.15 2.40l-4.15 -2.40v-4.79zM797.8 1234.4m0 -4.79l4.15 2.40v4.79l-4.15 2.40l-4.15 -2.40v-4.79zM768.8 1284.7m0 -4.79l4.15 2.40v4.79l-4.15 2.40l-4.15 -2.40v-4.79zM872.5 1363.8m0 -4.79l4.15 2.40v4.79l-4.15 2.40l-4.15 -2.40v-4.79z" fill="#450558" stroke="#450558" stroke-width="0.4"/><path d="M835.1 1212.9m0 -4.79l4.15 2.40v4.79l-4.15 2.40l-4.15 -2.40v-4.79zM922.3 1220.0m0 -4.79l4.15 2.40v4.79l-4.15 2.40l-4.15 -2.40v-4.79zM814.4 1234.4m0 -4.79l4.15 2.40v4.79l-4.15 2.40l-4.15 -2.40v-4.79zM922.3 1248.8m0 -4.79l4.15 2.40v4.79l-4.15 2.40l-4.15 -2.40v-4.79zM914.0 1277.5m0 -4.79l4.15 2.40v4.79l-4.15 2.40l-4.15 -2.40v-4.79zM781.2 1291.9m0 -4.79l4.15 2.40v4.79l-4.15 2.40l-4.15 -2.40v-4.79zM772.9 1335.1m0 -4.79l4.15 2.40v4.79l-4.15 2.40l-4.15 -2.40v-4.79z" fill="#450b5e" stroke="#450b5e" stroke-width="0.4"/><path d="M860.0 1212.9m0 -4.79l4.15 2.40v4.79l-4.15 2.40l-4.15 -2.40v-4.79zM801.9 1356.6m0 -4.79l4.15 2.40v4.79l-4.15 2.40l-4.15 -2.40v-4.79z" fill="#471b6c" stroke="#471b6c" stroke-width="0.4"/><path d="M868.3 1212.9m0 -4.79l4.15 2.40v4.79l-4.15 2.40l-4.15 -2.40v-4.79zM901.5 1241.6m0 -4.79l4.15 2.40v4.79l-4.15 2.40l-4.15 -2.40v-4.79zM860.0 1327.9m0 -4.79l4.15 2.40v4.79l-4.15 2.40l-4.15 -2.40v-4.79zM843.4 1342.2m0 -4.79l4.15 2.40v4.79l-4.15 2.40l-4.15 -2.40v-4.79z" fill="#482071" stroke="#482071" stroke-width="0.4"/><path d="M876.6 1212.9m0 -4.79l4.15 2.40v4.79l-4.15 2.40l-4.15 -2.40v-4.79zM843.4 1227.2m0 -4.79l4.15 2.40v4.79l-4.15 2.40l-4.15 -2.40v-4.79zM818.5 1256.0m0 -4.79l4.15 2.40v4.79l-4.15 2.40l-4.15 -2.40v-4.79zM806.1 1277.5m0 -4.79l4.15 2.40v4.79l-4.15 2.40l-4.15 -2.40v-4.79zM793.6 1327.9m0 -4.79l4.15 2.40v4.79l-4.15 2.40l-4.15 -2.40v-4.79zM831.0 1349.4m0 -4.79l4.15 2.40v4.79l-4.15 2.40l-4.15 -2.40v-4.79z" fill="#482172" stroke="#482172" stroke-width="0.4"/><path d="M884.9 1212.9m0 -4.79l4.15 2.40v4.79l-4.15 2.40l-4.15 -2.40v-4.79z" fill="#471e70" stroke="#471e70" stroke-width="0.4"/><path d="M893.2 1212.9m0 -4.79l4.15 2.40v4.79l-4.15 2.40l-4.15 -2.40v-4.79zM831.0 1234.4m0 -4.79l4.15 2.40v4.79l-4.15 2.40l-4.15 -2.40v-4.79zM793.6 1299.1m0 -4.79l4.15 2.40v4.79l-4.15 2.40l-4.15 -2.40v-4.79zM826.8 1356.6m0 -4.79l4.15 2.40v4.79l-4.15 2.40l-4.15 -2.40v-4.79z" fill="#47196b" stroke="#47196b" stroke-width="0.4"/><path d="M831.0 1220.0m0 -4.79l4.15 2.40v4.79l-4.15 2.40l-4.15 -2.40v-4.79zM797.8 1263.2m0 -4.79l4.15 2.40v4.79l-4.15 2.40l-4.15 -2.40v-4.79zM777.0 1342.2m0 -4.79l4.15 2.40v4.79l-4.15 2.40l-4.15 -2.40v-4.79z" fill="#450d60" stroke="#450d60" stroke-width="0.4"/><path d="M847.6 1220.0m0 -4.79l4.15 2.40v4.79l-4.15 2.40l-4.15 -2.40v-4.79zM897.4 1277.5m0 -4.79l4.15 2.40v4.79l-4.15 2.40l-4.15 -2.40v-4.79zM839.3 1349.4m0 -4.79l4.15 2.40v4.79l-4.15 2.40l-4.15 -2.40v-4.79z" fill="#471a6c" stroke="#471a6c" stroke-width="0.4"/><path d="M855.9 1220.0m0 -4.79l4.15 2.40v4.79l-4.15 2.40l-4.15 -2.40v-4.79zM868.3 1313.5m0 -4.79l4.15 2.40v4.79l-4.15 2.40l-4.15 -2.40v-4.79zM847.6 1335.1m0 -4.79l4.15 2.40v4.79l-4.15 2.40l-4.15 -2.40v-4.79z" fill="#482676" stroke="#482676" stroke-width="0.4"/><path d="M864.2 1220.0m0 -4.79l4.15 2.40v4.79l-4.15 2.40l-4.15 -2.40v-4.79zM880.8 1220.0m0 -4.79l4.15 2.40v4.79l-4.15 2.40l-4.15 -2.40v-4.79zM801.9 1327.9m0 -4.79l4.15 2.40v4.79l-4.15 2.40l-4.15 -2.40v-4.79z" fill="#44347e" stroke="#44347e" stroke-width="0.4"/><path d="M872.5 1220.0m0 -4.79l4.15 2.40v4.79l-4.15 2.40l-4.15 -2.40v-4.79zM884.9 1270.4m0 -4.79l4.15 2.40v4.79l-4.15 2.40l-4.15 -2.40v-4.79zM843.4 1327.9m0 -4.79l4.15 2.40v4.79l-4.15 2.40l-4.15 -2.40v-4.79z" fill="#433b82" stroke="#433b82" stroke-width="0.4"/><path d="M889.1 1220.0m0 -4.79l4.15 2.40v4.79l-4.15 2.40l-4.15 -2.40v-4.79zM897.4 1234.4m0 -4.79l4.15 2.40v4.79l-4.15 2.40l-4.15 -2.40v-4.79zM889.1 1277.5m0 -4.79l4.15 2.40v4.79l-4.15 2.40l-4.15 -2.40v-4.79z" fill="#472777" stroke="#472777" stroke-width="0.4"/><path d="M897.4 1220.0m0 -4.79l4.15 2.40v4.79l-4.15 2.40l-4.15 -2.40v-4.79zM826.8 1241.6m0 -4.79l4.15 2.40v4.79l-4.15 2.40l-4.15 -2.40v-4.79zM893.2 1284.7m0 -4.79l4.15 2.40v4.79l-4.15 2.40l-4.15 -2.40v-4.79z" fill="#471c6d" stroke="#471c6d" stroke-width="0.4"/><path d="M851.8 1227.2m0 -4.79l4.15 2.40v4.79l-4.15 2.40l-4.15 -2.40v-4.79z" fill="#443780" stroke="#443780" stroke-width="0.4"/><path d="M860.0 1227.2m0 -4.79l4.15 2.40v4.79l-4.15 2.40l-4.15 -2.40v-4.79zM822.7 1277.5m0 -4.79l4.15 2.40v4.79l-4.15 2.40l-4.15 -2.40v-4.79zM839.3 1320.7m0 -4.79l4.15 2.40v4.79l-4.15 2.40l-4.15 -2.40v-4.79zM818.5 1327.9m0 -4.79l4.15 2.40v4.79l-4.15 2.40l-4.15 -2.40v-4.79zM826.8 1327.9m0 -4.79l4.15 2.40v4.79l-4.15 2.40l-4.15 -2.40v-4.79z" fill="#38598c" stroke="#38598c" stroke-width="0.4"/><path d="M868.3 1227.2m0 -4.79l4.15 2.40v4.79l-4.15 2.40l-4.15 -2.40v-4.79z" fill="#2c738e" stroke="#2c738e" stroke-width="0.4"/><path d="M876.6 1227.2m0 -4.79l4.15 2.40v4.79l-4.15 2.40l-4.15 -2.40v-4.79z" fill="#2f6c8e" stroke="#2f6c8e" stroke-width="0.4"/><path d="M884.9 1227.2m0 -4.79l4.15 2.40v4.79l-4.15 2.40l-4.15 -2.40v-4.79zM810.2 1299.1m0 -4.79l4.15 2.40v4.79l-4.15 2.40l-4.15 -2.40v-4.79zM851.8 1313.5m0 -4.79l4.15 2.40v4.79l-4.15 2.40l-4.15 -2.40v-4.79zM810.2 1327.9m0 -4.79l4.15 2.40v4.79l-4.15 2.40l-4.15 -2.40v-4.79z" fill="#3e4a88" stroke="#3e4a88" stroke-width="0.4"/><path d="M893.2 1227.2m0 -4.79l4.15 2.40v4.79l-4.15 2.40l-4.15 -2.40v-4.79zM801.9 1299.1m0 -4.79l4.15 2.40v4.79l-4.15 2.40l-4.15 -2.40v-4.79zM851.8 1327.9m0 -4.79l4.15 2.40v4.79l-4.15 2.40l-4.15 -2.40v-4.79z" fill="#462b79" stroke="#462b79" stroke-width="0.4"/><path d="M901.5 1227.2m0 -4.79l4.15 2.40v4.79l-4.15 2.40l-4.15 -2.40v-4.79zM876.6 1313.5m0 -4.79l4.15 2.40v4.79l-4.15 2.40l-4.15 -2.40v-4.79z" fill="#471b6d" stroke="#471b6d" stroke-width="0.4"/><path d="M909.8 1227.2m0 -4.79l4.15 2.40v4.79l-4.15 2.40l-4.15 -2.40v-4.79zM814.4 1248.8m0 -4.79l4.15 2.40v4.79l-4.15 2.40l-4.15 -2.40v-4.79z" fill="#461465" stroke="#461465" stroke-width="0.4"/><path d="M918.1 1227.2m0 -4.79l4.15 2.40v4.79l-4.15 2.40l-4.15 -2.40v-4.79zM918.1 1241.6m0 -4.79l4.15 2.40v4.79l-4.15 2.40l-4.15 -2.40v-4.79zM781.2 1306.3m0 -4.79l4.15 2.40v4.79l-4.15 2.40l-4.15 -2.40v-4.79zM777.0 1327.9m0 -4.79l4.15 2.40v4.79l-4.15 2.40l-4.15 -2.40v-4.79zM868.3 1342.2m0 -4.79l4.15 2.40v4.79l-4.15 2.40l-4.15 -2.40v-4.79zM851.8 1356.6m0 -4.79l4.15 2.40v4.79l-4.15 2.40l-4.15 -2.40v-4.79zM793.6 1371.0m0 -4.79l4.15 2.40v4.79l-4.15 2.40l-4.15 -2.40v-4.79zM826.8 1371.0m0 -4.79l4.15 2.40v4.79l-4.15 2.40l-4.15 -2.40v-4.79z" fill="#450e60" stroke="#450e60" stroke-width="0.4"/><path d="M951.3 1227.2m0 -4.79l4.15 2.40v4.79l-4.15 2.40l-4.15 -2.40v-4.79zM752.1 1299.1m0 -4.79l4.15 2.40v4.79l-4.15 2.40l-4.15 -2.40v-4.79zM743.8 1327.9m0 -4.79l4.15 2.40v4.79l-4.15 2.40l-4.15 -2.40v-4.79zM739.7 1349.4m0 -4.79l4.15 2.40v4.79l-4.15 2.40l-4.15 -2.40v-4.79zM843.4 1399.7m0 -4.79l4.15 2.40v4.79l-4.15 2.40l-4.15 -2.40v-4.79zM831.0 1406.9m0 -4.79l4.15 2.40v4.79l-4.15 2.40l-4.15 -2.40v-4.79z" fill="#440456" stroke="#440456" stroke-width="0.4"/><path d="M839.3 1234.4m0 -4.79l4.15 2.40v4.79l-4.15 2.40l-4.15 -2.40v-4.79zM884.9 1284.7m0 -4.79l4.15 2.40v4.79l-4.15 2.40l-4.15 -2.40v-4.79zM872.5 1306.3m0 -4.79l4.15 2.40v4.79l-4.15 2.40l-4.15 -2.40v-4.79zM797.8 1335.1m0 -4.79l4.15 2.40v4.79l-4.15 2.40l-4.15 -2.40v-4.79z" fill="#472877" stroke="#472877" stroke-width="0.4"/><path d="M847.6 1234.4m0 -4.79l4.15 2.40v4.79l-4.15 2.40l-4.15 -2.40v-4.79z" fill="#3f4988" stroke="#3f4988" stroke-width="0.4"/><path d="M855.9 1234.4m0 -4.79l4.15 2.40v4.79l-4.15 2.40l-4.15 -2.40v-4.79z" fill="#25878d" stroke="#25878d" stroke-width="0.4"/><path d="M864.2 1234.4m0 -4.79l4.15 2.40v4.79l-4.15 2.40l-4.15 -2.40v-4.79z" fill="#61c95f" stroke="#61c95f" stroke-width="0.4"/><path d="M872.5 1234.4m0 -4.79l4.15 2.40v4.79l-4.15 2.40l-4.15 -2.40v-4.79z" fill="#76d053" stroke="#76d053" stroke-width="0.4"/><path d="M880.8 1234.4m0 -4.79l4.15 2.40v4.79l-4.15 2.40l-4.15 -2.40v-4.79z" fill="#21958b" stroke="#21958b" stroke-width="0.4"/><path d="M889.1 1234.4m0 -4.79l4.15 2.40v4.79l-4.15 2.40l-4.15 -2.40v-4.79zM855.9 1306.3m0 -4.79l4.15 2.40v4.79l-4.15 2.40l-4.15 -2.40v-4.79z" fill="#3d4e89" stroke="#3d4e89" stroke-width="0.4"/><path d="M905.7 1234.4m0 -4.79l4.15 2.40v4.79l-4.15 2.40l-4.15 -2.40v-4.79zM905.7 1248.8m0 -4.79l4.15 2.40v4.79l-4.15 2.40l-4.15 -2.40v-4.79z" fill="#47196a" stroke="#47196a" stroke-width="0.4"/><path d="M818.5 1241.6m0 -4.79l4.15 2.40v4.79l-4.15 2.40l-4.15 -2.40v-4.79zM901.5 1284.7m0 -4.79l4.15 2.40v4.79l-4.15 2.40l-4.15 -2.40v-4.79zM880.8 1320.7m0 -4.79l4.15 2.40v4.79l-4.15 2.40l-4.15 -2.40v-4.79z" fill="#461264" stroke="#461264" stroke-width="0.4"/><path d="M835.1 1241.6m0 -4.79l4.15 2.40v4.79l-4.15 2.40l-4.15 -2.40v-4.79z" fill="#462d7a" stroke="#462d7a" stroke-width="0.4"/><path d="M843.4 1241.6m0 -4.79l4.15 2.40v4.79l-4.15 2.40l-4.15 -2.40v-4.79zM814.4 1291.9m0 -4.79l4.15 2.40v4.79l-4.15 2.40l-4.15 -2.40v-4.79z" fill="#3b528a" stroke="#3b528a" stroke-width="0.4"/><path d="M851.8 1241.6m0 -4.79l4.15 2.40v4.79l-4.15 2.40l-4.15 -2.40v-4.79zM847.6 1277.5m0 -4.79l4.15 2.40v4.79l-4.15 2.40l-4.15 -2.40v-4.79z" fill="#22a685" stroke="#22a685" stroke-width="0.4"/><path d="M860.0 1241.6m0 -4.79l4.15 2.40v4.79l-4.15 2.40l-4.15 -2.40v-4.79zM868.3 1241.6m0 -4.79l4.15 2.40v4.79l-4.15 2.40l-4.15 -2.40v-4.79zM876.6 1241.6m0 -4.79l4.15 2.40v4.79l-4.15 2.40l-4.15 -2.40v-4.79zM855.9 1248.8m0 -4.79l4.15 2.40v4.79l-4.15 2.40l-4.15 -2.40v-4.79zM864.2 1248.8m0 -4.79l4.15 2.40v4.79l-4.15 2.40l-4.15 -2.40v-4.79zM872.5 1248.8m0 -4.79l4.15 2.40v4.79l-4.15 2.40l-4.15 -2.40v-4.79zM860.0 1256.0m0 -4.79l4.15 2.40v4.79l-4.15 2.40l-4.15 -2.40v-4.79zM868.3 1256.0m0 -4.79l4.15 2.40v4.79l-4.15 2.40l-4.15 -2.40v-4.79zM855.9 1263.2m0 -4.79l4.15 2.40v4.79l-4.15 2.40l-4.15 -2.40v-4.79zM864.2 1263.2m0 -4.79l4.15 2.40v4.79l-4.15 2.40l-4.15 -2.40v-4.79z" fill="#fde725" stroke="#fde725" stroke-width="0.4"/><path d="M884.9 1241.6m0 -4.79l4.15 2.40v4.79l-4.15 2.40l-4.15 -2.40v-4.79z" fill="#238a8d" stroke="#238a8d" stroke-width="0.4"/><path d="M893.2 1241.6m0 -4.79l4.15 2.40v4.79l-4.15 2.40l-4.15 -2.40v-4.79z" fill="#423e83" stroke="#423e83" stroke-width="0.4"/><path d="M822.7 1248.8m0 -4.79l4.15 2.40v4.79l-4.15 2.40l-4.15 -2.40v-4.79zM801.9 1284.7m0 -4.79l4.15 2.40v4.79l-4.15 2.40l-4.15 -2.40v-4.79zM793.6 1313.5m0 -4.79l4.15 2.40v4.79l-4.15 2.40l-4.15 -2.40v-4.79z" fill="#471f70" stroke="#471f70" stroke-width="0.4"/><path d="M831.0 1248.8m0 -4.79l4.15 2.40v4.79l-4.15 2.40l-4.15 -2.40v-4.79zM806.1 1291.9m0 -4.79l4.15 2.40v4.79l-4.15 2.40l-4.15 -2.40v-4.79z" fill="#45317c" stroke="#45317c" stroke-width="0.4"/><path d="M839.3 1248.8m0 -4.79l4.15 2.40v4.79l-4.15 2.40l-4.15 -2.40v-4.79z" fill="#3a548b" stroke="#3a548b" stroke-width="0.4"/><path d="M847.6 1248.8m0 -4.79l4.15 2.40v4.79l-4.15 2.40l-4.15 -2.40v-4.79z" fill="#22a585" stroke="#22a585" stroke-width="0.4"/><path d="M880.8 1248.8m0 -4.79l4.15 2.40v4.79l-4.15 2.40l-4.15 -2.40v-4.79z" fill="#6acc5a" stroke="#6acc5a" stroke-width="0.4"/><path d="M889.1 1248.8m0 -4.79l4.15 2.40v4.79l-4.15 2.40l-4.15 -2.40v-4.79z" fill="#375b8c" stroke="#375b8c" stroke-width="0.4"/><path d="M897.4 1248.8m0 -4.79l4.15 2.40v4.79l-4.15 2.40l-4.15 -2.40v-4.79zM880.8 1291.9m0 -4.79l4.15 2.40v4.79l-4.15 2.40l-4.15 -2.40v-4.79zM876.6 1299.1m0 -4.79l4.15 2.40v4.79l-4.15 2.40l-4.15 -2.40v-4.79zM801.9 1342.2m0 -4.79l4.15 2.40v4.79l-4.15 2.40l-4.15 -2.40v-4.79zM835.1 1342.2m0 -4.79l4.15 2.40v4.79l-4.15 2.40l-4.15 -2.40v-4.79zM814.4 1349.4m0 -4.79l4.15 2.40v4.79l-4.15 2.40l-4.15 -2.40v-4.79z" fill="#472978" stroke="#472978" stroke-width="0.4"/><path d="M826.8 1256.0m0 -4.79l4.15 2.40v4.79l-4.15 2.40l-4.15 -2.40v-4.79zM893.2 1256.0m0 -4.79l4.15 2.40v4.79l-4.15 2.40l-4.15 -2.40v-4.79z" fill="#45347e" stroke="#45347e" stroke-width="0.4"/><path d="M835.1 1256.0m0 -4.79l4.15 2.40v4.79l-4.15 2.40l-4.15 -2.40v-4.79zM810.2 1313.5m0 -4.79l4.15 2.40v4.79l-4.15 2.40l-4.15 -2.40v-4.79z" fill="#3a548a" stroke="#3a548a" stroke-width="0.4"/><path d="M843.4 1256.0m0 -4.79l4.15 2.40v4.79l-4.15 2.40l-4.15 -2.40v-4.79zM851.8 1284.7m0 -4.79l4.15 2.40v4.79l-4.15 2.40l-4.15 -2.40v-4.79z" fill="#21908c" stroke="#21908c" stroke-width="0.4"/><path d="M851.8 1256.0m0 -4.79l4.15 2.40v4.79l-4.15 2.40l-4.15 -2.40v-4.79z" fill="#f9e625" stroke="#f9e625" stroke-width="0.4"/><path d="M876.6 1256.0m0 -4.79l4.15 2.40v4.79l-4.15 2.40l-4.15 -2.40v-4.79z" fill="#c9e026" stroke="#c9e026" stroke-width="0.4"/><path d="M884.9 1256.0m0 -4.79l4.15 2.40v4.79l-4.15 2.40l-4.15 -2.40v-4.79zM818.5 1313.5m0 -4.79l4.15 2.40v4.79l-4.15 2.40l-4.15 -2.40v-4.79z" fill="#2d728e" stroke="#2d728e" stroke-width="0.4"/><path d="M901.5 1256.0m0 -4.79l4.15 2.40v4.79l-4.15 2.40l-4.15 -2.40v-4.79zM793.6 1342.2m0 -4.79l4.15 2.40v4.79l-4.15 2.40l-4.15 -2.40v-4.79zM810.2 1356.6m0 -4.79l4.15 2.40v4.79l-4.15 2.40l-4.15 -2.40v-4.79z" fill="#471d6f" stroke="#471d6f" stroke-width="0.4"/><path d="M814.4 1263.2m0 -4.79l4.15 2.40v4.79l-4.15 2.40l-4.15 -2.40v-4.79zM810.2 1270.4m0 -4.79l4.15 2.40v4.79l-4.15 2.40l-4.15 -2.40v-4.79z" fill="#482273" stroke="#482273" stroke-width="0.4"/><path d="M822.7 1263.2m0 -4.79l4.15 2.40v4.79l-4.15 2.40l-4.15 -2.40v-4.79zM818.5 1342.2m0 -4.79l4.15 2.40v4.79l-4.15 2.40l-4.15 -2.40v-4.79z" fill="#44377f" stroke="#44377f" stroke-width="0.4"/><path d="M831.0 1263.2m0 -4.79l4.15 2.40v4.79l-4.15 2.40l-4.15 -2.40v-4.79z" fill="#39558b" stroke="#39558b" stroke-width="0.4"/><path d="M839.3 1263.2m0 -4.79l4.15 2.40v4.79l-4.15 2.40l-4.15 -2.40v-4.79z" fill="#27808d" stroke="#27808d" stroke-width="0.4"/><path d="M847.6 1263.2m0 -4.79l4.15 2.40v4.79l-4.15 2.40l-4.15 -2.40v-4.79z" fill="#4bc16c" stroke="#4bc16c" stroke-width="0.4"/><path d="M872.5 1263.2m0 -4.79l4.15 2.40v4.79l-4.15 2.40l-4.15 -2.40v-4.79z" fill="#7ed24e" stroke="#7ed24e" stroke-width="0.4"/><path d="M880.8 1263.2m0 -4.79l4.15 2.40v4.79l-4.15 2.40l-4.15 -2.40v-4.79z" fill="#2b758e" stroke="#2b758e" stroke-width="0.4"/><path d="M889.1 1263.2m0 -4.79l4.15 2.40v4.79l-4.15 2.40l-4.15 -2.40v-4.79z" fill="#433a82" stroke="#433a82" stroke-width="0.4"/><path d="M897.4 1263.2m0 -4.79l4.15 2.40v4.79l-4.15 2.40l-4.15 -2.40v-4.79z" fill="#482173" stroke="#482173" stroke-width="0.4"/><path d="M760.4 1270.4m0 -4.79l4.15 2.40v4.79l-4.15 2.40l-4.15 -2.40v-4.79zM756.3 1277.5m0 -4.79l4.15 2.40v4.79l-4.15 2.40l-4.15 -2.40v-4.79zM752.1 1284.7m0 -4.79l4.15 2.40v4.79l-4.15 2.40l-4.15 -2.40v-4.79zM748.0 1291.9m0 -4.79l4.15 2.40v4.79l-4.15 2.40l-4.15 -2.40v-4.79zM743.8 1299.1m0 -4.79l4.15 2.40v4.79l-4.15 2.40l-4.15 -2.40v-4.79zM748.0 1306.3m0 -4.79l4.15 2.40v4.79l-4.15 2.40l-4.15 -2.40v-4.79zM743.8 1313.5m0 -4.79l4.15 2.40v4.79l-4.15 2.40l-4.15 -2.40v-4.79zM739.7 1320.7m0 -4.79l4.15 2.40v4.79l-4.15 2.40l-4.15 -2.40v-4.79zM735.5 1327.9m0 -4.79l4.15 2.40v4.79l-4.15 2.40l-4.15 -2.40v-4.79zM739.7 1335.1m0 -4.79l4.15 2.40v4.79l-4.15 2.40l-4.15 -2.40v-4.79zM735.5 1342.2m0 -4.79l4.15 2.40v4.79l-4.15 2.40l-4.15 -2.40v-4.79z" fill="#440356" stroke="#440356" stroke-width="0.4"/><path d="M801.9 1270.4m0 -4.79l4.15 2.40v4.79l-4.15 2.40l-4.15 -2.40v-4.79z" fill="#461566" stroke="#461566" stroke-width="0.4"/><path d="M818.5 1270.4m0 -4.79l4.15 2.40v4.79l-4.15 2.40l-4.15 -2.40v-4.79zM814.4 1277.5m0 -4.79l4.15 2.40v4.79l-4.15 2.40l-4.15 -2.40v-4.79zM864.2 1306.3m0 -4.79l4.15 2.40v4.79l-4.15 2.40l-4.15 -2.40v-4.79zM806.1 1335.1m0 -4.79l4.15 2.40v4.79l-4.15 2.40l-4.15 -2.40v-4.79z" fill="#443880" stroke="#443880" stroke-width="0.4"/><path d="M826.8 1270.4m0 -4.79l4.15 2.40v4.79l-4.15 2.40l-4.15 -2.40v-4.79zM872.5 1277.5m0 -4.79l4.15 2.40v4.79l-4.15 2.40l-4.15 -2.40v-4.79z" fill="#38588b" stroke="#38588b" stroke-width="0.4"/><path d="M835.1 1270.4m0 -4.79l4.15 2.40v4.79l-4.15 2.40l-4.15 -2.40v-4.79z" fill="#287d8e" stroke="#287d8e" stroke-width="0.4"/><path d="M843.4 1270.4m0 -4.79l4.15 2.40v4.79l-4.15 2.40l-4.15 -2.40v-4.79zM868.3 1270.4m0 -4.79l4.15 2.40v4.79l-4.15 2.40l-4.15 -2.40v-4.79z" fill="#22a286" stroke="#22a286" stroke-width="0.4"/><path d="M851.8 1270.4m0 -4.79l4.15 2.40v4.79l-4.15 2.40l-4.15 -2.40v-4.79z" fill="#4ac16c" stroke="#4ac16c" stroke-width="0.4"/><path d="M860.0 1270.4m0 -4.79l4.15 2.40v4.79l-4.15 2.40l-4.15 -2.40v-4.79z" fill="#5bc763" stroke="#5bc763" stroke-width="0.4"/><path d="M876.6 1270.4m0 -4.79l4.15 2.40v4.79l-4.15 2.40l-4.15 -2.40v-4.79z" fill="#32678d" stroke="#32678d" stroke-width="0.4"/><path d="M893.2 1270.4m0 -4.79l4.15 2.40v4.79l-4.15 2.40l-4.15 -2.40v-4.79z" fill="#482575" stroke="#482575" stroke-width="0.4"/><path d="M901.5 1270.4m0 -4.79l4.15 2.40v4.79l-4.15 2.40l-4.15 -2.40v-4.79zM851.8 1342.2m0 -4.79l4.15 2.40v4.79l-4.15 2.40l-4.15 -2.40v-4.79z" fill="#47186a" stroke="#47186a" stroke-width="0.4"/><path d="M748.0 1277.5m0 -4.79l4.15 2.40v4.79l-4.15 2.40l-4.15 -2.40v-4.79zM743.8 1284.7m0 -4.79l4.15 2.40v4.79l-4.15 2.40l-4.15 -2.40v-4.79zM739.7 1291.9m0 -4.79l4.15 2.40v4.79l-4.15 2.40l-4.15 -2.40v-4.79zM735.5 1299.1m0 -4.79l4.15 2.40v4.79l-4.15 2.40l-4.15 -2.40v-4.79zM735.5 1313.5m0 -4.79l4.15 2.40v4.79l-4.15 2.40l-4.15 -2.40v-4.79zM731.4 1320.7m0 -4.79l4.15 2.40v4.79l-4.15 2.40l-4.15 -2.40v-4.79z" fill="#440255" stroke="#440255" stroke-width="0.4"/><path d="M831.0 1277.5m0 -4.79l4.15 2.40v4.79l-4.15 2.40l-4.15 -2.40v-4.79zM826.8 1284.7m0 -4.79l4.15 2.40v4.79l-4.15 2.40l-4.15 -2.40v-4.79z" fill="#277f8d" stroke="#277f8d" stroke-width="0.4"/><path d="M839.3 1277.5m0 -4.79l4.15 2.40v4.79l-4.15 2.40l-4.15 -2.40v-4.79zM831.0 1291.9m0 -4.79l4.15 2.40v4.79l-4.15 2.40l-4.15 -2.40v-4.79z" fill="#219c88" stroke="#219c88" stroke-width="0.4"/><path d="M855.9 1277.5m0 -4.79l4.15 2.40v4.79l-4.15 2.40l-4.15 -2.40v-4.79z" fill="#219a89" stroke="#219a89" stroke-width="0.4"/><path d="M864.2 1277.5m0 -4.79l4.15 2.40v4.79l-4.15 2.40l-4.15 -2.40v-4.79z" fill="#297c8e" stroke="#297c8e" stroke-width="0.4"/><path d="M880.8 1277.5m0 -4.79l4.15 2.40v4.79l-4.15 2.40l-4.15 -2.40v-4.79z" fill="#433a81" stroke="#433a81" stroke-width="0.4"/><path d="M810.2 1284.7m0 -4.79l4.15 2.40v4.79l-4.15 2.40l-4.15 -2.40v-4.79z" fill="#44357f" stroke="#44357f" stroke-width="0.4"/><path d="M818.5 1284.7m0 -4.79l4.15 2.40v4.79l-4.15 2.40l-4.15 -2.40v-4.79z" fill="#38578b" stroke="#38578b" stroke-width="0.4"/><path d="M835.1 1284.7m0 -4.79l4.15 2.40v4.79l-4.15 2.40l-4.15 -2.40v-4.79z" fill="#229e87" stroke="#229e87" stroke-width="0.4"/><path d="M843.4 1284.7m0 -4.79l4.15 2.40v4.79l-4.15 2.40l-4.15 -2.40v-4.79z" fill="#22a486" stroke="#22a486" stroke-width="0.4"/><path d="M860.0 1284.7m0 -4.79l4.15 2.40v4.79l-4.15 2.40l-4.15 -2.40v-4.79zM855.9 1291.9m0 -4.79l4.15 2.40v4.79l-4.15 2.40l-4.15 -2.40v-4.79z" fill="#2e6f8e" stroke="#2e6f8e" stroke-width="0.4"/><path d="M868.3 1284.7m0 -4.79l4.15 2.40v4.79l-4.15 2.40l-4.15 -2.40v-4.79z" fill="#3b518a" stroke="#3b518a" stroke-width="0.4"/><path d="M876.6 1284.7m0 -4.79l4.15 2.40v4.79l-4.15 2.40l-4.15 -2.40v-4.79zM872.5 1291.9m0 -4.79l4.15 2.40v4.79l-4.15 2.40l-4.15 -2.40v-4.79zM868.3 1299.1m0 -4.79l4.15 2.40v4.79l-4.15 2.40l-4.15 -2.40v-4.79z" fill="#433981" stroke="#433981" stroke-width="0.4"/><path d="M797.8 1291.9m0 -4.79l4.15 2.40v4.79l-4.15 2.40l-4.15 -2.40v-4.79zM889.1 1291.9m0 -4.79l4.15 2.40v4.79l-4.15 2.40l-4.15 -2.40v-4.79zM880.8 1306.3m0 -4.79l4.15 2.40v4.79l-4.15 2.40l-4.15 -2.40v-4.79zM855.9 1335.1m0 -4.79l4.15 2.40v4.79l-4.15 2.40l-4.15 -2.40v-4.79z" fill="#471c6e" stroke="#471c6e" stroke-width="0.4"/><path d="M822.7 1291.9m0 -4.79l4.15 2.40v4.79l-4.15 2.40l-4.15 -2.40v-4.79z" fill="#297a8e" stroke="#297a8e" stroke-width="0.4"/><path d="M839.3 1291.9m0 -4.79l4.15 2.40v4.79l-4.15 2.40l-4.15 -2.40v-4.79z" fill="#22a485" stroke="#22a485" stroke-width="0.4"/><path d="M847.6 1291.9m0 -4.79l4.15 2.40v4.79l-4.15 2.40l-4.15 -2.40v-4.79z" fill="#21918c" stroke="#21918c" stroke-width="0.4"/><path d="M864.2 1291.9m0 -4.79l4.15 2.40v4.79l-4.15 2.40l-4.15 -2.40v-4.79zM860.0 1299.1m0 -4.79l4.15 2.40v4.79l-4.15 2.40l-4.15 -2.40v-4.79z" fill="#3c508a" stroke="#3c508a" stroke-width="0.4"/><path d="M818.5 1299.1m0 -4.79l4.15 2.40v4.79l-4.15 2.40l-4.15 -2.40v-4.79z" fill="#2d708e" stroke="#2d708e" stroke-width="0.4"/><path d="M826.8 1299.1m0 -4.79l4.15 2.40v4.79l-4.15 2.40l-4.15 -2.40v-4.79zM831.0 1306.3m0 -4.79l4.15 2.40v4.79l-4.15 2.40l-4.15 -2.40v-4.79z" fill="#21948b" stroke="#21948b" stroke-width="0.4"/><path d="M835.1 1299.1m0 -4.79l4.15 2.40v4.79l-4.15 2.40l-4.15 -2.40v-4.79z" fill="#229f87" stroke="#229f87" stroke-width="0.4"/><path d="M843.4 1299.1m0 -4.79l4.15 2.40v4.79l-4.15 2.40l-4.15 -2.40v-4.79z" fill="#228f8c" stroke="#228f8c" stroke-width="0.4"/><path d="M851.8 1299.1m0 -4.79l4.15 2.40v4.79l-4.15 2.40l-4.15 -2.40v-4.79z" fill="#2e6e8e" stroke="#2e6e8e" stroke-width="0.4"/><path d="M884.9 1299.1m0 -4.79l4.15 2.40v4.79l-4.15 2.40l-4.15 -2.40v-4.79zM818.5 1356.6m0 -4.79l4.15 2.40v4.79l-4.15 2.40l-4.15 -2.40v-4.79z" fill="#471d6e" stroke="#471d6e" stroke-width="0.4"/><path d="M739.7 1306.3m0 -4.79l4.15 2.40v4.79l-4.15 2.40l-4.15 -2.40v-4.79z" fill="#440355" stroke="#440355" stroke-width="0.4"/><path d="M797.8 1306.3m0 -4.79l4.15 2.40v4.79l-4.15 2.40l-4.15 -2.40v-4.79zM806.1 1349.4m0 -4.79l4.15 2.40v4.79l-4.15 2.40l-4.15 -2.40v-4.79z" fill="#482576" stroke="#482576" stroke-width="0.4"/><path d="M806.1 1306.3m0 -4.79l4.15 2.40v4.79l-4.15 2.40l-4.15 -2.40v-4.79z" fill="#424085" stroke="#424085" stroke-width="0.4"/><path d="M814.4 1306.3m0 -4.79l4.15 2.40v4.79l-4.15 2.40l-4.15 -2.40v-4.79z" fill="#33638d" stroke="#33638d" stroke-width="0.4"/><path d="M822.7 1306.3m0 -4.79l4.15 2.40v4.79l-4.15 2.40l-4.15 -2.40v-4.79z" fill="#25858d" stroke="#25858d" stroke-width="0.4"/><path d="M839.3 1306.3m0 -4.79l4.15 2.40v4.79l-4.15 2.40l-4.15 -2.40v-4.79z" fill="#24888d" stroke="#24888d" stroke-width="0.4"/><path d="M847.6 1306.3m0 -4.79l4.15 2.40v4.79l-4.15 2.40l-4.15 -2.40v-4.79zM831.0 1320.7m0 -4.79l4.15 2.40v4.79l-4.15 2.40l-4.15 -2.40v-4.79z" fill="#306b8d" stroke="#306b8d" stroke-width="0.4"/><path d="M801.9 1313.5m0 -4.79l4.15 2.40v4.79l-4.15 2.40l-4.15 -2.40v-4.79zM860.0 1313.5m0 -4.79l4.15 2.40v4.79l-4.15 2.40l-4.15 -2.40v-4.79z" fill="#44357e" stroke="#44357e" stroke-width="0.4"/><path d="M826.8 1313.5m0 -4.79l4.15 2.40v4.79l-4.15 2.40l-4.15 -2.40v-4.79z" fill="#26828d" stroke="#26828d" stroke-width="0.4"/><path d="M835.1 1313.5m0 -4.79l4.15 2.40v4.79l-4.15 2.40l-4.15 -2.40v-4.79z" fill="#297b8e" stroke="#297b8e" stroke-width="0.4"/><path d="M843.4 1313.5m0 -4.79l4.15 2.40v4.79l-4.15 2.40l-4.15 -2.40v-4.79z" fill="#33648d" stroke="#33648d" stroke-width="0.4"/><path d="M789.5 1320.7m0 -4.79l4.15 2.40v4.79l-4.15 2.40l-4.15 -2.40v-4.79zM872.5 1320.7m0 -4.79l4.15 2.40v4.79l-4.15 2.40l-4.15 -2.40v-4.79zM789.5 1335.1m0 -4.79l4.15 2.40v4.79l-4.15 2.40l-4.15 -2.40v-4.79z" fill="#471a6b" stroke="#471a6b" stroke-width="0.4"/><path d="M797.8 1320.7m0 -4.79l4.15 2.40v4.79l-4.15 2.40l-4.15 -2.40v-4.79z" fill="#472a79" stroke="#472a79" stroke-width="0.4"/><path d="M806.1 1320.7m0 -4.79l4.15 2.40v4.79l-4.15 2.40l-4.15 -2.40v-4.79zM847.6 1320.7m0 -4.79l4.15 2.40v4.79l-4.15 2.40l-4.15 -2.40v-4.79z" fill="#414487" stroke="#414487" stroke-width="0.4"/><path d="M814.4 1320.7m0 -4.79l4.15 2.40v4.79l-4.15 2.40l-4.15 -2.40v-4.79z" fill="#355e8d" stroke="#355e8d" stroke-width="0.4"/><path d="M822.7 1320.7m0 -4.79l4.15 2.40v4.79l-4.15 2.40l-4.15 -2.40v-4.79z" fill="#2f6e8e" stroke="#2f6e8e" stroke-width="0.4"/><path d="M855.9 1320.7m0 -4.79l4.15 2.40v4.79l-4.15 2.40l-4.15 -2.40v-4.79z" fill="#45307c" stroke="#45307c" stroke-width="0.4"/><path d="M864.2 1320.7m0 -4.79l4.15 2.40v4.79l-4.15 2.40l-4.15 -2.40v-4.79z" fill="#482475" stroke="#482475" stroke-width="0.4"/><path d="M835.1 1327.9m0 -4.79l4.15 2.40v4.79l-4.15 2.40l-4.15 -2.40v-4.79z" fill="#3d4d89" stroke="#3d4d89" stroke-width="0.4"/><path d="M868.3 1327.9m0 -4.79l4.15 2.40v4.79l-4.15 2.40l-4.15 -2.40v-4.79z" fill="#471769" stroke="#471769" stroke-width="0.4"/><path d="M814.4 1335.1m0 -4.79l4.15 2.40v4.79l-4.15 2.40l-4.15 -2.40v-4.79z" fill="#404687" stroke="#404687" stroke-width="0.4"/><path d="M822.7 1335.1m0 -4.79l4.15 2.40v4.79l-4.15 2.40l-4.15 -2.40v-4.79z" fill="#3f4888" stroke="#3f4888" stroke-width="0.4"/><path d="M831.0 1335.1m0 -4.79l4.15 2.40v4.79l-4.15 2.40l-4.15 -2.40v-4.79z" fill="#423f84" stroke="#423f84" stroke-width="0.4"/><path d="M839.3 1335.1m0 -4.79l4.15 2.40v4.79l-4.15 2.40l-4.15 -2.40v-4.79zM826.8 1342.2m0 -4.79l4.15 2.40v4.79l-4.15 2.40l-4.15 -2.40v-4.79z" fill="#45327d" stroke="#45327d" stroke-width="0.4"/><path d="M810.2 1342.2m0 -4.79l4.15 2.40v4.79l-4.15 2.40l-4.15 -2.40v-4.79z" fill="#45337e" stroke="#45337e" stroke-width="0.4"/><path d="M789.5 1349.4m0 -4.79l4.15 2.40v4.79l-4.15 2.40l-4.15 -2.40v-4.79z" fill="#461667" stroke="#461667" stroke-width="0.4"/><path d="M797.8 1349.4m0 -4.79l4.15 2.40v4.79l-4.15 2.40l-4.15 -2.40v-4.79z" fill="#471e6f" stroke="#471e6f" stroke-width="0.4"/><path d="M822.7 1349.4m0 -4.79l4.15 2.40v4.79l-4.15 2.40l-4.15 -2.40v-4.79z" fill="#472676" stroke="#472676" stroke-width="0.4"/><path d="M839.3 1363.8m0 -4.79l4.15 2.40v4.79l-4.15 2.40l-4.15 -2.40v-4.79z" fill="#460e60" stroke="#460e60" stroke-width="0.4"/><path d="M623.5 1306.3m0 -4.79l4.15 2.40v4.79l-4.15 2.40l-4.15 -2.40v-4.79zM635.9 1313.5m0 -4.79l4.15 2.40v4.79l-4.15 2.40l-4.15 -2.40v-4.79zM685.8 1313.5m0 -4.79l4.15 2.40v4.79l-4.15 2.40l-4.15 -2.40v-4.79zM706.5 1291.9m0 -4.79l4.15 2.40v4.79l-4.15 2.40l-4.15 -2.40v-4.79zM718.9 1299.1m0 -4.79l4.15 2.40v4.79l-4.15 2.40l-4.15 -2.40v-4.79zM710.6 1327.9m0 -4.79l4.15 2.40v4.79l-4.15 2.40l-4.15 -2.40v-4.79zM789.5 1220.0m0 -4.79l4.15 2.40v4.79l-4.15 2.40l-4.15 -2.40v-4.79zM752.1 1399.7m0 -4.79l4.15 2.40v4.79l-4.15 2.40l-4.15 -2.40v-4.79zM760.4 1428.5m0 -4.79l4.15 2.40v4.79l-4.15 2.40l-4.15 -2.40v-4.79zM772.9 1421.3m0 -4.79l4.15 2.40v4.79l-4.15 2.40l-4.15 -2.40v-4.79zM781.2 1421.3m0 -4.79l4.15 2.40v4.79l-4.15 2.40l-4.15 -2.40v-4.79zM789.5 1450.1m0 -4.79l4.15 2.40v4.79l-4.15 2.40l-4.15 -2.40v-4.79zM810.2 1442.9m0 -4.79l4.15 2.40v4.79l-4.15 2.40l-4.15 -2.40v-4.79zM822.7 1450.1m0 -4.79l4.15 2.40v4.79l-4.15 2.40l-4.15 -2.40v-4.79zM826.8 1428.5m0 -4.79l4.15 2.40v4.79l-4.15 2.40l-4.15 -2.40v-4.79zM847.6 1421.3m0 -4.79l4.15 2.40v4.79l-4.15 2.40l-4.15 -2.40v-4.79zM847.6 1450.1m0 -4.79l4.15 2.40v4.79l-4.15 2.40l-4.15 -2.40v-4.79zM855.9 1435.7m0 -4.79l4.15 2.40v4.79l-4.15 2.40l-4.15 -2.40v-4.79zM864.2 1406.9m0 -4.79l4.15 2.40v4.79l-4.15 2.40l-4.15 -2.40v-4.79zM872.5 1435.7m0 -4.79l4.15 2.40v4.79l-4.15 2.40l-4.15 -2.40v-4.79zM839.3 1464.4m0 -4.79l4.15 2.40v4.79l-4.15 2.40l-4.15 -2.40v-4.79zM943.0 1169.7m0 -4.79l4.15 2.40v4.79l-4.15 2.40l-4.15 -2.40v-4.79zM951.3 1169.7m0 -4.79l4.15 2.40v4.79l-4.15 2.40l-4.15 -2.40v-4.79zM963.8 1205.7m0 -4.79l4.15 2.40v4.79l-4.15 2.40l-4.15 -2.40v-4.79zM976.2 1184.1m0 -4.79l4.15 2.40v4.79l-4.15 2.40l-4.15 -2.40v-4.79zM972.1 1234.4m0 -4.79l4.15 2.40v4.79l-4.15 2.40l-4.15 -2.40v-4.79zM955.5 1248.8m0 -4.79l4.15 2.40v4.79l-4.15 2.40l-4.15 -2.40v-4.79zM943.0 1284.7m0 -4.79l4.15 2.40v4.79l-4.15 2.40l-4.15 -2.40v-4.79zM926.4 1299.1m0 -4.79l4.15 2.40v4.79l-4.15 2.40l-4.15 -2.40v-4.79zM801.9 1514.8m0 -4.79l4.15 2.40v4.79l-4.15 2.40l-4.15 -2.40v-4.79zM781.2 1536.3m0 -4.79l4.15 2.40v4.79l-4.15 2.40l-4.15 -2.40v-4.79z" fill="#440154" stroke="#440154" stroke-width="0.4"/>
<path d="M128.4 1716H67.2V2124.8H91.4" stroke="#000" stroke-width="2.6" fill="none"/><path d="M125 1921.6H91.4V2328.4H110.6" stroke="#000" stroke-width="2.6" fill="none"/><path d="M125.6 2220H110.6V2436.8H119.3" stroke="#000" stroke-width="2.6" fill="none"/><path d="M128 2383H119.3V2490.8H128" stroke="#000" stroke-width="2.6" fill="none"/><path d="M125 1826V2030" stroke="#000" stroke-width="2.6" fill="none"/><path d="M131.5 1691.1V1742.6" stroke="#000" stroke-width="4" stroke-linecap="round"/><path d="M131.5 1751.0V2122.3" stroke="#000" stroke-width="4" stroke-linecap="round"/><path d="M131.5 2130.2V2346.8" stroke="#000" stroke-width="4" stroke-linecap="round"/><path d="M131.5 2355.9V2441.5" stroke="#000" stroke-width="4" stroke-linecap="round"/><path d="M131.5 2451.0V2549.8" stroke="#000" stroke-width="4" stroke-linecap="round"/><path d="M129.5 1700V1735" stroke="#000" stroke-width="2.4"/><path d="M128.5 1760V1800" stroke="#000" stroke-width="2.4"/><path d="M128 1840V1900" stroke="#000" stroke-width="2.4"/><path d="M128.5 1950V2010" stroke="#000" stroke-width="2.4"/><path d="M128 2040V2080" stroke="#000" stroke-width="2.4"/><path d="M129 2150V2200" stroke="#000" stroke-width="2.4"/><path d="M128.5 2260V2300" stroke="#000" stroke-width="2.4"/><path d="M129 2370V2420" stroke="#000" stroke-width="2.4"/><path d="M128.5 2460V2500" stroke="#000" stroke-width="2.4"/><path d="M129.5 2510V2540" stroke="#000" stroke-width="2.4"/>
<text x="51.4" y="2233.5" font-size="38.1" text-anchor="start" fill="#1a1a1a" transform="rotate(-90 51.4 2233.5)">genomic region</text>
<text x="40" y="2686" font-size="30" fill="#1a1a1a" transform="rotate(-90 40 2686)">log<tspan font-size="17.4" dy="10.2">2</tspan><tspan dy="-10.2">(fold-change)</tspan></text>
<text x="195.6" y="2561.5" font-size="29.3" text-anchor="end" fill="#1a1a1a" transform="rotate(-90 195.6 2561.5)">5 min</text>
<text x="304.8" y="2561.5" font-size="29.3" text-anchor="end" fill="#1a1a1a" transform="rotate(-90 304.8 2561.5)">10 min</text>
<text x="415.6" y="2561.5" font-size="29.3" text-anchor="end" fill="#1a1a1a" transform="rotate(-90 415.6 2561.5)">30 min</text>
<text x="524.8" y="2561.5" font-size="29.3" text-anchor="end" fill="#1a1a1a" transform="rotate(-90 524.8 2561.5)">1 h</text>
<text x="635.6" y="2561.5" font-size="29.3" text-anchor="end" fill="#1a1a1a" transform="rotate(-90 635.6 2561.5)">6 h</text>
<text x="744.8" y="2561.5" font-size="29.3" text-anchor="end" fill="#1a1a1a" transform="rotate(-90 744.8 2561.5)">24 h</text>
<text x="868.0" y="2561.5" font-size="29.3" text-anchor="end" fill="#1a1a1a" transform="rotate(-90 868.0 2561.5)">6 h</text>
<text x="977.9" y="2561.5" font-size="29.3" text-anchor="end" fill="#1a1a1a" transform="rotate(-90 977.9 2561.5)">24 h</text>
<rect x="131.8" y="2669.5" width="663" height="3.2" fill="#111"/>
<rect x="808" y="2668.7" width="209.4" height="3.2" fill="#111"/>
<text x="415.5" y="2714.3" font-size="36.8" text-anchor="start" fill="#1a1a1a">BRM014</text>
<text x="866.5" y="2714.8" font-size="36.8" text-anchor="start" fill="#1a1a1a">ACBI1</text>
<defs><linearGradient id="cb" x1="0" y1="0" x2="0" y2="1"><stop offset="0.002" stop-color="#c8161e"/><stop offset="0.026" stop-color="#e41a22"/><stop offset="0.119" stop-color="#ee1e24"/><stop offset="0.260" stop-color="#f26b50"/><stop offset="0.377" stop-color="#f6b49b"/><stop offset="0.482" stop-color="#fffcfa"/><stop offset="0.517" stop-color="#ffffff"/><stop offset="0.564" stop-color="#e8def2"/><stop offset="0.634" stop-color="#bcaada"/><stop offset="0.727" stop-color="#8e72c4"/><stop offset="0.798" stop-color="#6458aa"/><stop offset="0.868" stop-color="#4254a8"/><stop offset="0.961" stop-color="#3a52a6"/><stop offset="1.008" stop-color="#324896"/></linearGradient></defs>
<rect x="51" y="2500.3" width="28.8" height="131.5" fill="url(#cb)"/>
<path d="M51 2503.7h6M73.8 2503.7h6" stroke="#fff" stroke-width="2"/>
<text x="84.5" y="2511.2" font-size="21" text-anchor="start" fill="#1a1a1a">2</text>
<path d="M51 2534.5h6M73.8 2534.5h6" stroke="#fff" stroke-width="2"/>
<text x="84.5" y="2542.0" font-size="21" text-anchor="start" fill="#1a1a1a">1</text>
<path d="M51 2565.2h6M73.8 2565.2h6" stroke="#fff" stroke-width="2"/>
<text x="84.5" y="2572.7" font-size="21" text-anchor="start" fill="#1a1a1a">0</text>
<path d="M51 2596.2h6M73.8 2596.2h6" stroke="#fff" stroke-width="2"/>
<text x="84.5" y="2603.7" font-size="21" text-anchor="start" fill="#1a1a1a">&#8722;1</text>
<path d="M51 2626.7h6M73.8 2626.7h6" stroke="#fff" stroke-width="2"/>
<text x="84.5" y="2634.2" font-size="21" text-anchor="start" fill="#1a1a1a">&#8722;2</text>
</svg><div class="hm"><div style="left:134.8px;top:1690.1px;width:110.2px;height:53.5px;background:linear-gradient(#fbdbce 0 2.0px,#f9cebd 0 4.0px,#f9ccbb 0 5.9px,#fce6de 0 7.9px,#f9c9b7 0 9.9px,#fef8f5 0 11.9px,#f7b9a5 0 13.9px,#f7baa6 0 15.9px,#f8c1ad 0 17.8px,#f8c8b5 0 19.8px,#fad3c4 0 21.8px,#f9cdbd 0 23.8px,#f7bba7 0 25.8px,#f8c5b2 0 27.7px,#fbdbcf 0 29.7px,#fdf0eb 0 31.7px,#fad3c4 0 33.7px,#fbe1d8 0 35.7px,#f9d0c1 0 37.6px,#fce4db 0 39.6px,#fad3c4 0 41.6px,#f9cfbf 0 43.6px,#fce3da 0 45.6px,#fef4f0 0 47.6px,#fce9e2 0 49.5px,#eeeaf6 0 51.5px,#ebe6f4 0 53.5px)"></div><div style="left:245.0px;top:1690.1px;width:110.2px;height:53.5px;background:linear-gradient(#fbdbcf 0 2.0px,#fffffe 0 4.0px,#fce8e1 0 5.9px,#fce5dd 0 7.9px,#fdf0ec 0 9.9px,#fce2d9 0 11.9px,#f9cebe 0 13.9px,#fad4c6 0 15.9px,#fceae2 0 17.8px,#fbddd1 0 19.8px,#fef4f0 0 21.8px,#f9cab9 0 23.8px,#fce7df 0 25.8px,#f9ccbb 0 27.7px,#fce6de 0 29.7px,#fdebe4 0 31.7px,#f7b7a3 0 33.7px,#f8c3af 0 35.7px,#fbddd1 0 37.6px,#fce6de 0 39.6px,#fceae3 0 41.6px,#fad9cc 0 43.6px,#fef5f2 0 45.6px,#fbdcd0 0 47.6px,#f9c9b7 0 49.5px,#fdeee8 0 51.5px,#fcfbfd 0 53.5px)"></div><div style="left:355.2px;top:1690.1px;width:109.9px;height:53.5px;background:linear-gradient(#f8c6b2 0 2.0px,#f7bca8 0 4.0px,#f5957f 0 5.9px,#f6a994 0 7.9px,#f7b8a4 0 9.9px,#f7b9a4 0 11.9px,#f6a28d 0 13.9px,#fbe0d5 0 15.9px,#f8c1ac 0 17.8px,#f9c9b7 0 19.8px,#f8bfab 0 21.8px,#f7baa6 0 23.8px,#fce6dd 0 25.8px,#fdece5 0 27.7px,#f8c9b7 0 29.7px,#f6a792 0 31.7px,#fbdfd5 0 33.7px,#fad4c6 0 35.7px,#fce7df 0 37.6px,#fad3c5 0 39.6px,#f9cbb9 0 41.6px,#fbddd2 0 43.6px,#fce3d9 0 45.6px,#f8c6b3 0 47.6px,#f9cfbe 0 49.5px,#fce5dd 0 51.5px,#fad6c9 0 53.5px)"></div><div style="left:465.1px;top:1690.1px;width:109.9px;height:53.5px;background:linear-gradient(#f6ab96 0 2.0px,#f7bda8 0 4.0px,#fce8e1 0 5.9px,#f5937e 0 7.9px,#f8c2ae 0 9.9px,#f7b09b 0 11.9px,#fad6c9 0 13.9px,#fce3da 0 15.9px,#f5947f 0 17.8px,#f7b09c 0 19.8px,#f58e78 0 21.8px,#f6a792 0 23.8px,#f69f8a 0 25.8px,#f7af9b 0 27.7px,#f7b29e 0 29.7px,#f8c5b1 0 31.7px,#fce5dc 0 33.7px,#f9ccbb 0 35.7px,#f8c1ad 0 37.6px,#fce4dc 0 39.6px,#fdeae3 0 41.6px,#fef3ef 0 43.6px,#fceae3 0 45.6px,#f8c3af 0 47.6px,#f69c86 0 49.5px,#f7b39f 0 51.5px,#f6a38e 0 53.5px)"></div><div style="left:575.0px;top:1690.1px;width:110.0px;height:53.5px;background:linear-gradient(#f7bda8 0 2.0px,#f3655f 0 4.0px,#f25556 0 5.9px,#f3655f 0 7.9px,#f3615c 0 9.9px,#f36760 0 11.9px,#f3665f 0 13.9px,#f36860 0 15.9px,#f4806e 0 17.8px,#f37065 0 19.8px,#f9cdbc 0 21.8px,#f37367 0 23.8px,#f4796a 0 25.8px,#f4826f 0 27.7px,#f48571 0 29.7px,#f3655f 0 31.7px,#f47d6c 0 33.7px,#f36b62 0 35.7px,#f47f6e 0 37.6px,#f58974 0 39.6px,#f47f6e 0 41.6px,#f6a490 0 43.6px,#f48672 0 45.6px,#f5957f 0 47.6px,#f69e89 0 49.5px,#f5937e 0 51.5px,#f69f8a 0 53.5px)"></div><div style="left:685.0px;top:1690.1px;width:110.1px;height:53.5px;background:linear-gradient(#f69984 0 2.0px,#f58c77 0 4.0px,#f3635d 0 5.9px,#f48471 0 7.9px,#f4796a 0 9.9px,#f4786a 0 11.9px,#f58f79 0 13.9px,#f4806e 0 15.9px,#f59681 0 17.8px,#f47f6e 0 19.8px,#f47b6b 0 21.8px,#f47c6c 0 23.8px,#f48571 0 25.8px,#f59680 0 27.7px,#f6a893 0 29.7px,#f59681 0 31.7px,#fad8cb 0 33.7px,#f59681 0 35.7px,#f58c76 0 37.6px,#fad9cd 0 39.6px,#fad6c9 0 41.6px,#f7bda9 0 43.6px,#fad9cc 0 45.6px,#f5957f 0 47.6px,#f69c87 0 49.5px,#fdece6 0 51.5px,#fceae3 0 53.5px)"></div><div style="left:808.1px;top:1690.1px;width:109.8px;height:53.5px;background:linear-gradient(#f9d0c0 0 2.0px,#f9cdbc 0 4.0px,#f8c4b1 0 5.9px,#f8c4b0 0 7.9px,#fbdfd4 0 11.9px,#fad5c7 0 13.9px,#f7bca8 0 15.9px,#f9cfbf 0 17.8px,#f9cdbd 0 19.8px,#fad8cc 0 21.8px,#f7b8a4 0 23.8px,#f8c0ab 0 25.8px,#f9cab9 0 27.7px,#fdf0eb 0 29.7px,#f9cfbf 0 31.7px,#f9d0c0 0 33.7px,#f9cfbf 0 35.7px,#fdf0eb 0 37.6px,#fbdfd4 0 39.6px,#fbdfd5 0 41.6px,#fbe0d5 0 43.6px,#fbddd2 0 45.6px,#fbdfd4 0 47.6px,#fbe0d6 0 49.5px,#fef5f1 0 51.5px,#f9cfbf 0 53.5px)"></div><div style="left:917.9px;top:1690.1px;width:110.0px;height:53.5px;background:linear-gradient(#f7b4a0 0 2.0px,#f6a995 0 4.0px,#f6a08b 0 5.9px,#f48470 0 7.9px,#f69f8a 0 9.9px,#f6a994 0 11.9px,#fbded3 0 13.9px,#f6a590 0 15.9px,#fbe1d7 0 17.8px,#f6a18c 0 19.8px,#f69b86 0 21.8px,#f4816f 0 23.8px,#f5927d 0 25.8px,#f7b5a0 0 27.7px,#f8c1ad 0 29.7px,#f7b29e 0 31.7px,#f9cbb9 0 33.7px,#f7ac97 0 35.7px,#f6a994 0 37.6px,#f7b49f 0 39.6px,#f9cebd 0 41.6px,#f9ccba 0 43.6px,#f8c3af 0 45.6px,#f7bda9 0 47.6px,#fce8e0 0 49.5px,#f8c5b1 0 51.5px,#fbdbcf 0 53.5px)"></div><div style="left:134.8px;top:1750.0px;width:110.2px;height:373.3px;background:linear-gradient(#e8e3f2 0 2.0px,#e1dbee 0 4.0px,#e4ddf0 0 6.0px,#e9e3f2 0 8.0px,#e9e4f3 0 10.0px,#ebe6f4 0 12.0px,#ede8f5 0 14.0px,#f3f0f8 0 16.0px,#ece7f4 0 18.0px,#e5e0f1 0 20.0px,#ede9f5 0 22.0px,#e8e3f2 0 24.0px,#ece7f4 0 26.0px,#ede8f5 0 27.9px,#d9d1ea 0 29.9px,#dcd4eb 0 31.9px,#dbd4eb 0 33.9px,#ddd5ec 0 35.9px,#e2dbef 0 37.9px,#ded7ed 0 39.9px,#eae5f3 0 41.9px,#ddd6ec 0 43.9px,#ded7ec 0 45.9px,#e4def0 0 47.9px,#ede8f5 0 49.9px,#dfd8ed 0 51.9px,#d9d1ea 0 53.9px,#d4cbe7 0 55.9px,#c6bbe0 0 57.9px,#c2b7df 0 59.9px,#b4a6d8 0 61.9px,#bbaedb 0 63.9px,#bdb0dc 0 65.9px,#c4b8df 0 67.9px,#c9bfe2 0 69.9px,#dbd4eb 0 71.9px,#d1c8e5 0 73.9px,#e7e2f2 0 75.9px,#dbd4eb 0 77.9px,#cbc1e3 0 79.9px,#c9bfe2 0 81.8px,#d2c9e6 0 83.8px,#c6bbe0 0 85.8px,#cec5e4 0 87.8px,#d4cbe7 0 89.8px,#cec5e4 0 91.8px,#b8aada 0 93.8px,#d1c9e6 0 95.8px,#cac0e2 0 97.8px,#bdb1dc 0 99.8px,#bcafdc 0 101.8px,#c4b9df 0 103.8px,#c9bfe2 0 105.8px,#bfb3dd 0 107.8px,#c7bde1 0 109.8px,#c9bfe2 0 111.8px,#beb1dc 0 113.8px,#c2b7df 0 115.8px,#b5a8d9 0 117.8px,#bfb2dd 0 119.8px,#c7bce1 0 121.8px,#ccc3e3 0 123.8px,#dbd4eb 0 125.8px,#b9abda 0 127.8px,#b6a8d9 0 129.8px,#ac9dd4 0 131.8px,#9b8bcb 0 133.7px,#a192ce 0 135.7px,#aa9cd3 0 137.7px,#9588c8 0 139.7px,#9e8fcd 0 141.7px,#afa1d5 0 143.7px,#ac9ed4 0 145.7px,#c5b9e0 0 147.7px,#b4a7d8 0 149.7px,#baaddb 0 151.7px,#8580c0 0 153.7px,#d9d2ea 0 155.7px,#ded7ed 0 157.7px,#cec4e4 0 159.7px,#c7bce1 0 161.7px,#e3ddf0 0 163.7px,#ebe6f4 0 165.7px,#e4def0 0 167.7px,#d4cce7 0 169.7px,#e5dff0 0 171.7px,#d1c8e6 0 173.7px,#cec5e4 0 175.7px,#ccc2e3 0 177.7px,#d0c7e5 0 179.7px,#dbd3eb 0 181.7px,#ded7ed 0 183.7px,#ede9f5 0 185.7px,#f1edf7 0 187.6px,#e9e4f3 0 189.6px,#d6cee8 0 191.6px,#d9d2ea 0 193.6px,#d3cae7 0 195.6px,#cac0e3 0 197.6px,#d0c7e5 0 199.6px,#a596d0 0 201.6px,#ab9cd3 0 203.6px,#b2a4d7 0 205.6px,#c5bae0 0 207.6px,#c4b9df 0 209.6px,#b5a8d9 0 211.6px,#9e8ecd 0 213.6px,#9387c7 0 215.6px,#d1c8e6 0 217.6px,#d0c7e5 0 219.6px,#ab9cd3 0 221.6px,#b6a8d9 0 223.6px,#dbd3eb 0 225.6px,#b8aada 0 227.6px,#ad9ed4 0 229.6px,#9d8ecc 0 231.6px,#9286c6 0 233.6px,#9287c7 0 235.6px,#ac9ed4 0 237.6px,#c8bee1 0 239.6px,#c8bde1 0 241.5px,#b3a6d8 0 243.5px,#bdb1dc 0 245.5px,#b5a7d8 0 247.5px,#cdc3e4 0 249.5px,#c7bde1 0 251.5px,#ab9dd3 0 253.5px,#e0d9ee 0 255.5px,#c8bde1 0 257.5px,#dad3eb 0 259.5px,#cac0e2 0 261.5px,#bdb1dc 0 263.5px,#cdc3e4 0 265.5px,#ac9ed4 0 267.5px,#c0b4de 0 269.5px,#b2a4d7 0 271.5px,#c6bbe1 0 273.5px,#d4cce7 0 275.5px,#c3b8df 0 277.5px,#9f90cd 0 279.5px,#c0b5de 0 281.5px,#9d8dcc 0 283.5px,#c0b4dd 0 285.5px,#baaddb 0 287.5px,#c5bae0 0 289.5px,#ccc3e3 0 291.5px,#aa9bd3 0 293.4px,#a293cf 0 295.4px,#baaddb 0 297.4px,#c0b4de 0 299.4px,#c8bee2 0 301.4px,#cdc3e4 0 303.4px,#cac0e3 0 305.4px,#c5bae0 0 307.4px,#ad9fd4 0 311.4px,#b7a9d9 0 313.4px,#cbc2e3 0 315.4px,#d0c7e5 0 317.4px,#b1a3d7 0 319.4px,#beb2dd 0 321.4px,#b8abda 0 323.4px,#d0c7e5 0 325.4px,#dad2ea 0 327.4px,#cac0e2 0 329.4px,#cbc1e3 0 331.4px,#afa1d5 0 333.4px,#b1a3d6 0 335.4px,#afa1d6 0 337.4px,#c8bde1 0 339.4px,#9c8ccc 0 341.4px,#bfb3dd 0 343.4px,#d8d0e9 0 345.4px,#d4cce7 0 347.3px,#ebe6f4 0 349.3px,#c7bce1 0 351.3px,#9e8ecc 0 353.3px,#a191ce 0 355.3px,#bfb3dd 0 357.3px,#b4a6d8 0 359.3px,#b8abda 0 361.3px,#bfb3dd 0 363.3px,#bdb1dc 0 365.3px,#afa1d5 0 367.3px,#d8d0e9 0 369.3px,#cdc3e4 0 371.3px,#ded7ec 0 373.3px)"></div><div style="left:245.0px;top:1750.0px;width:110.2px;height:373.3px;background:linear-gradient(#a394cf 0 2.0px,#a292ce 0 4.0px,#a697d1 0 6.0px,#ad9fd4 0 8.0px,#b3a5d8 0 10.0px,#a495d0 0 12.0px,#b1a3d6 0 14.0px,#cec5e4 0 16.0px,#cdc3e4 0 18.0px,#b2a4d7 0 20.0px,#a393cf 0 22.0px,#b1a3d6 0 24.0px,#c3b7df 0 26.0px,#ad9ed4 0 27.9px,#b6a9d9 0 29.9px,#c4b9e0 0 31.9px,#cdc3e4 0 33.9px,#e8e2f2 0 35.9px,#d1c8e5 0 37.9px,#d3cbe7 0 39.9px,#e3ddf0 0 41.9px,#b1a3d6 0 43.9px,#847fbf 0 45.9px,#8781c1 0 47.9px,#847fbf 0 49.9px,#767bbb 0 51.9px,#8580c0 0 53.9px,#988aca 0 55.9px,#a99ad2 0 57.9px,#9a8aca 0 59.9px,#837fbf 0 61.9px,#807dbd 0 63.9px,#9c8ccc 0 65.9px,#8680c0 0 67.9px,#a99ad2 0 69.9px,#8c83c3 0 71.9px,#a191ce 0 73.9px,#b9abda 0 75.9px,#bbaedb 0 77.9px,#b4a6d8 0 79.9px,#afa0d5 0 81.8px,#9789c9 0 83.8px,#7a7cbc 0 85.8px,#a393cf 0 87.8px,#a394cf 0 89.8px,#9487c7 0 91.8px,#767bbb 0 93.8px,#847fbf 0 95.8px,#bbaedb 0 97.8px,#baaddb 0 99.8px,#a292ce 0 101.8px,#6e79ba 0 103.8px,#7d7cbc 0 105.8px,#747abb 0 107.8px,#7d7cbc 0 109.8px,#9789c9 0 111.8px,#a798d1 0 113.8px,#aa9bd3 0 115.8px,#cbc2e3 0 117.8px,#c1b6de 0 119.8px,#cec5e4 0 121.8px,#d1c8e5 0 123.8px,#cdc4e4 0 125.8px,#dfd9ed 0 127.8px,#d2c9e6 0 129.8px,#d3cae7 0 131.8px,#baaddb 0 133.7px,#bfb3dd 0 135.7px,#bdb0dc 0 137.7px,#bbaedb 0 139.7px,#c1b5de 0 141.7px,#ded7ec 0 143.7px,#e2dbef 0 145.7px,#e7e1f1 0 147.7px,#e6e0f1 0 149.7px,#f1edf7 0 151.7px,#e6e0f1 0 153.7px,#eae5f3 0 155.7px,#dbd4eb 0 157.7px,#d2c9e6 0 159.7px,#d3cae6 0 161.7px,#dad3eb 0 163.7px,#e3ddf0 0 165.7px,#e7e2f2 0 167.7px,#d8d0e9 0 169.7px,#e2dbef 0 171.7px,#e4def0 0 173.7px,#dfd8ed 0 175.7px,#e3dcef 0 177.7px,#e5dff1 0 179.7px,#e5dff0 0 181.7px,#d5cde8 0 183.7px,#e4def0 0 185.7px,#9e8ecc 0 187.6px,#807dbd 0 189.6px,#8b83c3 0 191.6px,#9c8ccb 0 193.6px,#8b83c3 0 195.6px,#a393cf 0 197.6px,#b2a4d7 0 199.6px,#c6bbe0 0 201.6px,#cfc6e5 0 203.6px,#9e8fcd 0 205.6px,#b8abda 0 207.6px,#cac0e2 0 209.6px,#d8d0e9 0 211.6px,#9d8dcc 0 213.6px,#a292ce 0 215.6px,#aa9bd3 0 217.6px,#9f8fcd 0 219.6px,#9e8ecd 0 221.6px,#a192ce 0 223.6px,#baaddb 0 225.6px,#a798d1 0 227.6px,#8982c2 0 229.6px,#6577b9 0 231.6px,#847fbf 0 233.6px,#807dbd 0 235.6px,#9a8aca 0 237.6px,#ab9dd3 0 239.6px,#9789c9 0 241.5px,#827ebe 0 243.5px,#9688c8 0 245.5px,#a090ce 0 247.5px,#9a8aca 0 249.5px,#9889c9 0 251.5px,#a798d1 0 253.5px,#dbd3eb 0 255.5px,#a393cf 0 257.5px,#b0a2d6 0 259.5px,#9f8fcd 0 261.5px,#a697d1 0 263.5px,#9689c9 0 265.5px,#9387c7 0 267.5px,#b8abda 0 269.5px,#b1a3d6 0 271.5px,#8f85c5 0 273.5px,#b6a9d9 0 275.5px,#a697d1 0 277.5px,#a293cf 0 279.5px,#b6a8d9 0 281.5px,#a091ce 0 283.5px,#b5a7d8 0 285.5px,#a394cf 0 287.5px,#aea0d5 0 289.5px,#c4b8df 0 291.5px,#bcb0dc 0 293.4px,#7c7cbc 0 295.4px,#817ebe 0 297.4px,#a595d0 0 299.4px,#8d84c4 0 301.4px,#9186c6 0 303.4px,#beb2dd 0 305.4px,#cfc6e5 0 307.4px,#b0a2d6 0 309.4px,#9085c5 0 311.4px,#7b7cbc 0 313.4px,#ac9dd4 0 315.4px,#b9abda 0 317.4px,#ab9cd3 0 319.4px,#9e8ecc 0 321.4px,#c8bde1 0 323.4px,#cfc6e5 0 325.4px,#c4b8df 0 327.4px,#aa9bd3 0 329.4px,#beb2dd 0 331.4px,#a293cf 0 333.4px,#9e8ecc 0 335.4px,#a697d1 0 337.4px,#a596d0 0 339.4px,#7e7cbc 0 341.4px,#9a8aca 0 343.4px,#b6a8d9 0 345.4px,#c2b6de 0 347.3px,#f4f2f9 0 349.3px,#b8aada 0 351.3px,#a192ce 0 353.3px,#a394cf 0 355.3px,#ccc2e3 0 357.3px,#b2a4d7 0 359.3px,#a191ce 0 361.3px,#b5a8d9 0 363.3px,#a798d1 0 365.3px,#827ebe 0 367.3px,#8c83c3 0 369.3px,#b2a4d7 0 371.3px,#bbaedb 0 373.3px)"></div><div style="left:355.2px;top:1750.0px;width:109.9px;height:373.3px;background:linear-gradient(#a899d2 0 2.0px,#a798d1 0 4.0px,#998aca 0 6.0px,#b7a9d9 0 8.0px,#a697d1 0 10.0px,#7f7dbd 0 12.0px,#8680c0 0 14.0px,#ac9ed4 0 16.0px,#b5a7d8 0 18.0px,#a394cf 0 20.0px,#cec5e4 0 22.0px,#c6bbe0 0 24.0px,#ad9ed4 0 26.0px,#bbaedb 0 27.9px,#9c8ccb 0 29.9px,#a596d0 0 31.9px,#9a8aca 0 33.9px,#8d84c4 0 35.9px,#9889c9 0 37.9px,#6c79ba 0 39.9px,#8f85c5 0 41.9px,#aea0d5 0 43.9px,#b9abda 0 45.9px,#afa1d5 0 49.9px,#757abb 0 51.9px,#a293cf 0 53.9px,#9c8ccb 0 55.9px,#817ebe 0 57.9px,#9f8fcd 0 59.9px,#8680c0 0 61.9px,#6677b9 0 63.9px,#6476b8 0 65.9px,#6c79ba 0 67.9px,#a090cd 0 69.9px,#f7f5fb 0 71.9px,#baaddb 0 73.9px,#ffffff 0 75.9px,#b4a6d8 0 77.9px,#aea0d5 0 79.9px,#b8aada 0 81.8px,#a697d1 0 83.8px,#817ebe 0 85.8px,#aa9bd2 0 87.8px,#aa9bd3 0 89.8px,#757bbb 0 91.8px,#6778b9 0 93.8px,#7e7cbc 0 95.8px,#9286c6 0 97.8px,#8680c0 0 99.8px,#717abb 0 101.8px,#6175b8 0 103.8px,#6375b8 0 105.8px,#6175b8 0 107.8px,#6677b9 0 109.8px,#6c79ba 0 111.8px,#717abb 0 113.8px,#6d79ba 0 115.8px,#777bbb 0 117.8px,#c5bae0 0 119.8px,#9688c8 0 121.8px,#6978ba 0 123.8px,#707abb 0 125.8px,#c2b6de 0 127.8px,#b9acda 0 129.8px,#a495d0 0 131.8px,#8c83c3 0 133.7px,#727abb 0 135.7px,#8b83c3 0 137.7px,#6476b8 0 139.7px,#847fbf 0 141.7px,#8d84c4 0 143.7px,#6b78ba 0 145.7px,#8a82c2 0 147.7px,#9a8aca 0 149.7px,#727abb 0 151.7px,#717abb 0 153.7px,#767bbb 0 155.7px,#8881c1 0 157.7px,#6677b9 0 159.7px,#807dbd 0 161.7px,#b1a3d6 0 163.7px,#9889c9 0 165.7px,#988aca 0 167.7px,#7b7cbc 0 169.7px,#6777b9 0 171.7px,#7b7cbc 0 173.7px,#717abb 0 175.7px,#6a78ba 0 177.7px,#707abb 0 179.7px,#777bbb 0 181.7px,#9186c6 0 183.7px,#b2a4d7 0 185.7px,#9a8bcb 0 187.6px,#827ebe 0 189.6px,#6375b8 0 191.6px,#717abb 0 193.6px,#767bbb 0 195.6px,#9688c8 0 197.6px,#6a78ba 0 199.6px,#aa9bd3 0 201.6px,#a394cf 0 203.6px,#8982c2 0 205.6px,#787bbc 0 207.6px,#9588c8 0 209.6px,#a495d0 0 211.6px,#777bbb 0 213.6px,#737abb 0 215.6px,#c0b4de 0 217.6px,#ab9dd3 0 219.6px,#9186c6 0 221.6px,#6e79ba 0 223.6px,#9a8bcb 0 225.6px,#8d84c4 0 227.6px,#8881c1 0 229.6px,#6175b8 0 233.6px,#6e79ba 0 235.6px,#9186c6 0 237.6px,#b8aada 0 239.6px,#cbc1e3 0 241.5px,#9d8dcc 0 243.5px,#847fbf 0 245.5px,#7079bb 0 247.5px,#6476b8 0 251.5px,#747abb 0 253.5px,#727abb 0 255.5px,#8781c1 0 257.5px,#6175b8 0 259.5px,#8b83c3 0 261.5px,#7e7cbc 0 263.5px,#7079ba 0 265.5px,#6777b9 0 269.5px,#6375b8 0 271.5px,#727abb 0 273.5px,#777bbc 0 275.5px,#6778b9 0 277.5px,#767bbb 0 279.5px,#737abb 0 281.5px,#7c7cbc 0 283.5px,#9d8dcc 0 285.5px,#807dbd 0 287.5px,#a99ad2 0 289.5px,#a596d0 0 291.5px,#a393cf 0 293.4px,#8982c2 0 295.4px,#8c83c3 0 297.4px,#b7a9d9 0 299.4px,#847fbf 0 301.4px,#b4a6d8 0 303.4px,#8a82c2 0 305.4px,#9789c9 0 307.4px,#9a8bcb 0 309.4px,#a798d1 0 311.4px,#9688c8 0 313.4px,#9789c9 0 315.4px,#727abb 0 317.4px,#7c7cbc 0 319.4px,#797bbc 0 321.4px,#9a8bcb 0 323.4px,#9186c6 0 325.4px,#7d7cbc 0 327.4px,#777bbc 0 329.4px,#6677b9 0 331.4px,#727abb 0 333.4px,#6777b9 0 335.4px,#6978ba 0 337.4px,#717abb 0 339.4px,#6677b9 0 341.4px,#9286c6 0 343.4px,#9789c9 0 345.4px,#9d8dcc 0 347.3px,#a99ad2 0 349.3px,#8d84c4 0 351.3px,#6a78ba 0 353.3px,#7a7cbc 0 355.3px,#7b7cbc 0 357.3px,#9085c5 0 359.3px,#8680c0 0 361.3px,#a091ce 0 363.3px,#ad9ed4 0 365.3px,#727abb 0 367.3px,#6b79ba 0 369.3px,#6777b9 0 371.3px,#6778b9 0 373.3px)"></div><div style="left:465.1px;top:1750.0px;width:109.9px;height:373.3px;background:linear-gradient(#b1a3d6 0 2.0px,#9186c6 0 4.0px,#6f79ba 0 6.0px,#9487c7 0 8.0px,#807dbd 0 10.0px,#8982c2 0 12.0px,#6c79ba 0 14.0px,#8d84c4 0 16.0px,#7f7dbd 0 18.0px,#6677b9 0 20.0px,#a393cf 0 22.0px,#b0a1d6 0 24.0px,#8d84c4 0 26.0px,#c4b9df 0 27.9px,#aea0d5 0 29.9px,#7e7cbd 0 31.9px,#8680c0 0 33.9px,#707abb 0 35.9px,#8e84c4 0 37.9px,#6175b8 0 39.9px,#6677b9 0 41.9px,#6c79ba 0 43.9px,#c6bce1 0 45.9px,#c2b7df 0 47.9px,#beb1dd 0 49.9px,#837fbf 0 51.9px,#9588c8 0 53.9px,#807dbd 0 55.9px,#9d8dcc 0 57.9px,#7a7cbc 0 61.9px,#6275b8 0 63.9px,#8c84c4 0 65.9px,#ad9fd4 0 67.9px,#a191ce 0 69.9px,#9186c6 0 71.9px,#8580c0 0 73.9px,#8a82c2 0 75.9px,#b9acda 0 77.9px,#8580c0 0 79.9px,#a798d1 0 81.8px,#847fbf 0 83.8px,#8982c2 0 85.8px,#b3a5d7 0 87.8px,#d0c7e5 0 89.8px,#a494cf 0 91.8px,#8781c1 0 93.8px,#cbc1e3 0 95.8px,#dbd4eb 0 97.8px,#c2b7df 0 99.8px,#6476b9 0 101.8px,#6375b8 0 103.8px,#aa9cd3 0 105.8px,#6878b9 0 107.8px,#6175b8 0 109.8px,#6476b8 0 111.8px,#b5a7d8 0 113.8px,#bbaedb 0 115.8px,#8d84c4 0 117.8px,#787bbc 0 119.8px,#7d7cbc 0 121.8px,#8580c0 0 123.8px,#707abb 0 125.8px,#a899d2 0 127.8px,#717abb 0 129.8px,#a192ce 0 131.8px,#7c7cbc 0 133.7px,#717abb 0 135.7px,#6476b8 0 137.7px,#6375b8 0 139.7px,#6576b9 0 141.7px,#6175b8 0 143.7px,#8680c0 0 145.7px,#717abb 0 147.7px,#9c8ccb 0 149.7px,#6476b9 0 151.7px,#6175b8 0 153.7px,#777bbb 0 155.7px,#6d79ba 0 157.7px,#6175b8 0 163.7px,#837fbf 0 165.7px,#a596d0 0 167.7px,#7b7cbc 0 169.7px,#6677b9 0 171.7px,#6778b9 0 173.7px,#6577b9 0 175.7px,#9588c8 0 177.7px,#9286c6 0 179.7px,#8a82c2 0 181.7px,#727abb 0 183.7px,#a192ce 0 185.7px,#777bbc 0 187.6px,#6d79ba 0 189.6px,#6175b8 0 191.6px,#6878b9 0 193.6px,#6576b9 0 195.6px,#8b83c3 0 197.6px,#988aca 0 199.6px,#9186c6 0 201.6px,#c2b6de 0 203.6px,#827ebe 0 205.6px,#baaddb 0 207.6px,#ad9ed4 0 209.6px,#6376b8 0 211.6px,#6576b9 0 213.6px,#6175b8 0 215.6px,#837fbf 0 217.6px,#6677b9 0 221.6px,#6d79ba 0 223.6px,#bdb0dc 0 225.6px,#a899d2 0 227.6px,#aa9cd3 0 229.6px,#6476b9 0 231.6px,#6275b8 0 233.6px,#6777b9 0 235.6px,#8b83c3 0 237.6px,#727abb 0 239.6px,#767bbb 0 241.5px,#6577b9 0 243.5px,#6c79ba 0 245.5px,#827ebe 0 247.5px,#a091ce 0 249.5px,#8d84c4 0 251.5px,#7b7cbc 0 253.5px,#8781c1 0 255.5px,#9186c6 0 257.5px,#6476b8 0 259.5px,#807dbd 0 261.5px,#817ebe 0 263.5px,#747abb 0 265.5px,#6576b9 0 267.5px,#727abb 0 269.5px,#6777b9 0 271.5px,#7c7cbc 0 273.5px,#6a78ba 0 275.5px,#6577b9 0 277.5px,#6275b8 0 279.5px,#6a78ba 0 281.5px,#6677b9 0 283.5px,#7f7dbd 0 285.5px,#8a83c3 0 287.5px,#d0c8e5 0 289.5px,#baaddb 0 291.5px,#757bbb 0 293.4px,#6777b9 0 295.4px,#6778b9 0 297.4px,#9186c6 0 299.4px,#6677b9 0 301.4px,#8e84c4 0 303.4px,#8d84c4 0 305.4px,#6c79ba 0 307.4px,#6878b9 0 309.4px,#727abb 0 311.4px,#6175b8 0 313.4px,#6275b8 0 315.4px,#7079ba 0 317.4px,#747abb 0 319.4px,#a99ad2 0 321.4px,#8f85c5 0 323.4px,#8e84c4 0 325.4px,#757bbb 0 327.4px,#6878b9 0 329.4px,#6576b9 0 331.4px,#837ebe 0 333.4px,#6777b9 0 335.4px,#797bbc 0 337.4px,#9a8aca 0 339.4px,#757abb 0 341.4px,#6e79ba 0 343.4px,#8d84c4 0 345.4px,#9085c5 0 347.3px,#bdb0dc 0 349.3px,#727abb 0 351.3px,#6175b8 0 355.3px,#777bbc 0 357.3px,#a192ce 0 359.3px,#a495d0 0 361.3px,#e8e2f2 0 363.3px,#c0b4de 0 365.3px,#a697d1 0 367.3px,#aea0d5 0 369.3px,#bbafdc 0 371.3px,#807dbd 0 373.3px)"></div><div style="left:575.0px;top:1750.0px;width:110.0px;height:373.3px;background:linear-gradient(#6175b8 0 4.0px,#6476b8 0 6.0px,#6778b9 0 8.0px,#9688c8 0 10.0px,#6175b8 0 14.0px,#6476b8 0 16.0px,#6175b8 0 20.0px,#6375b8 0 22.0px,#9387c7 0 24.0px,#737abb 0 26.0px,#6476b9 0 27.9px,#6175b8 0 29.9px,#6677b9 0 31.9px,#6c79ba 0 33.9px,#6e79ba 0 35.9px,#6476b9 0 37.9px,#6375b8 0 39.9px,#757bbb 0 41.9px,#8b83c3 0 43.9px,#777bbc 0 45.9px,#8a82c2 0 47.9px,#6e79ba 0 49.9px,#6878b9 0 51.9px,#8b83c3 0 55.9px,#6878b9 0 57.9px,#6576b9 0 59.9px,#6476b8 0 61.9px,#6175b8 0 71.9px,#6476b8 0 73.9px,#9186c6 0 75.9px,#6677b9 0 77.9px,#6175b8 0 79.9px,#6275b8 0 81.8px,#6c79ba 0 83.8px,#6576b9 0 85.8px,#6778b9 0 87.8px,#6878b9 0 89.8px,#6a78ba 0 91.8px,#6175b8 0 95.8px,#6577b9 0 97.8px,#6375b8 0 99.8px,#6175b8 0 107.8px,#6476b8 0 109.8px,#767bbb 0 111.8px,#6376b8 0 113.8px,#6175b8 0 115.8px,#6476b9 0 117.8px,#6175b8 0 119.8px,#6777b9 0 121.8px,#6175b8 0 125.8px,#6275b8 0 127.8px,#6175b8 0 129.8px,#747abb 0 131.8px,#8f85c5 0 133.7px,#9588c8 0 135.7px,#8781c1 0 137.7px,#6777b9 0 139.7px,#6476b9 0 141.7px,#6175b8 0 143.7px,#6476b9 0 145.7px,#6b78ba 0 147.7px,#707abb 0 149.7px,#6175b8 0 155.7px,#6677b9 0 157.7px,#6175b8 0 159.7px,#7079bb 0 161.7px,#7b7cbc 0 163.7px,#817ebe 0 165.7px,#7d7cbc 0 167.7px,#6f79ba 0 169.7px,#6677b9 0 171.7px,#6778b9 0 173.7px,#6175b8 0 177.7px,#6978ba 0 179.7px,#6175b8 0 181.7px,#6275b8 0 183.7px,#6576b9 0 185.7px,#6a78ba 0 187.6px,#6175b8 0 197.6px,#6376b8 0 199.6px,#6175b8 0 201.6px,#6878b9 0 203.6px,#6275b8 0 205.6px,#6375b8 0 207.6px,#6677b9 0 209.6px,#6275b8 0 211.6px,#6175b8 0 213.6px,#6275b8 0 215.6px,#6577b9 0 217.6px,#827ebe 0 219.6px,#6175b8 0 221.6px,#6677b9 0 223.6px,#8f85c5 0 225.6px,#8881c1 0 227.6px,#6175b8 0 239.6px,#6677b9 0 241.5px,#6175b8 0 243.5px,#6375b8 0 245.5px,#6175b8 0 253.5px,#6c79ba 0 255.5px,#6476b9 0 257.5px,#6577b9 0 259.5px,#6677b9 0 261.5px,#6576b9 0 263.5px,#6275b8 0 265.5px,#6778b9 0 267.5px,#6878b9 0 269.5px,#6275b8 0 271.5px,#6175b8 0 273.5px,#8b83c3 0 275.5px,#6175b8 0 285.5px,#6375b8 0 287.5px,#6476b9 0 289.5px,#6d79ba 0 291.5px,#6777b9 0 293.4px,#6175b8 0 295.4px,#6275b8 0 297.4px,#6175b8 0 303.4px,#717abb 0 305.4px,#6175b8 0 313.4px,#6f79ba 0 315.4px,#6175b8 0 317.4px,#6677b9 0 319.4px,#6175b8 0 327.4px,#6275b8 0 329.4px,#6576b9 0 331.4px,#6175b8 0 337.4px,#6476b8 0 339.4px,#6175b8 0 341.4px,#6677b9 0 343.4px,#6476b8 0 345.4px,#7a7cbc 0 347.3px,#9b8bcb 0 349.3px,#6677b9 0 351.3px,#6576b9 0 353.3px,#6878b9 0 355.3px,#6576b9 0 357.3px,#6275b8 0 359.3px,#6175b8 0 361.3px,#6677b9 0 363.3px,#6175b8 0 367.3px,#6777b9 0 369.3px,#787bbc 0 371.3px,#6275b8 0 373.3px)"></div><div style="left:685.0px;top:1750.0px;width:110.1px;height:373.3px;background:linear-gradient(#6376b8 0 2.0px,#6175b8 0 4.0px,#6275b8 0 8.0px,#6175b8 0 16.0px,#6777b9 0 18.0px,#6375b8 0 20.0px,#737abb 0 22.0px,#7d7cbc 0 24.0px,#717abb 0 26.0px,#9b8ccb 0 27.9px,#6978ba 0 29.9px,#6476b8 0 31.9px,#6175b8 0 37.9px,#6275b8 0 39.9px,#6777b9 0 41.9px,#6c79ba 0 43.9px,#9286c6 0 45.9px,#6476b8 0 49.9px,#6175b8 0 51.9px,#6476b8 0 53.9px,#6778b9 0 55.9px,#6375b8 0 57.9px,#6577b9 0 59.9px,#6175b8 0 71.9px,#6375b8 0 73.9px,#6576b9 0 75.9px,#6878b9 0 77.9px,#6175b8 0 81.8px,#6275b8 0 83.8px,#6175b8 0 85.8px,#6978ba 0 87.8px,#6778b9 0 89.8px,#6175b8 0 93.8px,#6777b9 0 95.8px,#6677b9 0 97.8px,#6275b8 0 99.8px,#6175b8 0 117.8px,#6777b9 0 119.8px,#6476b9 0 121.8px,#6175b8 0 129.8px,#6275b8 0 131.8px,#6175b8 0 133.7px,#6476b9 0 135.7px,#6576b9 0 137.7px,#6175b8 0 141.7px,#6376b8 0 143.7px,#6175b8 0 145.7px,#6777b9 0 147.7px,#777bbb 0 149.7px,#6375b8 0 151.7px,#6175b8 0 153.7px,#6677b9 0 155.7px,#6476b8 0 157.7px,#6175b8 0 163.7px,#6375b8 0 165.7px,#6175b8 0 183.7px,#6677b9 0 185.7px,#6175b8 0 199.6px,#6677b9 0 201.6px,#6175b8 0 205.6px,#6375b8 0 207.6px,#6576b9 0 209.6px,#6476b9 0 211.6px,#6175b8 0 215.6px,#6677b9 0 219.6px,#6476b9 0 221.6px,#6175b8 0 223.6px,#6677b9 0 225.6px,#6778b9 0 227.6px,#6175b8 0 243.5px,#6476b8 0 245.5px,#6175b8 0 253.5px,#6375b8 0 255.5px,#6175b8 0 261.5px,#6275b8 0 263.5px,#6175b8 0 273.5px,#6376b8 0 275.5px,#6175b8 0 285.5px,#6d79ba 0 287.5px,#6677b9 0 289.5px,#9e8ecc 0 291.5px,#6778b9 0 293.4px,#6175b8 0 301.4px,#6375b8 0 303.4px,#6476b8 0 305.4px,#6375b8 0 307.4px,#6175b8 0 309.4px,#6978ba 0 311.4px,#717abb 0 313.4px,#6878b9 0 315.4px,#6c79ba 0 317.4px,#6175b8 0 335.4px,#6677b9 0 339.4px,#6175b8 0 345.4px,#6677b9 0 347.3px,#6878b9 0 349.3px,#6376b8 0 351.3px,#6175b8 0 373.3px)"></div><div style="left:808.1px;top:1750.0px;width:109.8px;height:373.3px;background:linear-gradient(#b1a3d6 0 2.0px,#b2a4d7 0 4.0px,#b9acdb 0 6.0px,#beb1dc 0 8.0px,#c3b7df 0 10.0px,#bcb0dc 0 12.0px,#c9bfe2 0 14.0px,#d5cde8 0 16.0px,#bfb3dd 0 18.0px,#bcafdc 0 20.0px,#c1b6de 0 22.0px,#cbc1e3 0 24.0px,#c7bde1 0 26.0px,#bfb3dd 0 27.9px,#cdc4e4 0 29.9px,#c3b8df 0 31.9px,#c7bce1 0 33.9px,#c4b8df 0 35.9px,#cac0e2 0 37.9px,#c4b9e0 0 39.9px,#c0b4de 0 41.9px,#cbc1e3 0 43.9px,#bfb3dd 0 45.9px,#bbafdb 0 47.9px,#c7bce1 0 49.9px,#baacdb 0 51.9px,#c4b8df 0 53.9px,#c7bce1 0 55.9px,#c9bfe2 0 57.9px,#c0b4dd 0 59.9px,#bdb0dc 0 61.9px,#b1a3d6 0 63.9px,#beb1dd 0 65.9px,#bcafdc 0 67.9px,#d4cbe7 0 69.9px,#d0c8e5 0 71.9px,#d9d1ea 0 73.9px,#cac0e2 0 75.9px,#c8bee2 0 77.9px,#c9bee2 0 79.9px,#c2b6de 0 81.8px,#c3b8df 0 83.8px,#c0b5de 0 85.8px,#beb2dd 0 87.8px,#c4b9e0 0 89.8px,#b4a6d8 0 91.8px,#a99bd2 0 93.8px,#c6bbe0 0 95.8px,#c2b7df 0 97.8px,#d4cbe7 0 99.8px,#beb2dd 0 101.8px,#baaddb 0 103.8px,#aea0d5 0 105.8px,#bdb0dc 0 107.8px,#bbaedb 0 109.8px,#c6bbe0 0 111.8px,#cac0e2 0 113.8px,#ccc2e3 0 115.8px,#cdc4e4 0 117.8px,#d7cfe9 0 119.8px,#c8bde1 0 121.8px,#b4a6d8 0 123.8px,#b8aada 0 125.8px,#c6bbe0 0 127.8px,#cec5e4 0 129.8px,#c3b8df 0 131.8px,#beb2dd 0 133.7px,#bfb3dd 0 135.7px,#c1b5de 0 137.7px,#baaddb 0 139.7px,#bbaedb 0 141.7px,#c8bde1 0 143.7px,#b8aada 0 145.7px,#c3b8df 0 147.7px,#c8bee1 0 149.7px,#c5bae0 0 151.7px,#beb2dd 0 153.7px,#c5bae0 0 155.7px,#d7d0e9 0 157.7px,#bdb1dc 0 159.7px,#b4a6d8 0 161.7px,#b3a5d7 0 163.7px,#c4b9e0 0 165.7px,#c5bae0 0 167.7px,#d2c9e6 0 169.7px,#bbafdc 0 171.7px,#b9acda 0 173.7px,#b2a4d7 0 175.7px,#c8bde1 0 177.7px,#bcb0dc 0 179.7px,#cac0e2 0 181.7px,#c3b8df 0 185.7px,#c5bae0 0 187.6px,#c6bce1 0 189.6px,#c3b8df 0 191.6px,#d1c8e6 0 193.6px,#c0b4de 0 195.6px,#bdb0dc 0 197.6px,#b1a2d6 0 199.6px,#b8aada 0 201.6px,#cac0e2 0 203.6px,#c3b8df 0 205.6px,#c1b5de 0 207.6px,#d8d0e9 0 209.6px,#cfc6e5 0 211.6px,#c2b7df 0 213.6px,#c3b8df 0 215.6px,#dcd5ec 0 217.6px,#ccc2e3 0 219.6px,#c5bae0 0 221.6px,#cec5e4 0 223.6px,#ded7ed 0 225.6px,#dbd4eb 0 227.6px,#c8bee1 0 229.6px,#bfb2dd 0 231.6px,#b6a8d9 0 233.6px,#c0b5de 0 235.6px,#ccc3e3 0 237.6px,#c2b6de 0 241.5px,#ad9ed4 0 243.5px,#b2a4d7 0 245.5px,#afa0d5 0 247.5px,#bdb0dc 0 249.5px,#b9acda 0 251.5px,#c0b4de 0 253.5px,#d4cbe7 0 255.5px,#bbaedb 0 257.5px,#cdc3e4 0 259.5px,#d3cbe7 0 261.5px,#cac0e2 0 263.5px,#d2c9e6 0 265.5px,#c3b8df 0 267.5px,#c6bbe0 0 269.5px,#ae9fd5 0 271.5px,#c0b4dd 0 273.5px,#b9acdb 0 275.5px,#bcafdc 0 277.5px,#b7a9d9 0 279.5px,#c1b5de 0 281.5px,#c0b4dd 0 283.5px,#bdb1dc 0 285.5px,#b4a6d8 0 287.5px,#c3b8df 0 289.5px,#cac0e2 0 291.5px,#b9acda 0 293.4px,#b8aada 0 295.4px,#afa1d5 0 297.4px,#bbaedb 0 299.4px,#c1b5de 0 301.4px,#cac0e2 0 303.4px,#cdc3e3 0 305.4px,#d8d0e9 0 307.4px,#d6cee9 0 309.4px,#dfd8ed 0 311.4px,#c3b8df 0 313.4px,#d2c9e6 0 315.4px,#cfc6e5 0 317.4px,#c6bbe0 0 319.4px,#baaddb 0 321.4px,#c3b8df 0 323.4px,#c5bae0 0 325.4px,#bbaedb 0 327.4px,#bfb3dd 0 331.4px,#c8bee1 0 333.4px,#baaddb 0 335.4px,#cdc3e4 0 337.4px,#c9bfe2 0 339.4px,#cec5e4 0 341.4px,#cfc6e5 0 345.4px,#d1c9e6 0 347.3px,#e2dcef 0 349.3px,#d5cde8 0 351.3px,#c8bee2 0 353.3px,#cdc4e4 0 355.3px,#d5cde8 0 357.3px,#c1b5de 0 359.3px,#b2a4d7 0 361.3px,#beb1dd 0 363.3px,#c4b9e0 0 365.3px,#beb2dd 0 367.3px,#cac0e2 0 369.3px,#c9bfe2 0 371.3px,#c4b9df 0 373.3px)"></div><div style="left:917.9px;top:1750.0px;width:110.0px;height:373.3px;background:linear-gradient(#817ebe 0 2.0px,#9f8fcd 0 4.0px,#9789c9 0 6.0px,#a899d2 0 8.0px,#a394cf 0 10.0px,#9d8dcc 0 12.0px,#807dbd 0 14.0px,#a798d1 0 16.0px,#9688c8 0 18.0px,#9588c8 0 20.0px,#a090ce 0 22.0px,#9287c7 0 24.0px,#767bbb 0 26.0px,#8a82c2 0 27.9px,#aa9bd3 0 29.9px,#998aca 0 31.9px,#a494cf 0 33.9px,#9789c9 0 35.9px,#8c83c3 0 37.9px,#8680c0 0 39.9px,#9b8bcb 0 41.9px,#9487c7 0 43.9px,#9286c6 0 45.9px,#a697d0 0 47.9px,#9d8dcc 0 49.9px,#9086c6 0 51.9px,#a090cd 0 53.9px,#8781c1 0 55.9px,#8e84c4 0 57.9px,#8a82c2 0 59.9px,#817ebe 0 61.9px,#8781c1 0 63.9px,#a191ce 0 65.9px,#9e8ecc 0 67.9px,#a596d0 0 69.9px,#9c8ccc 0 71.9px,#aa9bd3 0 73.9px,#9f8fcd 0 75.9px,#9789c9 0 77.9px,#9487c7 0 79.9px,#8781c1 0 81.8px,#9889c9 0 83.8px,#9186c6 0 85.8px,#9588c8 0 87.8px,#a192ce 0 89.8px,#9487c7 0 91.8px,#9085c5 0 93.8px,#a99bd2 0 95.8px,#a192ce 0 97.8px,#9f8fcd 0 99.8px,#998aca 0 101.8px,#8881c1 0 103.8px,#9488c8 0 105.8px,#9085c5 0 107.8px,#8c83c3 0 109.8px,#9f90cd 0 111.8px,#9b8bcb 0 113.8px,#9c8ccb 0 115.8px,#a99ad2 0 117.8px,#a798d1 0 121.8px,#9688c8 0 123.8px,#8f85c5 0 125.8px,#a99ad2 0 127.8px,#9e8ecc 0 129.8px,#9c8ccb 0 131.8px,#8982c2 0 133.7px,#8e84c4 0 135.7px,#9286c6 0 137.7px,#7a7cbc 0 139.7px,#9e8ecd 0 141.7px,#9a8bcb 0 143.7px,#a495d0 0 145.7px,#b2a4d7 0 147.7px,#aa9bd3 0 149.7px,#a192ce 0 151.7px,#8d84c4 0 153.7px,#a99ad2 0 155.7px,#a394cf 0 157.7px,#837fbf 0 159.7px,#8881c1 0 161.7px,#ac9dd4 0 163.7px,#b8aada 0 165.7px,#9d8dcc 0 167.7px,#a596d0 0 169.7px,#a090ce 0 171.7px,#aea0d5 0 173.7px,#9889c9 0 175.7px,#a596d0 0 177.7px,#a394cf 0 179.7px,#9e8fcd 0 181.7px,#aea0d5 0 183.7px,#cbc1e3 0 185.7px,#b4a6d8 0 187.6px,#998aca 0 189.6px,#8781c1 0 191.6px,#a192ce 0 193.6px,#9488c8 0 195.6px,#9e8fcd 0 197.6px,#8e84c4 0 199.6px,#9387c7 0 201.6px,#a99ad2 0 203.6px,#a091ce 0 205.6px,#a394cf 0 207.6px,#9487c7 0 209.6px,#a494cf 0 211.6px,#9e8fcd 0 213.6px,#b6a8d9 0 215.6px,#a394cf 0 217.6px,#ab9dd3 0 219.6px,#9b8bcb 0 221.6px,#9f8fcd 0 223.6px,#9b8bcb 0 225.6px,#b3a5d7 0 227.6px,#8d84c4 0 229.6px,#9488c8 0 231.6px,#8f85c5 0 233.6px,#827ebe 0 235.6px,#9688c8 0 237.6px,#9086c6 0 239.6px,#8d84c4 0 241.5px,#817ebe 0 243.5px,#9387c7 0 245.5px,#9287c7 0 247.5px,#8580c0 0 249.5px,#9789c9 0 251.5px,#9c8ccc 0 253.5px,#b8abda 0 255.5px,#a091ce 0 257.5px,#8f85c5 0 259.5px,#9f8fcd 0 261.5px,#a798d1 0 263.5px,#998aca 0 265.5px,#988aca 0 267.5px,#847fbf 0 269.5px,#7c7cbc 0 271.5px,#8d84c4 0 273.5px,#a697d1 0 275.5px,#9487c7 0 277.5px,#8982c2 0 279.5px,#9b8bcb 0 281.5px,#8a82c2 0 283.5px,#a292cf 0 285.5px,#a293cf 0 287.5px,#b3a5d8 0 289.5px,#b4a7d8 0 291.5px,#9b8bcb 0 293.4px,#777bbb 0 295.4px,#8780c0 0 297.4px,#9a8aca 0 299.4px,#9d8dcc 0 301.4px,#a798d1 0 303.4px,#aa9bd3 0 305.4px,#a798d1 0 307.4px,#9186c6 0 309.4px,#8f85c5 0 311.4px,#998aca 0 313.4px,#9789c9 0 315.4px,#9b8bcb 0 317.4px,#a090cd 0 319.4px,#9f8fcd 0 321.4px,#9085c5 0 323.4px,#a99bd2 0 325.4px,#8f85c5 0 327.4px,#8881c1 0 329.4px,#9c8ccc 0 331.4px,#a090ce 0 333.4px,#9689c9 0 335.4px,#a293cf 0 337.4px,#a192ce 0 339.4px,#7f7dbd 0 341.4px,#9a8aca 0 343.4px,#b6a9d9 0 345.4px,#c2b6de 0 347.3px,#c7bce1 0 349.3px,#a495d0 0 351.3px,#8580c0 0 353.3px,#8781c1 0 355.3px,#a192ce 0 357.3px,#9789c9 0 359.3px,#a192ce 0 361.3px,#a191ce 0 363.3px,#ab9dd3 0 365.3px,#9688c8 0 367.3px,#a596d0 0 369.3px,#9387c7 0 371.3px,#9588c8 0 373.3px)"></div><div style="left:134.8px;top:2129.2px;width:110.2px;height:218.6px;background:linear-gradient(#c2b6de 0 2.0px,#d5cde8 0 4.0px,#efeaf6 0 6.0px,#e8e2f2 0 8.0px,#d4cbe7 0 10.0px,#e1dbee 0 12.0px,#d3cae6 0 14.0px,#c7bce1 0 16.0px,#ded7ec 0 18.0px,#e3ddef 0 20.1px,#c7bde1 0 22.1px,#dfd8ed 0 24.1px,#dbd4eb 0 26.1px,#bdb0dc 0 28.1px,#bdb1dc 0 30.1px,#d6cee8 0 32.1px,#cac0e3 0 34.1px,#d7cfe9 0 36.1px,#cdc3e4 0 38.1px,#d8d0e9 0 40.1px,#dad3eb 0 42.1px,#efebf6 0 44.1px,#d1c8e6 0 46.1px,#cfc6e5 0 48.1px,#c8bee1 0 50.1px,#c3b8df 0 52.1px,#d3cae7 0 54.1px,#d4cbe7 0 56.2px,#dad2ea 0 58.2px,#d6cee8 0 60.2px,#d4cbe7 0 62.2px,#bfb3dd 0 64.2px,#cbc1e3 0 66.2px,#d2c9e6 0 68.2px,#d0c7e5 0 70.2px,#d2cae6 0 72.2px,#d3cae7 0 74.2px,#c8bee1 0 76.2px,#beb2dd 0 78.2px,#c7bce1 0 80.2px,#c8bde1 0 82.2px,#bdb0dc 0 84.2px,#cac0e2 0 86.2px,#d5cde8 0 88.2px,#cfc6e4 0 90.2px,#bfb3dd 0 92.3px,#cec5e4 0 94.3px,#cdc3e3 0 96.3px,#c0b3dd 0 98.3px,#cdc3e4 0 100.3px,#c3b8df 0 102.3px,#dbd3eb 0 104.3px,#d5cce8 0 106.3px,#ccc3e3 0 108.3px,#bdb0dc 0 110.3px,#cdc4e4 0 112.3px,#dad2ea 0 114.3px,#e9e3f2 0 116.3px,#fefbf9 0 118.3px,#fdfcfe 0 120.3px,#f7f5fb 0 122.3px,#f6f4fa 0 124.3px,#fbf9fc 0 126.3px,#f6f4fa 0 128.4px,#f0ecf6 0 130.4px,#eae5f3 0 132.4px,#f4f1f9 0 134.4px,#fefdfe 0 136.4px,#fffdfc 0 138.4px,#fffffe 0 140.4px,#fef8f6 0 142.4px,#ffffff 0 144.4px,#f3f0f8 0 146.4px,#faf9fc 0 150.4px,#fffefd 0 152.4px,#f4f1f9 0 154.4px,#f0ecf6 0 156.4px,#eae5f3 0 158.4px,#f2eff8 0 160.4px,#f8f7fb 0 162.4px,#fefeff 0 164.5px,#f5f3f9 0 166.5px,#f8f7fb 0 168.5px,#ffffff 0 170.5px,#fffdfc 0 172.5px,#fefdfe 0 174.5px,#f8f6fb 0 176.5px,#fffefe 0 178.5px,#fdfdfe 0 180.5px,#eee9f5 0 182.5px,#f5f3f9 0 184.5px,#ede9f5 0 186.5px,#f4f1f9 0 188.5px,#fcfbfd 0 190.5px,#faf9fc 0 192.5px,#fffcfb 0 194.5px,#fffefe 0 196.5px,#fcfcfd 0 198.5px,#f3f0f8 0 200.6px,#f9f8fc 0 202.6px,#fcfbfd 0 204.6px,#fefdfe 0 208.6px,#fcfbfd 0 210.6px,#f6f4fa 0 212.6px,#ede8f5 0 214.6px,#f6f4fa 0 216.6px,#faf9fc 0 218.6px)"></div><div style="left:245.0px;top:2129.2px;width:110.2px;height:218.6px;background:linear-gradient(#cec4e4 0 2.0px,#c4b9e0 0 4.0px,#c9bfe2 0 6.0px,#cdc4e4 0 8.0px,#c8bde1 0 10.0px,#ded7ed 0 14.0px,#d9d1ea 0 16.0px,#ded8ed 0 18.0px,#dcd5ec 0 20.1px,#f0ecf7 0 22.1px,#f1edf7 0 24.1px,#f9f7fb 0 26.1px,#ece7f4 0 28.1px,#efeaf6 0 30.1px,#efebf6 0 32.1px,#e6e1f1 0 34.1px,#f0ecf6 0 36.1px,#f3f0f8 0 38.1px,#faf9fc 0 40.1px,#f7f5fa 0 42.1px,#fefefe 0 44.1px,#f3f0f8 0 46.1px,#f4f1f9 0 48.1px,#f2eff8 0 50.1px,#f2eef7 0 52.1px,#f4f1f9 0 54.1px,#f5f2f9 0 56.2px,#f3f0f8 0 58.2px,#e9e3f3 0 60.2px,#d1c8e6 0 62.2px,#bdb0dc 0 64.2px,#c8bde1 0 66.2px,#bbaedb 0 68.2px,#c0b4de 0 70.2px,#c7bde1 0 72.2px,#d0c8e5 0 74.2px,#b5a7d8 0 76.2px,#aea0d5 0 78.2px,#beb1dc 0 80.2px,#cac0e2 0 82.2px,#ccc3e3 0 84.2px,#d9d1ea 0 86.2px,#d8d0e9 0 88.2px,#dbd3eb 0 90.2px,#d5cde8 0 92.3px,#dbd4eb 0 94.3px,#d3cbe7 0 96.3px,#c9bfe2 0 98.3px,#c4b9e0 0 100.3px,#cfc6e5 0 102.3px,#d5cde8 0 104.3px,#d5cce8 0 106.3px,#c6bce1 0 108.3px,#d4cbe7 0 110.3px,#d6cee8 0 112.3px,#dcd5ec 0 114.3px,#eee9f5 0 116.3px,#d1c9e6 0 118.3px,#c2b7df 0 120.3px,#c4b8df 0 122.3px,#d4cbe7 0 124.3px,#d9d1ea 0 126.3px,#d5cde8 0 128.4px,#afa0d5 0 130.4px,#b2a5d7 0 132.4px,#c1b5de 0 134.4px,#cbc1e3 0 136.4px,#bcafdc 0 138.4px,#b9acda 0 140.4px,#b0a1d6 0 142.4px,#bcb0dc 0 144.4px,#bfb3dd 0 146.4px,#d2cae6 0 148.4px,#c3b8df 0 150.4px,#c1b5de 0 152.4px,#baaddb 0 154.4px,#a596d0 0 156.4px,#ac9ed4 0 158.4px,#c8bee1 0 160.4px,#cfc5e4 0 162.4px,#ccc3e3 0 164.5px,#ccc2e3 0 166.5px,#c9bfe2 0 168.5px,#cbc2e3 0 170.5px,#b8aada 0 172.5px,#c5bae0 0 174.5px,#aea0d5 0 176.5px,#cfc6e5 0 178.5px,#bfb2dd 0 180.5px,#ac9ed4 0 182.5px,#a697d1 0 186.5px,#b8abda 0 188.5px,#cfc6e5 0 190.5px,#d0c7e5 0 192.5px,#cac0e2 0 194.5px,#b4a6d8 0 198.5px,#b9acda 0 200.6px,#cdc3e4 0 202.6px,#cec5e4 0 204.6px,#cbc1e3 0 206.6px,#b2a4d7 0 208.6px,#c4b9df 0 210.6px,#b1a3d6 0 212.6px,#9a8aca 0 214.6px,#a99ad2 0 216.6px,#c1b5de 0 218.6px)"></div><div style="left:355.2px;top:2129.2px;width:109.9px;height:218.6px;background:linear-gradient(#827ebe 0 2.0px,#aea0d5 0 4.0px,#a394cf 0 6.0px,#9d8dcc 0 8.0px,#a798d1 0 10.0px,#ab9cd3 0 12.0px,#bfb3dd 0 14.0px,#8e85c5 0 16.0px,#8d84c4 0 18.0px,#a293cf 0 20.1px,#aa9bd3 0 22.1px,#a292ce 0 24.1px,#9c8ccc 0 26.1px,#6d79ba 0 28.1px,#747abb 0 30.1px,#9889c9 0 32.1px,#817ebe 0 34.1px,#787bbc 0 36.1px,#767bbb 0 38.1px,#8c83c3 0 40.1px,#9488c8 0 42.1px,#cbc1e3 0 44.1px,#837fbf 0 46.1px,#e7e1f1 0 48.1px,#d2c9e6 0 50.1px,#d5cce8 0 52.1px,#e7e1f1 0 54.1px,#e6e1f1 0 56.2px,#eee9f5 0 58.2px,#dad3eb 0 60.2px,#d0c7e5 0 62.2px,#7f7dbd 0 64.2px,#8b83c3 0 66.2px,#a899d2 0 68.2px,#b5a7d8 0 70.2px,#bdb1dc 0 72.2px,#9c8ccb 0 74.2px,#9085c5 0 76.2px,#737abb 0 78.2px,#7e7cbc 0 80.2px,#827ebe 0 82.2px,#a292ce 0 84.2px,#9f8fcd 0 86.2px,#a596d0 0 88.2px,#b3a5d7 0 90.2px,#8c83c3 0 92.3px,#c7bce1 0 94.3px,#8f85c5 0 96.3px,#8781c1 0 98.3px,#9588c8 0 100.3px,#9688c8 0 102.3px,#d3cae7 0 104.3px,#c7bde1 0 106.3px,#c6bce1 0 108.3px,#8a82c2 0 110.3px,#a191ce 0 112.3px,#a595d0 0 114.3px,#cfc5e4 0 116.3px,#b9abda 0 118.3px,#b7a9d9 0 120.3px,#9588c8 0 122.3px,#8c83c3 0 124.3px,#b3a5d7 0 126.3px,#8e84c4 0 128.4px,#7f7dbd 0 130.4px,#a899d1 0 132.4px,#a798d1 0 134.4px,#d3cbe7 0 136.4px,#9b8ccb 0 138.4px,#a394cf 0 140.4px,#b1a3d6 0 142.4px,#aa9bd2 0 144.4px,#c4b9e0 0 146.4px,#c9bfe2 0 148.4px,#beb2dd 0 150.4px,#cdc3e4 0 152.4px,#aa9cd3 0 154.4px,#c0b4de 0 156.4px,#b4a6d8 0 158.4px,#aea0d5 0 160.4px,#a394cf 0 162.4px,#a192ce 0 164.5px,#9a8bcb 0 166.5px,#8982c2 0 168.5px,#b9abda 0 170.5px,#bdb0dc 0 172.5px,#8881c1 0 174.5px,#9f8fcd 0 176.5px,#8f85c5 0 178.5px,#9487c7 0 180.5px,#737abb 0 184.5px,#6e79ba 0 186.5px,#817ebe 0 188.5px,#9c8dcc 0 190.5px,#ac9dd4 0 192.5px,#9186c6 0 194.5px,#ae9fd5 0 196.5px,#8881c1 0 198.5px,#9e8ecc 0 200.6px,#847fbf 0 202.6px,#9286c6 0 204.6px,#b3a5d7 0 206.6px,#a99ad2 0 208.6px,#9f8fcd 0 210.6px,#a596d0 0 212.6px,#9889c9 0 214.6px,#ad9fd4 0 216.6px,#9e8ecc 0 218.6px)"></div><div style="left:465.1px;top:2129.2px;width:109.9px;height:218.6px;background:linear-gradient(#9387c7 0 2.0px,#beb1dc 0 4.0px,#d4cbe7 0 6.0px,#d1c8e5 0 8.0px,#b1a3d7 0 10.0px,#b0a1d6 0 12.0px,#a697d1 0 14.0px,#9085c5 0 16.0px,#a697d1 0 18.0px,#a596d0 0 20.1px,#998aca 0 22.1px,#9085c5 0 24.1px,#ae9fd5 0 26.1px,#7c7cbc 0 28.1px,#9689c9 0 30.1px,#9889c9 0 32.1px,#8982c2 0 34.1px,#9a8bcb 0 36.1px,#a495d0 0 38.1px,#c8bee2 0 40.1px,#c9bfe2 0 42.1px,#bbafdb 0 44.1px,#8e84c4 0 46.1px,#9689c9 0 48.1px,#a090cd 0 50.1px,#9a8bcb 0 52.1px,#9e8fcd 0 54.1px,#b4a6d8 0 56.2px,#e2dcef 0 58.2px,#c3b7df 0 60.2px,#d1c8e6 0 62.2px,#c6bbe0 0 64.2px,#e0daee 0 66.2px,#eae5f3 0 68.2px,#d7cfe9 0 70.2px,#aa9cd3 0 72.2px,#9286c6 0 74.2px,#9c8ccb 0 76.2px,#837fbf 0 78.2px,#b0a2d6 0 80.2px,#a090cd 0 82.2px,#a394cf 0 84.2px,#8f85c5 0 86.2px,#a899d2 0 88.2px,#9689c9 0 90.2px,#8881c1 0 92.3px,#c4b9e0 0 94.3px,#ab9cd3 0 96.3px,#9287c7 0 98.3px,#9588c8 0 100.3px,#baaddb 0 102.3px,#b2a4d7 0 104.3px,#a697d1 0 106.3px,#8e84c4 0 108.3px,#727abb 0 110.3px,#9d8dcc 0 112.3px,#9c8ccb 0 114.3px,#bfb3dd 0 116.3px,#b0a1d6 0 118.3px,#ae9fd5 0 120.3px,#a192ce 0 122.3px,#ab9dd3 0 124.3px,#9c8ccc 0 126.3px,#a293cf 0 128.4px,#7e7cbd 0 130.4px,#998aca 0 132.4px,#b3a5d7 0 134.4px,#bfb3dd 0 136.4px,#bcb0dc 0 138.4px,#c6bbe0 0 140.4px,#c6bbe1 0 142.4px,#aa9bd3 0 144.4px,#bbafdb 0 146.4px,#a99ad2 0 148.4px,#aea0d5 0 150.4px,#a293cf 0 152.4px,#a99ad2 0 154.4px,#9286c6 0 156.4px,#9c8ccc 0 158.4px,#cec5e4 0 160.4px,#b4a6d8 0 162.4px,#a394cf 0 164.5px,#998aca 0 166.5px,#847fbf 0 168.5px,#9688c8 0 170.5px,#bbaedb 0 172.5px,#ab9dd3 0 174.5px,#8a82c2 0 176.5px,#b0a2d6 0 178.5px,#9688c8 0 180.5px,#a798d1 0 182.5px,#ad9fd4 0 184.5px,#8b83c3 0 186.5px,#9889c9 0 188.5px,#9b8bcb 0 190.5px,#8e84c4 0 192.5px,#bcb0dc 0 194.5px,#b9abda 0 196.5px,#b6a8d9 0 198.5px,#beb2dd 0 200.6px,#b4a6d8 0 202.6px,#c6bbe0 0 204.6px,#b7a9d9 0 206.6px,#a798d1 0 208.6px,#b8abda 0 210.6px,#a494cf 0 212.6px,#8f85c5 0 214.6px,#747abb 0 216.6px,#9286c6 0 218.6px)"></div><div style="left:575.0px;top:2129.2px;width:110.0px;height:218.6px;background:linear-gradient(#6677b9 0 2.0px,#6275b8 0 4.0px,#6677b9 0 6.0px,#807dbd 0 8.0px,#6175b8 0 10.0px,#7e7cbc 0 12.0px,#6777b9 0 14.0px,#9789c9 0 16.0px,#757bbb 0 18.0px,#8d84c4 0 20.1px,#6375b8 0 22.1px,#ab9cd3 0 24.1px,#787bbc 0 26.1px,#6878b9 0 28.1px,#6777b9 0 30.1px,#6878b9 0 32.1px,#6175b8 0 36.1px,#6476b9 0 38.1px,#787bbc 0 40.1px,#6777b9 0 42.1px,#7b7cbc 0 44.1px,#6375b8 0 46.1px,#777bbc 0 48.1px,#857fbf 0 50.1px,#6777b9 0 52.1px,#807dbd 0 54.1px,#9a8aca 0 56.2px,#6175b8 0 58.2px,#6778b9 0 60.2px,#6175b8 0 62.2px,#6376b8 0 64.2px,#6b78ba 0 66.2px,#9286c6 0 68.2px,#6375b8 0 70.2px,#6978b9 0 72.2px,#6878b9 0 74.2px,#6175b8 0 80.2px,#6476b8 0 82.2px,#6175b8 0 84.2px,#6576b9 0 86.2px,#6777b9 0 88.2px,#6677b9 0 90.2px,#6376b8 0 92.3px,#6878b9 0 96.3px,#6175b8 0 102.3px,#6677b9 0 104.3px,#6476b8 0 106.3px,#6c79ba 0 110.3px,#b2a4d7 0 112.3px,#aea0d5 0 114.3px,#8e84c4 0 116.3px,#7c7cbc 0 118.3px,#6275b8 0 122.3px,#6175b8 0 126.3px,#6476b8 0 128.4px,#6a78ba 0 130.4px,#8e84c4 0 132.4px,#7a7bbc 0 134.4px,#6878b9 0 136.4px,#7b7cbc 0 138.4px,#6778b9 0 140.4px,#777bbc 0 142.4px,#6175b8 0 144.4px,#757bbb 0 146.4px,#7a7bbc 0 148.4px,#837fbf 0 150.4px,#9a8bcb 0 152.4px,#6476b8 0 154.4px,#6175b8 0 158.4px,#737abb 0 160.4px,#6677b9 0 162.4px,#8680c0 0 164.5px,#6376b8 0 166.5px,#9789c9 0 168.5px,#9c8ccb 0 170.5px,#b2a4d7 0 172.5px,#797bbc 0 174.5px,#817ebe 0 176.5px,#6e79ba 0 178.5px,#9789c9 0 180.5px,#6576b9 0 182.5px,#9387c7 0 184.5px,#6175b8 0 186.5px,#6577b9 0 188.5px,#7a7cbc 0 190.5px,#6376b8 0 192.5px,#6f79ba 0 194.5px,#7b7cbc 0 196.5px,#9186c6 0 198.5px,#7a7cbc 0 200.6px,#777bbc 0 202.6px,#7c7cbc 0 204.6px,#8d84c4 0 206.6px,#7a7cbc 0 208.6px,#9b8bcb 0 210.6px,#6275b8 0 212.6px,#6175b8 0 214.6px,#6275b8 0 216.6px,#6878b9 0 218.6px)"></div><div style="left:685.0px;top:2129.2px;width:110.1px;height:218.6px;background:linear-gradient(#847fbf 0 2.0px,#6677b9 0 4.0px,#847fbf 0 6.0px,#6476b8 0 8.0px,#6275b8 0 10.0px,#6476b8 0 12.0px,#797bbc 0 14.0px,#6677b9 0 16.0px,#6878b9 0 18.0px,#9588c8 0 20.1px,#737abb 0 22.1px,#7e7cbc 0 24.1px,#6b79ba 0 26.1px,#6175b8 0 34.1px,#6375b8 0 36.1px,#777bbc 0 38.1px,#998aca 0 40.1px,#817ebe 0 42.1px,#827ebe 0 44.1px,#6677b9 0 46.1px,#6777b9 0 48.1px,#727abb 0 50.1px,#7079ba 0 52.1px,#6375b8 0 54.1px,#7e7cbd 0 56.2px,#717abb 0 58.2px,#757bbb 0 60.2px,#767bbb 0 62.2px,#797bbc 0 64.2px,#8680c0 0 66.2px,#777bbc 0 68.2px,#6275b8 0 70.2px,#6b79ba 0 72.2px,#6175b8 0 78.2px,#6576b9 0 80.2px,#6677b9 0 82.2px,#6777b9 0 84.2px,#787bbc 0 86.2px,#9e8ecc 0 88.2px,#a99ad2 0 90.2px,#7a7bbc 0 92.3px,#6e79ba 0 94.3px,#6275b8 0 96.3px,#6175b8 0 102.3px,#6677b9 0 104.3px,#6476b8 0 106.3px,#6175b8 0 108.3px,#6375b8 0 110.3px,#6175b8 0 112.3px,#6777b9 0 114.3px,#6e79ba 0 116.3px,#777bbb 0 118.3px,#8781c1 0 120.3px,#6778b9 0 122.3px,#6577b9 0 124.3px,#747abb 0 126.3px,#9286c6 0 128.4px,#6175b8 0 130.4px,#6677b9 0 132.4px,#797bbc 0 134.4px,#a191ce 0 136.4px,#8580c0 0 138.4px,#9186c6 0 140.4px,#9689c9 0 142.4px,#7a7bbc 0 144.4px,#6677b9 0 148.4px,#6777b9 0 150.4px,#6c79ba 0 152.4px,#6476b8 0 154.4px,#6275b8 0 156.4px,#6175b8 0 160.4px,#757bbb 0 162.4px,#7b7cbc 0 164.5px,#807dbd 0 166.5px,#6576b9 0 168.5px,#9b8bcb 0 170.5px,#837fbf 0 172.5px,#6c79ba 0 174.5px,#6878b9 0 176.5px,#6677b9 0 178.5px,#6b78ba 0 180.5px,#747abb 0 182.5px,#6476b8 0 184.5px,#6677b9 0 186.5px,#6275b8 0 188.5px,#777bbb 0 190.5px,#777bbc 0 192.5px,#7b7cbc 0 194.5px,#6476b9 0 196.5px,#7e7cbd 0 198.5px,#6576b9 0 202.6px,#6677b9 0 204.6px,#6175b8 0 206.6px,#6576b9 0 208.6px,#8982c2 0 210.6px,#6777b9 0 212.6px,#6175b8 0 214.6px,#6275b8 0 216.6px,#6175b8 0 218.6px)"></div><div style="left:808.1px;top:2129.2px;width:109.8px;height:218.6px;background:linear-gradient(#cdc3e4 0 2.0px,#e2dbef 0 4.0px,#e5dff1 0 6.0px,#d6cee9 0 8.0px,#ccc3e3 0 10.0px,#d7cfe9 0 12.0px,#c9bfe2 0 14.0px,#c2b6de 0 16.0px,#cec5e4 0 18.0px,#e8e2f2 0 20.1px,#cfc6e5 0 22.1px,#ddd6ec 0 24.1px,#c7bce1 0 26.1px,#b4a6d8 0 28.1px,#baacdb 0 30.1px,#b5a7d8 0 32.1px,#b4a6d8 0 34.1px,#c1b6de 0 36.1px,#cec4e4 0 38.1px,#e4def0 0 40.1px,#d3cbe7 0 42.1px,#d9d1ea 0 44.1px,#c6bce1 0 46.1px,#baaddb 0 48.1px,#cbc1e3 0 50.1px,#ad9ed4 0 52.1px,#bfb3dd 0 54.1px,#d6cee8 0 56.2px,#c0b5de 0 58.2px,#cbc1e3 0 60.2px,#cdc3e4 0 62.2px,#c7bde1 0 64.2px,#d8d1ea 0 66.2px,#cbc2e3 0 68.2px,#d3cbe7 0 70.2px,#dbd4eb 0 72.2px,#cac0e3 0 74.2px,#bdb0dc 0 76.2px,#bbaedb 0 78.2px,#cbc1e3 0 80.2px,#cfc6e5 0 82.2px,#dfd8ed 0 84.2px,#cfc6e5 0 86.2px,#dcd5ec 0 88.2px,#cfc6e5 0 90.2px,#d9d1ea 0 92.3px,#d8d0e9 0 94.3px,#d4cbe7 0 96.3px,#bcafdc 0 98.3px,#c2b6de 0 100.3px,#d3cbe7 0 102.3px,#dad2ea 0 104.3px,#d3cae6 0 106.3px,#c4b9e0 0 108.3px,#c7bce1 0 112.3px,#dcd5ec 0 114.3px,#dad2ea 0 116.3px,#e1daee 0 118.3px,#d1c8e5 0 120.3px,#d1c8e6 0 122.3px,#d4cbe7 0 124.3px,#d7cfe9 0 126.3px,#d0c7e5 0 128.4px,#cdc4e4 0 130.4px,#cec4e4 0 132.4px,#e2dcef 0 134.4px,#dcd5ec 0 136.4px,#d4cce7 0 138.4px,#d3cbe7 0 140.4px,#e2dcef 0 142.4px,#e1daee 0 144.4px,#dad2ea 0 146.4px,#d3cae7 0 148.4px,#d4cbe7 0 150.4px,#cbc1e3 0 152.4px,#bdb0dc 0 154.4px,#c2b6de 0 156.4px,#cdc4e4 0 158.4px,#bdb1dc 0 160.4px,#c7bce1 0 162.4px,#cbc2e3 0 164.5px,#c6bbe0 0 166.5px,#ccc3e3 0 168.5px,#d6cee8 0 170.5px,#e3ddf0 0 172.5px,#c4b9e0 0 174.5px,#c9bfe2 0 176.5px,#d8d0e9 0 178.5px,#ded7ec 0 180.5px,#cdc3e4 0 182.5px,#dbd3eb 0 184.5px,#ccc2e3 0 186.5px,#cfc6e5 0 188.5px,#e8e2f2 0 190.5px,#d2c9e6 0 192.5px,#ddd6ec 0 194.5px,#d9d1ea 0 196.5px,#c9bfe2 0 198.5px,#c2b6de 0 200.6px,#d0c8e5 0 202.6px,#dbd4eb 0 206.6px,#ebe6f4 0 208.6px,#f5f3fa 0 210.6px,#d0c7e5 0 212.6px,#c3b8df 0 214.6px,#baacdb 0 216.6px,#cdc3e4 0 218.6px)"></div><div style="left:917.9px;top:2129.2px;width:110.0px;height:218.6px;background:linear-gradient(#a596d0 0 2.0px,#bdb0dc 0 4.0px,#d3cae7 0 6.0px,#b4a7d8 0 8.0px,#ac9ed4 0 10.0px,#a091ce 0 12.0px,#c3b7df 0 14.0px,#ab9cd3 0 16.0px,#b2a4d7 0 18.0px,#aea0d5 0 20.1px,#ac9dd4 0 22.1px,#aea0d5 0 24.1px,#beb2dd 0 26.1px,#ad9fd4 0 28.1px,#bdb1dc 0 30.1px,#ccc3e3 0 32.1px,#afa1d5 0 34.1px,#b5a7d8 0 38.1px,#d8d1ea 0 40.1px,#d4cbe7 0 42.1px,#d2c9e6 0 44.1px,#a899d1 0 46.1px,#b5a8d9 0 48.1px,#9f8fcd 0 50.1px,#a394cf 0 52.1px,#a99ad2 0 54.1px,#b2a4d7 0 56.2px,#b3a5d7 0 58.2px,#b0a2d6 0 60.2px,#b3a6d8 0 62.2px,#9e8fcd 0 64.2px,#ad9ed4 0 66.2px,#c3b8df 0 68.2px,#b4a7d8 0 70.2px,#c8bde1 0 72.2px,#b5a8d9 0 74.2px,#b0a1d6 0 76.2px,#b9acda 0 78.2px,#b4a6d8 0 80.2px,#d4cce7 0 82.2px,#b7a9d9 0 84.2px,#b4a6d8 0 86.2px,#bcafdc 0 88.2px,#c5bbe0 0 90.2px,#aea0d5 0 92.3px,#b8abda 0 94.3px,#a697d1 0 96.3px,#a192ce 0 98.3px,#a697d1 0 100.3px,#cac0e2 0 102.3px,#cec5e4 0 104.3px,#d4cce7 0 106.3px,#ac9dd3 0 108.3px,#ad9fd4 0 110.3px,#c8bee2 0 112.3px,#cbc1e3 0 114.3px,#d6cfe9 0 116.3px,#d6cee8 0 118.3px,#d7cfe9 0 120.3px,#ab9dd3 0 124.3px,#a899d2 0 126.3px,#b8aada 0 128.4px,#aa9bd3 0 130.4px,#b3a5d8 0 132.4px,#c0b4de 0 134.4px,#c7bce1 0 136.4px,#c9bee2 0 138.4px,#cdc3e4 0 140.4px,#bdb1dc 0 142.4px,#c8bee1 0 144.4px,#d0c7e5 0 146.4px,#ccc2e3 0 148.4px,#beb2dd 0 150.4px,#d1c9e6 0 152.4px,#b4a6d8 0 154.4px,#b0a2d6 0 156.4px,#a899d2 0 158.4px,#baaddb 0 160.4px,#a394cf 0 162.4px,#b4a6d8 0 164.5px,#b6a9d9 0 166.5px,#a99ad2 0 168.5px,#d0c7e5 0 170.5px,#bfb3dd 0 172.5px,#b4a6d8 0 174.5px,#a798d1 0 176.5px,#b3a5d7 0 178.5px,#ab9dd3 0 180.5px,#ad9fd4 0 182.5px,#b8aada 0 184.5px,#a394cf 0 186.5px,#baaddb 0 188.5px,#beb2dd 0 190.5px,#a99ad2 0 192.5px,#bbaedb 0 194.5px,#d1c8e6 0 196.5px,#d1c8e5 0 198.5px,#b9acda 0 200.6px,#a495d0 0 202.6px,#afa1d5 0 204.6px,#b0a2d6 0 206.6px,#ac9dd4 0 208.6px,#c8bde1 0 210.6px,#a596d0 0 212.6px,#a697d1 0 214.6px,#9d8dcc 0 216.6px,#b7a9d9 0 218.6px)"></div><div style="left:134.8px;top:2354.9px;width:110.2px;height:87.6px;background:linear-gradient(#fdf0eb 0 2.0px,#fef3ef 0 4.0px,#fdeee9 0 6.0px,#fce8e1 0 8.0px,#fdece6 0 10.0px,#fef5f2 0 11.9px,#fffbfa 0 13.9px,#fdf0eb 0 15.9px,#fdede7 0 17.9px,#fdf1ed 0 19.9px,#fdf2ed 0 21.9px,#fef8f6 0 23.9px,#fef4f1 0 25.9px,#fef8f6 0 27.9px,#fffbfa 0 29.9px,#fef4f0 0 31.9px,#fce2d9 0 33.8px,#fbdfd5 0 35.8px,#fce3d9 0 37.8px,#fdf1ec 0 39.8px,#fdeee9 0 41.8px,#fceae3 0 43.8px,#fdefea 0 45.8px,#fce4db 0 47.8px,#fce8e1 0 49.8px,#fef5f2 0 51.8px,#fdece6 0 53.8px,#fefeff 0 55.7px,#fdf0eb 0 57.7px,#fefaf9 0 59.7px,#fef9f6 0 61.7px,#fce8e0 0 63.7px,#fce6dd 0 65.7px,#fdeae4 0 67.7px,#fdeee9 0 69.7px,#fef4f0 0 71.7px,#fce9e1 0 73.7px,#fce4db 0 75.7px,#fce2d9 0 77.6px,#f9d1c1 0 79.6px,#fad8cb 0 81.6px,#fbddd2 0 83.6px,#ffffff 0 85.6px,#fce9e2 0 87.6px)"></div><div style="left:245.0px;top:2354.9px;width:110.2px;height:87.6px;background:linear-gradient(#aa9cd3 0 2.0px,#ab9cd3 0 4.0px,#c4b8df 0 6.0px,#c2b7df 0 8.0px,#c1b6de 0 10.0px,#b7a9d9 0 11.9px,#bbaedb 0 13.9px,#cbc1e3 0 15.9px,#c2b7df 0 17.9px,#b8abda 0 19.9px,#dad2ea 0 21.9px,#d7cfe9 0 23.9px,#d4cce7 0 25.9px,#beb2dd 0 27.9px,#d0c7e5 0 29.9px,#bcb0dc 0 31.9px,#bbaedb 0 33.8px,#aea0d5 0 35.8px,#b0a2d6 0 37.8px,#cdc3e4 0 39.8px,#ddd6ec 0 41.8px,#bbaedb 0 43.8px,#bcafdc 0 45.8px,#b4a6d8 0 47.8px,#9e8ecc 0 49.8px,#9d8dcc 0 51.8px,#ab9dd3 0 53.8px,#b8abda 0 55.7px,#b3a5d7 0 57.7px,#baaddb 0 59.7px,#ccc2e3 0 61.7px,#c7bce1 0 63.7px,#efeaf6 0 65.7px,#c3b7df 0 67.7px,#b8aada 0 69.7px,#b5a7d8 0 71.7px,#c3b8df 0 73.7px,#cfc6e5 0 75.7px,#c2b7df 0 77.6px,#bdb1dc 0 79.6px,#b8aada 0 81.6px,#baaddb 0 83.6px,#c7bde1 0 85.6px,#dfd9ed 0 87.6px)"></div><div style="left:355.2px;top:2354.9px;width:109.9px;height:87.6px;background:linear-gradient(#bfb2dd 0 2.0px,#ac9ed4 0 4.0px,#ac9dd4 0 6.0px,#c1b5de 0 8.0px,#c3b7df 0 10.0px,#ac9dd4 0 11.9px,#a798d1 0 13.9px,#b5a7d8 0 15.9px,#ab9cd3 0 19.9px,#a293cf 0 21.9px,#b0a2d6 0 23.9px,#9f8fcd 0 25.9px,#9b8bcb 0 27.9px,#7c7cbc 0 29.9px,#9387c7 0 31.9px,#998aca 0 33.8px,#b2a4d7 0 35.8px,#9e8fcd 0 37.8px,#a798d1 0 39.8px,#c4b9df 0 41.8px,#ad9fd4 0 43.8px,#9a8aca 0 45.8px,#8b83c3 0 47.8px,#837fbf 0 49.8px,#9488c8 0 51.8px,#a191ce 0 53.8px,#8f85c5 0 55.7px,#9286c6 0 57.7px,#9085c5 0 59.7px,#a090ce 0 61.7px,#9789c9 0 63.7px,#a697d1 0 65.7px,#9f90cd 0 67.7px,#9c8ccc 0 69.7px,#afa1d5 0 71.7px,#bfb3dd 0 73.7px,#b3a5d8 0 75.7px,#c0b4de 0 77.6px,#c6bbe0 0 79.6px,#a293cf 0 81.6px,#9e8fcd 0 85.6px,#a798d1 0 87.6px)"></div><div style="left:465.1px;top:2354.9px;width:109.9px;height:87.6px;background:linear-gradient(#aa9bd3 0 2.0px,#8d84c4 0 4.0px,#9b8bcb 0 6.0px,#a595d0 0 8.0px,#bdb1dc 0 10.0px,#8f85c5 0 11.9px,#b4a6d8 0 13.9px,#b1a2d6 0 15.9px,#afa1d5 0 17.9px,#a394cf 0 19.9px,#a191ce 0 21.9px,#a596d0 0 23.9px,#9f8fcd 0 25.9px,#afa1d5 0 27.9px,#a99bd2 0 29.9px,#b2a4d7 0 31.9px,#b0a2d6 0 33.8px,#9a8aca 0 35.8px,#988aca 0 37.8px,#b1a3d6 0 39.8px,#c2b6de 0 41.8px,#c0b4de 0 43.8px,#998aca 0 45.8px,#9789c9 0 47.8px,#9a8aca 0 49.8px,#9e8ecc 0 51.8px,#c1b5de 0 53.8px,#a696d0 0 55.7px,#b7aada 0 57.7px,#b8aada 0 59.7px,#ac9dd4 0 61.7px,#a494cf 0 63.7px,#c2b6de 0 65.7px,#bbafdc 0 67.7px,#9186c6 0 69.7px,#ab9cd3 0 71.7px,#b1a3d7 0 73.7px,#baaddb 0 75.7px,#b2a4d7 0 77.6px,#d8d0e9 0 79.6px,#b1a3d7 0 81.6px,#c9bfe2 0 83.6px,#ad9fd4 0 85.6px,#bbaedb 0 87.6px)"></div><div style="left:575.0px;top:2354.9px;width:110.0px;height:87.6px;background:linear-gradient(#a697d1 0 2.0px,#6778b9 0 4.0px,#6978ba 0 6.0px,#9286c6 0 8.0px,#e5dff0 0 10.0px,#6777b9 0 11.9px,#9789c9 0 13.9px,#8680c0 0 15.9px,#a394cf 0 17.9px,#a292ce 0 19.9px,#847fbf 0 21.9px,#747abb 0 23.9px,#6175b8 0 29.9px,#757bbb 0 31.9px,#6d79ba 0 33.8px,#6375b8 0 35.8px,#6175b8 0 37.8px,#827ebe 0 39.8px,#767bbb 0 41.8px,#797bbc 0 43.8px,#6778b9 0 45.8px,#6175b8 0 51.8px,#6476b8 0 53.8px,#6577b9 0 55.7px,#8a82c2 0 57.7px,#6b78ba 0 59.7px,#857fbf 0 61.7px,#a393cf 0 63.7px,#9d8dcc 0 65.7px,#767bbb 0 67.7px,#6275b8 0 69.7px,#6175b8 0 71.7px,#6577b9 0 73.7px,#6978ba 0 75.7px,#7a7cbc 0 77.6px,#7e7cbd 0 79.6px,#737abb 0 81.6px,#767bbb 0 83.6px,#6978ba 0 85.6px,#998aca 0 87.6px)"></div><div style="left:685.0px;top:2354.9px;width:110.1px;height:87.6px;background:linear-gradient(#6275b8 0 2.0px,#6878b9 0 4.0px,#6f79ba 0 6.0px,#737abb 0 8.0px,#7f7dbd 0 10.0px,#6677b9 0 11.9px,#6d79ba 0 13.9px,#7079bb 0 15.9px,#6275b8 0 17.9px,#6175b8 0 19.9px,#6777b9 0 21.9px,#9a8aca 0 23.9px,#827ebe 0 25.9px,#6677b9 0 27.9px,#6175b8 0 29.9px,#6275b8 0 31.9px,#777bbc 0 33.8px,#6777b9 0 35.8px,#6175b8 0 37.8px,#9086c6 0 39.8px,#c4b8df 0 41.8px,#a494cf 0 43.8px,#7c7cbc 0 45.8px,#9a8bcb 0 47.8px,#7f7dbd 0 49.8px,#757abb 0 51.8px,#737abb 0 53.8px,#6476b8 0 55.7px,#777bbc 0 57.7px,#6777b9 0 59.7px,#707abb 0 61.7px,#6a78ba 0 63.7px,#747abb 0 65.7px,#6777b9 0 67.7px,#6476b9 0 69.7px,#6175b8 0 71.7px,#9b8bcb 0 73.7px,#6a78ba 0 75.7px,#827ebe 0 77.6px,#aa9bd3 0 79.6px,#988aca 0 81.6px,#787bbc 0 83.6px,#6175b8 0 85.6px,#6a78ba 0 87.6px)"></div><div style="left:808.1px;top:2354.9px;width:109.8px;height:87.6px;background:linear-gradient(#d6cee8 0 2.0px,#c5bae0 0 4.0px,#cfc5e4 0 6.0px,#dcd5ec 0 8.0px,#dbd4eb 0 10.0px,#c8bee1 0 11.9px,#cec5e4 0 13.9px,#d9d2ea 0 15.9px,#c9bee2 0 17.9px,#d7cfe9 0 19.9px,#c3b7df 0 21.9px,#d3cae7 0 23.9px,#cbc1e3 0 25.9px,#bdb0dc 0 27.9px,#bcafdc 0 29.9px,#c7bce1 0 31.9px,#c9bfe2 0 33.8px,#c5bae0 0 35.8px,#bfb3dd 0 37.8px,#c0b5de 0 39.8px,#d1c9e6 0 41.8px,#c9bfe2 0 43.8px,#bcb0dc 0 45.8px,#ccc3e3 0 47.8px,#bbaedb 0 49.8px,#c3b7df 0 51.8px,#c5bae0 0 53.8px,#b5a7d8 0 55.7px,#c0b4dd 0 57.7px,#beb2dd 0 59.7px,#ccc2e3 0 61.7px,#d4cbe7 0 63.7px,#d9d1ea 0 65.7px,#cbc1e3 0 67.7px,#c7bde1 0 69.7px,#d9d1ea 0 71.7px,#e1dbef 0 73.7px,#cdc4e4 0 75.7px,#ccc2e3 0 77.6px,#c5bae0 0 79.6px,#cdc4e4 0 81.6px,#d4cce7 0 83.6px,#d3cbe7 0 85.6px,#d7cfe9 0 87.6px)"></div><div style="left:917.9px;top:2354.9px;width:110.0px;height:87.6px;background:linear-gradient(#b9abda 0 2.0px,#b4a6d8 0 4.0px,#aea0d5 0 6.0px,#cac0e2 0 8.0px,#b7aada 0 10.0px,#a090cd 0 11.9px,#ab9cd3 0 13.9px,#ac9dd4 0 15.9px,#aa9bd2 0 17.9px,#b3a5d7 0 19.9px,#afa1d5 0 21.9px,#b6a8d9 0 23.9px,#aa9bd3 0 25.9px,#ac9dd4 0 27.9px,#8c84c4 0 29.9px,#b6a9d9 0 31.9px,#b1a2d6 0 33.8px,#b5a7d8 0 35.8px,#a495d0 0 37.8px,#ab9dd3 0 39.8px,#b4a6d8 0 41.8px,#a596d0 0 45.8px,#ac9dd4 0 47.8px,#b2a4d7 0 49.8px,#a99ad2 0 51.8px,#c6bbe1 0 53.8px,#b9acda 0 55.7px,#c0b4de 0 57.7px,#cac0e2 0 59.7px,#aea0d5 0 61.7px,#b2a4d7 0 63.7px,#b8abda 0 65.7px,#c2b7df 0 67.7px,#aa9bd3 0 69.7px,#aa9cd3 0 71.7px,#bbaedb 0 73.7px,#b5a8d9 0 75.7px,#b8aada 0 77.6px,#beb2dd 0 79.6px,#b4a6d8 0 81.6px,#a697d1 0 83.6px,#b1a3d6 0 85.6px,#c2b6de 0 87.6px)"></div><div style="left:134.8px;top:2450.0px;width:110.2px;height:100.8px;background:linear-gradient(#fdf2ed 0 4.0px,#fef4f0 0 8.1px,#fefaf8 0 10.1px,#fbfafd 0 12.1px,#fffefe 0 14.1px,#fdf0eb 0 16.1px,#fceae3 0 18.1px,#fbe2d8 0 20.2px,#fefaf8 0 22.2px,#fef3ee 0 24.2px,#fdf0eb 0 26.2px,#fffcfb 0 28.2px,#fce8e0 0 30.2px,#fce3d9 0 32.3px,#fffcfb 0 34.3px,#f5f3fa 0 36.3px,#f6f3fa 0 38.3px,#fdfdfe 0 40.3px,#fcfcfd 0 42.3px,#fce7df 0 44.4px,#fbe1d6 0 46.4px,#fce5dc 0 48.4px,#fdf1ed 0 50.4px,#fdefea 0 52.4px,#fefdfe 0 54.4px,#faf9fc 0 56.4px,#fefaf8 0 58.5px,#fef9f7 0 60.5px,#fdf0eb 0 62.5px,#fdece6 0 64.5px,#fef4f0 0 66.5px,#fffefd 0 68.5px,#faf9fc 0 70.6px,#d6cee8 0 72.6px,#d5cce8 0 74.6px,#efebf6 0 76.6px,#cec5e4 0 78.6px,#e4def0 0 80.6px,#dad3eb 0 82.7px,#ddd6ec 0 84.7px,#e3ddef 0 86.7px,#e6e1f1 0 88.7px,#e3ddef 0 90.7px,#ebe6f4 0 92.7px,#d0c7e5 0 94.8px,#ddd6ec 0 96.8px,#eae5f3 0 98.8px,#e7e1f1 0 100.8px)"></div><div style="left:245.0px;top:2450.0px;width:110.2px;height:100.8px;background:linear-gradient(#fdf1ec 0 2.0px,#fef3ef 0 6.0px,#fdece6 0 8.1px,#fdede7 0 10.1px,#fef9f7 0 12.1px,#fdf1ec 0 14.1px,#fce5dd 0 16.1px,#fdece6 0 18.1px,#fce9e2 0 20.2px,#fefefe 0 22.2px,#fefaf8 0 24.2px,#fef6f3 0 26.2px,#fef5f2 0 28.2px,#fdebe5 0 30.2px,#fef4f1 0 32.3px,#fffdfc 0 36.3px,#fef9f6 0 38.3px,#fef6f3 0 40.3px,#fef9f7 0 42.3px,#fdf0eb 0 44.4px,#fdece6 0 46.4px,#fef5f2 0 48.4px,#fef7f4 0 50.4px,#fef4f0 0 52.4px,#fffcfb 0 54.4px,#fffefe 0 56.4px,#fef7f4 0 58.5px,#fdf1ec 0 60.5px,#fdf0ec 0 62.5px,#fce3d9 0 64.5px,#fce6de 0 66.5px,#fffcfb 0 68.5px,#faf9fc 0 70.6px,#fefbf9 0 72.6px,#fdf2ee 0 74.6px,#fef4f0 0 76.6px,#ffffff 0 78.6px,#fef9f7 0 80.6px,#fffbfa 0 82.7px,#fffdfc 0 86.7px,#fffefe 0 88.7px,#fffdfc 0 90.7px,#fdf2ee 0 92.7px,#fdeee9 0 94.8px,#fbdfd5 0 96.8px,#fdf1ed 0 98.8px,#fffcfb 0 100.8px)"></div><div style="left:355.2px;top:2450.0px;width:109.9px;height:100.8px;background:linear-gradient(#fefefe 0 2.0px,#fbfafd 0 6.0px,#f9f7fb 0 8.1px,#fbf9fd 0 10.1px,#eeeaf5 0 12.1px,#e4def0 0 14.1px,#f0ecf6 0 16.1px,#f8f6fb 0 18.1px,#f4f1f9 0 20.2px,#a899d2 0 22.2px,#b2a4d7 0 24.2px,#c9bfe2 0 26.2px,#d0c7e5 0 28.2px,#e1daee 0 30.2px,#ece7f4 0 32.3px,#dbd3eb 0 34.3px,#cac0e2 0 36.3px,#bfb3dd 0 38.3px,#c3b8df 0 40.3px,#c1b5de 0 42.3px,#d2cae6 0 44.4px,#d9d1ea 0 46.4px,#ccc2e3 0 48.4px,#d9d2ea 0 50.4px,#c5bae0 0 52.4px,#b3a5d7 0 54.4px,#b5a8d9 0 56.4px,#ac9dd4 0 58.5px,#bcb0dc 0 60.5px,#c5bae0 0 62.5px,#c9bee2 0 64.5px,#b6a9d9 0 66.5px,#b5a7d8 0 68.5px,#bbaedb 0 70.6px,#cbc1e3 0 72.6px,#ded8ed 0 74.6px,#bdb1dc 0 78.6px,#cabfe2 0 80.6px,#c1b5de 0 82.7px,#c3b8df 0 84.7px,#c0b4de 0 86.7px,#b9acdb 0 88.7px,#cec4e4 0 90.7px,#cec5e4 0 92.7px,#cac0e2 0 94.8px,#d8d0ea 0 96.8px,#ded7ec 0 98.8px,#c1b6de 0 100.8px)"></div><div style="left:465.1px;top:2450.0px;width:109.9px;height:100.8px;background:linear-gradient(#fce5dc 0 2.0px,#fdebe4 0 4.0px,#fef4f0 0 6.0px,#fef9f7 0 8.1px,#fdf0eb 0 10.1px,#fef9f7 0 12.1px,#fcfbfd 0 14.1px,#ffffff 0 16.1px,#fefbf9 0 18.1px,#fffbfa 0 20.2px,#ad9fd4 0 22.2px,#8f85c5 0 24.2px,#a899d2 0 26.2px,#c8bee2 0 28.2px,#e0daee 0 30.2px,#d7cfe9 0 32.3px,#a495d0 0 34.3px,#9186c6 0 36.3px,#c6bbe0 0 38.3px,#c7bce1 0 40.3px,#bcb0dc 0 42.3px,#cec4e4 0 44.4px,#c0b4de 0 46.4px,#b8aada 0 48.4px,#ad9fd4 0 50.4px,#b6a8d9 0 52.4px,#cec5e4 0 54.4px,#ccc3e3 0 56.4px,#c3b8df 0 58.5px,#b5a7d8 0 60.5px,#c8bde1 0 62.5px,#dad2ea 0 64.5px,#d2cae6 0 66.5px,#aa9bd2 0 68.5px,#ae9fd5 0 70.6px,#b4a6d8 0 72.6px,#c7bde1 0 74.6px,#c5bae0 0 76.6px,#b3a6d8 0 78.6px,#a293cf 0 80.6px,#b9abda 0 82.7px,#cbc1e3 0 86.7px,#ebe6f4 0 88.7px,#c4b9df 0 90.7px,#d9d1ea 0 92.7px,#c6bbe0 0 94.8px,#d0c7e5 0 96.8px,#998aca 0 98.8px,#a292ce 0 100.8px)"></div><div style="left:575.0px;top:2450.0px;width:110.0px;height:100.8px;background:linear-gradient(#aea0d5 0 2.0px,#787bbc 0 4.0px,#6777b9 0 6.0px,#797bbc 0 8.1px,#9889c9 0 10.1px,#6778b9 0 12.1px,#6375b8 0 14.1px,#6476b9 0 16.1px,#8e85c5 0 18.1px,#6677b9 0 20.2px,#6476b9 0 22.2px,#6175b8 0 24.2px,#6c79ba 0 26.2px,#6275b8 0 28.2px,#8781c1 0 30.2px,#6677b9 0 32.3px,#757bbb 0 34.3px,#6275b8 0 36.3px,#6778b9 0 38.3px,#6e79ba 0 40.3px,#797bbc 0 42.3px,#6375b8 0 44.4px,#7d7cbc 0 46.4px,#7b7cbc 0 48.4px,#6677b9 0 50.4px,#767bbb 0 52.4px,#7a7cbc 0 54.4px,#8680c0 0 56.4px,#797bbc 0 58.5px,#717abb 0 60.5px,#6577b9 0 62.5px,#777bbc 0 64.5px,#6e79ba 0 66.5px,#6376b8 0 68.5px,#8b83c3 0 70.6px,#a697d0 0 72.6px,#9889c9 0 74.6px,#a091ce 0 76.6px,#6777b9 0 78.6px,#6275b8 0 80.6px,#6476b8 0 82.7px,#6778b9 0 84.7px,#9186c6 0 86.7px,#7a7cbc 0 88.7px,#7b7cbc 0 90.7px,#6f79ba 0 92.7px,#b1a3d6 0 94.8px,#9c8ccc 0 96.8px,#bbaedb 0 98.8px,#ad9ed4 0 100.8px)"></div><div style="left:685.0px;top:2450.0px;width:110.1px;height:100.8px;background:linear-gradient(#847fbf 0 2.0px,#7e7cbc 0 4.0px,#827ebe 0 6.0px,#998aca 0 8.1px,#8c83c3 0 10.1px,#6476b8 0 12.1px,#6175b8 0 14.1px,#6777b9 0 16.1px,#8c83c3 0 18.1px,#6376b8 0 20.2px,#6777b9 0 22.2px,#6175b8 0 24.2px,#6375b8 0 28.2px,#6275b8 0 30.2px,#717abb 0 32.3px,#8a82c2 0 34.3px,#6878b9 0 36.3px,#6476b8 0 38.3px,#837fbf 0 40.3px,#6175b8 0 42.3px,#6f79ba 0 44.4px,#7a7cbc 0 46.4px,#b0a1d6 0 48.4px,#8e84c4 0 50.4px,#7a7bbc 0 52.4px,#6576b9 0 54.4px,#6677b9 0 56.4px,#6878b9 0 58.5px,#6677b9 0 60.5px,#6175b8 0 62.5px,#7d7cbc 0 64.5px,#6677b9 0 66.5px,#6175b8 0 70.6px,#6d79ba 0 72.6px,#6677b9 0 74.6px,#8d84c4 0 76.6px,#6777b9 0 78.6px,#6878b9 0 80.6px,#6677b9 0 82.7px,#6b78ba 0 84.7px,#a091ce 0 86.7px,#717abb 0 88.7px,#737abb 0 90.7px,#6677b9 0 92.7px,#6175b8 0 94.8px,#6a78ba 0 96.8px,#6677b9 0 98.8px,#6375b8 0 100.8px)"></div><div style="left:808.1px;top:2450.0px;width:109.8px;height:100.8px;background:linear-gradient(#f6f4fa 0 2.0px,#e1daee 0 4.0px,#d4cbe7 0 6.0px,#d6cee8 0 8.1px,#ddd6ec 0 10.1px,#d8d0e9 0 12.1px,#dad3eb 0 14.1px,#ebe6f4 0 16.1px,#f2eff8 0 18.1px,#e0d9ee 0 20.2px,#cdc4e4 0 22.2px,#dbd3eb 0 24.2px,#eae4f3 0 26.2px,#efebf6 0 28.2px,#f8f6fb 0 30.2px,#efeaf6 0 32.3px,#e8e3f2 0 34.3px,#cac0e2 0 36.3px,#cfc6e5 0 38.3px,#e9e3f2 0 40.3px,#e7e1f1 0 42.3px,#eae5f3 0 44.4px,#ddd6ec 0 46.4px,#f1edf7 0 48.4px,#eeeaf5 0 50.4px,#efebf6 0 52.4px,#e0daee 0 54.4px,#d3cbe7 0 56.4px,#cfc6e5 0 58.5px,#e0d9ee 0 60.5px,#eae5f3 0 62.5px,#ffffff 0 64.5px,#e5dff0 0 66.5px,#ddd6ec 0 68.5px,#eae5f3 0 70.6px,#eae4f3 0 72.6px,#eeeaf5 0 74.6px,#e6e0f1 0 76.6px,#e7e1f1 0 78.6px,#e1daee 0 80.6px,#e7e1f1 0 82.7px,#ece7f4 0 84.7px,#e9e4f3 0 86.7px,#f1edf7 0 90.7px,#f0ecf6 0 92.7px,#e8e2f2 0 94.8px,#e9e4f3 0 96.8px,#e4def0 0 98.8px,#d9d1ea 0 100.8px)"></div><div style="left:917.9px;top:2450.0px;width:110.0px;height:100.8px;background:linear-gradient(#e1daee 0 2.0px,#dad2ea 0 4.0px,#c3b7df 0 6.0px,#b9abda 0 8.1px,#d2cae6 0 10.1px,#bbaedb 0 12.1px,#baaddb 0 14.1px,#d2cae6 0 16.1px,#d0c7e5 0 18.1px,#c5bae0 0 20.2px,#c0b4de 0 22.2px,#bfb3dd 0 24.2px,#c0b4de 0 26.2px,#b4a6d8 0 28.2px,#beb2dd 0 30.2px,#c6bbe0 0 32.3px,#c0b4de 0 34.3px,#b5a7d8 0 36.3px,#c0b3dd 0 38.3px,#cac0e2 0 40.3px,#a596d0 0 42.3px,#b4a6d8 0 44.4px,#d6cee8 0 46.4px,#d4cbe7 0 48.4px,#c6bce1 0 50.4px,#b6a8d9 0 52.4px,#baaddb 0 54.4px,#bcafdc 0 56.4px,#b4a6d8 0 58.5px,#c1b6de 0 60.5px,#baaddb 0 62.5px,#b8aada 0 64.5px,#ccc3e3 0 66.5px,#b7aad9 0 68.5px,#a191ce 0 70.6px,#b5a7d8 0 72.6px,#bdb0dc 0 74.6px,#c5bae0 0 76.6px,#ac9ed4 0 78.6px,#afa0d5 0 80.6px,#b2a4d7 0 82.7px,#ccc3e3 0 84.7px,#cabfe2 0 86.7px,#c4b9e0 0 88.7px,#beb2dd 0 92.7px,#ad9fd4 0 94.8px,#b6a8d9 0 96.8px,#c2b6df 0 98.8px,#b8aada 0 100.8px)"></div></div></body></html>
